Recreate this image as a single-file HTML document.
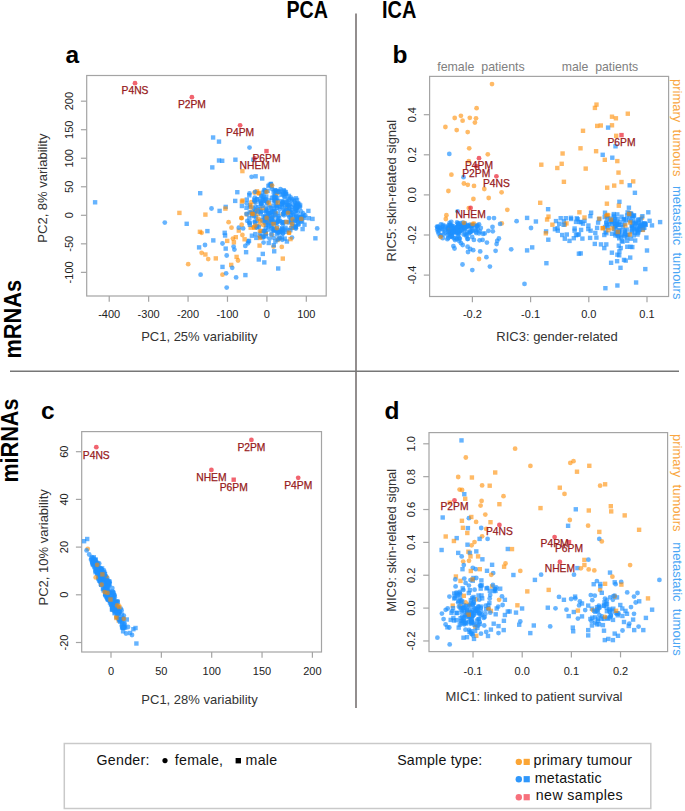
<!DOCTYPE html>
<html><head><meta charset="utf-8"><title>PCA ICA figure</title>
<style>html,body{margin:0;padding:0;background:#fff;width:685px;height:811px;overflow:hidden}text{font-family:"Liberation Sans", sans-serif}</style>
</head><body>
<svg width="685" height="811" viewBox="0 0 685 811" style="display:block;font-family:&quot;Liberation Sans&quot;, sans-serif"><text x="286.5" y="17.8" font-size="23.6" text-anchor="start" fill="#000" font-weight="bold" textLength="41.5" lengthAdjust="spacingAndGlyphs">PCA</text>
<text x="382" y="17.5" font-size="23.6" text-anchor="start" fill="#000" font-weight="bold" textLength="34.3" lengthAdjust="spacingAndGlyphs">ICA</text>
<text x="0" y="0" font-size="23.2" text-anchor="start" fill="#000" font-weight="bold" transform="translate(20.8,358.6) rotate(-90)" textLength="78.8" lengthAdjust="spacingAndGlyphs">mRNAs</text>
<text x="0" y="0" font-size="23.2" text-anchor="start" fill="#000" font-weight="bold" transform="translate(18.4,482.6) rotate(-90)" textLength="84" lengthAdjust="spacingAndGlyphs">miRNAs</text>
<line x1="356" y1="13.5" x2="356" y2="708" stroke="#878282" stroke-width="1.8"/>
<line x1="10" y1="371.2" x2="679" y2="371.2" stroke="#777" stroke-width="1.5"/>
<rect x="64.3" y="743.5" width="586.5" height="65" fill="none" stroke="#c9c9c9" stroke-width="1.5"/>
<rect x="86.7" y="75.5" width="239.5" height="220.5" fill="none" stroke="#a4a4a4" stroke-width="1.2"/>
<line x1="109.21999999999997" y1="296" x2="109.21999999999997" y2="301.8" stroke="#a4a4a4" stroke-width="1.2"/>
<text x="109.21999999999997" y="317.8" font-size="11" text-anchor="middle" fill="#222" font-weight="normal">-400</text>
<line x1="148.64" y1="296" x2="148.64" y2="301.8" stroke="#a4a4a4" stroke-width="1.2"/>
<text x="148.64" y="317.8" font-size="11" text-anchor="middle" fill="#222" font-weight="normal">-300</text>
<line x1="188.05999999999997" y1="296" x2="188.05999999999997" y2="301.8" stroke="#a4a4a4" stroke-width="1.2"/>
<text x="188.05999999999997" y="317.8" font-size="11" text-anchor="middle" fill="#222" font-weight="normal">-200</text>
<line x1="227.47999999999996" y1="296" x2="227.47999999999996" y2="301.8" stroke="#a4a4a4" stroke-width="1.2"/>
<text x="227.47999999999996" y="317.8" font-size="11" text-anchor="middle" fill="#222" font-weight="normal">-100</text>
<line x1="266.9" y1="296" x2="266.9" y2="301.8" stroke="#a4a4a4" stroke-width="1.2"/>
<text x="266.9" y="317.8" font-size="11" text-anchor="middle" fill="#222" font-weight="normal">0</text>
<line x1="306.32" y1="296" x2="306.32" y2="301.8" stroke="#a4a4a4" stroke-width="1.2"/>
<text x="306.32" y="317.8" font-size="11" text-anchor="middle" fill="#222" font-weight="normal">100</text>
<line x1="80.9" y1="101.18" x2="86.7" y2="101.18" stroke="#a4a4a4" stroke-width="1.2"/>
<text x="0" y="0" font-size="11" text-anchor="middle" fill="#222" font-weight="normal" transform="translate(72.9,101.18) rotate(-90)">200</text>
<line x1="80.9" y1="129.71" x2="86.7" y2="129.71" stroke="#a4a4a4" stroke-width="1.2"/>
<text x="0" y="0" font-size="11" text-anchor="middle" fill="#222" font-weight="normal" transform="translate(72.9,129.71) rotate(-90)">150</text>
<line x1="80.9" y1="158.24" x2="86.7" y2="158.24" stroke="#a4a4a4" stroke-width="1.2"/>
<text x="0" y="0" font-size="11" text-anchor="middle" fill="#222" font-weight="normal" transform="translate(72.9,158.24) rotate(-90)">100</text>
<line x1="80.9" y1="186.77" x2="86.7" y2="186.77" stroke="#a4a4a4" stroke-width="1.2"/>
<text x="0" y="0" font-size="11" text-anchor="middle" fill="#222" font-weight="normal" transform="translate(72.9,186.77) rotate(-90)">50</text>
<line x1="80.9" y1="215.3" x2="86.7" y2="215.3" stroke="#a4a4a4" stroke-width="1.2"/>
<text x="0" y="0" font-size="11" text-anchor="middle" fill="#222" font-weight="normal" transform="translate(72.9,215.3) rotate(-90)">0</text>
<line x1="80.9" y1="243.83" x2="86.7" y2="243.83" stroke="#a4a4a4" stroke-width="1.2"/>
<text x="0" y="0" font-size="11" text-anchor="middle" fill="#222" font-weight="normal" transform="translate(72.9,243.83) rotate(-90)">-50</text>
<line x1="80.9" y1="272.36" x2="86.7" y2="272.36" stroke="#a4a4a4" stroke-width="1.2"/>
<text x="0" y="0" font-size="11" text-anchor="middle" fill="#222" font-weight="normal" transform="translate(72.9,272.36) rotate(-90)">-100</text>
<text x="199.3" y="340.9" font-size="13" text-anchor="middle" fill="#333" font-weight="normal">PC1, 25% variability</text>
<text x="0" y="0" font-size="13" text-anchor="middle" fill="#333" font-weight="normal" transform="translate(47.2,188.1) rotate(-90)">PC2, 8% variability</text>
<text x="65.5" y="63.2" font-size="24.5" text-anchor="start" fill="#000" font-weight="bold">a</text>
<rect x="429.6" y="76.4" width="239.0" height="220.1" fill="none" stroke="#a4a4a4" stroke-width="1.2"/>
<line x1="472.4" y1="296.5" x2="472.4" y2="302.3" stroke="#a4a4a4" stroke-width="1.2"/>
<text x="472.4" y="318.4" font-size="11" text-anchor="middle" fill="#222" font-weight="normal">-0.2</text>
<line x1="530.5999999999999" y1="296.5" x2="530.5999999999999" y2="302.3" stroke="#a4a4a4" stroke-width="1.2"/>
<text x="530.5999999999999" y="318.4" font-size="11" text-anchor="middle" fill="#222" font-weight="normal">-0.1</text>
<line x1="588.8" y1="296.5" x2="588.8" y2="302.3" stroke="#a4a4a4" stroke-width="1.2"/>
<text x="588.8" y="318.4" font-size="11" text-anchor="middle" fill="#222" font-weight="normal">0.0</text>
<line x1="647.0" y1="296.5" x2="647.0" y2="302.3" stroke="#a4a4a4" stroke-width="1.2"/>
<text x="647.0" y="318.4" font-size="11" text-anchor="middle" fill="#222" font-weight="normal">0.1</text>
<line x1="423.8" y1="114.7" x2="429.6" y2="114.7" stroke="#a4a4a4" stroke-width="1.2"/>
<text x="0" y="0" font-size="11" text-anchor="middle" fill="#222" font-weight="normal" transform="translate(415.5,114.7) rotate(-90)">0.4</text>
<line x1="423.8" y1="154.8" x2="429.6" y2="154.8" stroke="#a4a4a4" stroke-width="1.2"/>
<text x="0" y="0" font-size="11" text-anchor="middle" fill="#222" font-weight="normal" transform="translate(415.5,154.8) rotate(-90)">0.2</text>
<line x1="423.8" y1="194.9" x2="429.6" y2="194.9" stroke="#a4a4a4" stroke-width="1.2"/>
<text x="0" y="0" font-size="11" text-anchor="middle" fill="#222" font-weight="normal" transform="translate(415.5,194.9) rotate(-90)">0.0</text>
<line x1="423.8" y1="235.0" x2="429.6" y2="235.0" stroke="#a4a4a4" stroke-width="1.2"/>
<text x="0" y="0" font-size="11" text-anchor="middle" fill="#222" font-weight="normal" transform="translate(415.5,235.0) rotate(-90)">-0.2</text>
<line x1="423.8" y1="275.1" x2="429.6" y2="275.1" stroke="#a4a4a4" stroke-width="1.2"/>
<text x="0" y="0" font-size="11" text-anchor="middle" fill="#222" font-weight="normal" transform="translate(415.5,275.1) rotate(-90)">-0.4</text>
<text x="557" y="340.6" font-size="13" text-anchor="middle" fill="#333" font-weight="normal">RIC3: gender-related</text>
<text x="0" y="0" font-size="13" text-anchor="middle" fill="#333" font-weight="normal" transform="translate(395.9,190.6) rotate(-90)">RIC5: skin-related signal</text>
<text x="392.5" y="63" font-size="24.5" text-anchor="start" fill="#000" font-weight="bold">b</text>
<rect x="81.7" y="431.6" width="239.8" height="220.39999999999998" fill="none" stroke="#a4a4a4" stroke-width="1.2"/>
<line x1="111.0" y1="652" x2="111.0" y2="657.8" stroke="#a4a4a4" stroke-width="1.2"/>
<text x="111.0" y="674.6" font-size="11" text-anchor="middle" fill="#222" font-weight="normal">0</text>
<line x1="161.35" y1="652" x2="161.35" y2="657.8" stroke="#a4a4a4" stroke-width="1.2"/>
<text x="161.35" y="674.6" font-size="11" text-anchor="middle" fill="#222" font-weight="normal">50</text>
<line x1="211.7" y1="652" x2="211.7" y2="657.8" stroke="#a4a4a4" stroke-width="1.2"/>
<text x="211.7" y="674.6" font-size="11" text-anchor="middle" fill="#222" font-weight="normal">100</text>
<line x1="262.04999999999995" y1="652" x2="262.04999999999995" y2="657.8" stroke="#a4a4a4" stroke-width="1.2"/>
<text x="262.04999999999995" y="674.6" font-size="11" text-anchor="middle" fill="#222" font-weight="normal">150</text>
<line x1="312.4" y1="652" x2="312.4" y2="657.8" stroke="#a4a4a4" stroke-width="1.2"/>
<text x="312.4" y="674.6" font-size="11" text-anchor="middle" fill="#222" font-weight="normal">200</text>
<line x1="75.9" y1="451.69999999999993" x2="81.7" y2="451.69999999999993" stroke="#a4a4a4" stroke-width="1.2"/>
<text x="0" y="0" font-size="11" text-anchor="middle" fill="#222" font-weight="normal" transform="translate(68.1,451.69999999999993) rotate(-90)">60</text>
<line x1="75.9" y1="499.4" x2="81.7" y2="499.4" stroke="#a4a4a4" stroke-width="1.2"/>
<text x="0" y="0" font-size="11" text-anchor="middle" fill="#222" font-weight="normal" transform="translate(68.1,499.4) rotate(-90)">40</text>
<line x1="75.9" y1="547.0999999999999" x2="81.7" y2="547.0999999999999" stroke="#a4a4a4" stroke-width="1.2"/>
<text x="0" y="0" font-size="11" text-anchor="middle" fill="#222" font-weight="normal" transform="translate(68.1,547.0999999999999) rotate(-90)">20</text>
<line x1="75.9" y1="594.8" x2="81.7" y2="594.8" stroke="#a4a4a4" stroke-width="1.2"/>
<text x="0" y="0" font-size="11" text-anchor="middle" fill="#222" font-weight="normal" transform="translate(68.1,594.8) rotate(-90)">0</text>
<line x1="75.9" y1="642.5" x2="81.7" y2="642.5" stroke="#a4a4a4" stroke-width="1.2"/>
<text x="0" y="0" font-size="11" text-anchor="middle" fill="#222" font-weight="normal" transform="translate(68.1,642.5) rotate(-90)">-20</text>
<text x="199.5" y="703.8" font-size="13" text-anchor="middle" fill="#333" font-weight="normal">PC1, 28% variability</text>
<text x="0" y="0" font-size="13" text-anchor="middle" fill="#333" font-weight="normal" transform="translate(47.9,547.3) rotate(-90)">PC2, 10% variability</text>
<text x="41" y="419" font-size="24.5" text-anchor="start" fill="#000" font-weight="bold">c</text>
<rect x="429" y="432.6" width="238.60000000000002" height="219.0" fill="none" stroke="#a4a4a4" stroke-width="1.2"/>
<line x1="473.03000000000003" y1="651.6" x2="473.03000000000003" y2="657.4" stroke="#a4a4a4" stroke-width="1.2"/>
<text x="473.03000000000003" y="674.6" font-size="11" text-anchor="middle" fill="#222" font-weight="normal">-0.1</text>
<line x1="522.2" y1="651.6" x2="522.2" y2="657.4" stroke="#a4a4a4" stroke-width="1.2"/>
<text x="522.2" y="674.6" font-size="11" text-anchor="middle" fill="#222" font-weight="normal">0.0</text>
<line x1="571.37" y1="651.6" x2="571.37" y2="657.4" stroke="#a4a4a4" stroke-width="1.2"/>
<text x="571.37" y="674.6" font-size="11" text-anchor="middle" fill="#222" font-weight="normal">0.1</text>
<line x1="620.5400000000001" y1="651.6" x2="620.5400000000001" y2="657.4" stroke="#a4a4a4" stroke-width="1.2"/>
<text x="620.5400000000001" y="674.6" font-size="11" text-anchor="middle" fill="#222" font-weight="normal">0.2</text>
<line x1="423.2" y1="443.8" x2="429" y2="443.8" stroke="#a4a4a4" stroke-width="1.2"/>
<text x="0" y="0" font-size="11" text-anchor="middle" fill="#222" font-weight="normal" transform="translate(414.5,443.8) rotate(-90)">1.0</text>
<line x1="423.2" y1="476.65999999999997" x2="429" y2="476.65999999999997" stroke="#a4a4a4" stroke-width="1.2"/>
<text x="0" y="0" font-size="11" text-anchor="middle" fill="#222" font-weight="normal" transform="translate(414.5,476.65999999999997) rotate(-90)">0.8</text>
<line x1="423.2" y1="509.52000000000004" x2="429" y2="509.52000000000004" stroke="#a4a4a4" stroke-width="1.2"/>
<text x="0" y="0" font-size="11" text-anchor="middle" fill="#222" font-weight="normal" transform="translate(414.5,509.52000000000004) rotate(-90)">0.6</text>
<line x1="423.2" y1="542.38" x2="429" y2="542.38" stroke="#a4a4a4" stroke-width="1.2"/>
<text x="0" y="0" font-size="11" text-anchor="middle" fill="#222" font-weight="normal" transform="translate(414.5,542.38) rotate(-90)">0.4</text>
<line x1="423.2" y1="575.24" x2="429" y2="575.24" stroke="#a4a4a4" stroke-width="1.2"/>
<text x="0" y="0" font-size="11" text-anchor="middle" fill="#222" font-weight="normal" transform="translate(414.5,575.24) rotate(-90)">0.2</text>
<line x1="423.2" y1="608.1" x2="429" y2="608.1" stroke="#a4a4a4" stroke-width="1.2"/>
<text x="0" y="0" font-size="11" text-anchor="middle" fill="#222" font-weight="normal" transform="translate(414.5,608.1) rotate(-90)">0.0</text>
<line x1="423.2" y1="640.96" x2="429" y2="640.96" stroke="#a4a4a4" stroke-width="1.2"/>
<text x="0" y="0" font-size="11" text-anchor="middle" fill="#222" font-weight="normal" transform="translate(414.5,640.96) rotate(-90)">-0.2</text>
<text x="534" y="700.7" font-size="13" text-anchor="middle" fill="#333" font-weight="normal">MIC1: linked to patient survival</text>
<text x="0" y="0" font-size="13" text-anchor="middle" fill="#333" font-weight="normal" transform="translate(395.9,540.3) rotate(-90)">MIC9: skin-related signal</text>
<text x="384.5" y="419" font-size="24.5" text-anchor="start" fill="#000" font-weight="bold">d</text>
<text x="437.2" y="70.7" font-size="13" text-anchor="start" fill="#808080" font-weight="normal" textLength="87.5" lengthAdjust="spacingAndGlyphs">female&#160; patients</text>
<text x="561.8" y="70.7" font-size="13" text-anchor="start" fill="#808080" font-weight="normal" textLength="76.4" lengthAdjust="spacingAndGlyphs">male&#160; patients</text>
<text x="0" y="0" font-size="13" text-anchor="start" fill="#f9a640" font-weight="normal" transform="translate(673,79) rotate(90)">primary&#160; tumours</text>
<text x="0" y="0" font-size="13" text-anchor="start" fill="#4aa6f5" font-weight="normal" transform="translate(673,186) rotate(90)">metastatic&#160; tumours</text>
<text x="0" y="0" font-size="13" text-anchor="start" fill="#f9a640" font-weight="normal" transform="translate(673,434) rotate(90)">primary&#160; tumours</text>
<text x="0" y="0" font-size="13" text-anchor="start" fill="#4aa6f5" font-weight="normal" transform="translate(673,542.3) rotate(90)">metastatic&#160; tumours</text>
<text x="96.4" y="764.9" font-size="14.2" text-anchor="start" fill="#111" font-weight="normal" textLength="53.1" lengthAdjust="spacing">Gender:</text>
<circle cx="165" cy="760.6" r="2.6" fill="#000"/>
<text x="174.8" y="764.9" font-size="14.2" text-anchor="start" fill="#111" font-weight="normal" textLength="48.2" lengthAdjust="spacing">female,</text>
<rect x="235.6" y="758" width="5.4" height="5.4" fill="#000"/>
<text x="245.6" y="764.9" font-size="14.2" text-anchor="start" fill="#111" font-weight="normal" textLength="31.5" lengthAdjust="spacing">male</text>
<text x="397.2" y="765.4" font-size="14.2" text-anchor="start" fill="#111" font-weight="normal" textLength="85" lengthAdjust="spacing">Sample type:</text>
<circle cx="518.8" cy="761.9" r="3.2" fill="#fba535"/>
<rect x="523.6" y="758.8" width="6.2" height="6.2" fill="#fba535"/>
<circle cx="518.8" cy="779.2" r="3.2" fill="#2f97fb"/>
<rect x="523.6" y="776.1" width="6.2" height="6.2" fill="#2f97fb"/>
<circle cx="518.8" cy="797.2" r="3.2" fill="#f7707c"/>
<rect x="523.6" y="794.1" width="6.2" height="6.2" fill="#f7707c"/>
<text x="533.6" y="765.4" font-size="14.2" text-anchor="start" fill="#111" font-weight="normal" textLength="98.4" lengthAdjust="spacing">primary tumour</text>
<text x="534.8" y="782.7" font-size="14.2" text-anchor="start" fill="#111" font-weight="normal" textLength="66.8" lengthAdjust="spacing">metastatic</text>
<text x="535.8" y="800.4" font-size="14.2" text-anchor="start" fill="#111" font-weight="normal" textLength="86.8" lengthAdjust="spacing">new samples</text>
<rect x="92.9" y="200.1" width="4.4" height="4.4" fill="rgba(30,144,255,0.68)"/>
<rect x="198.0" y="191.0" width="4.4" height="4.4" fill="rgba(30,144,255,0.68)"/>
<rect x="177.2" y="210.7" width="4.4" height="4.4" fill="rgba(255,140,0,0.6)"/>
<rect x="203.2" y="212.4" width="4.4" height="4.4" fill="rgba(255,140,0,0.6)"/>
<circle cx="164.8" cy="222.6" r="2.4" fill="rgba(30,144,255,0.68)"/>
<rect x="184.5" y="221.6" width="4.4" height="4.4" fill="rgba(30,144,255,0.68)"/>
<rect x="197.7" y="229.6" width="4.4" height="4.4" fill="rgba(255,140,0,0.6)"/>
<circle cx="201.6" cy="232.8" r="2.4" fill="rgba(255,140,0,0.6)"/>
<rect x="210.9" y="135.3" width="4.4" height="4.4" fill="rgba(30,144,255,0.68)"/>
<rect x="216.8" y="139.4" width="4.4" height="4.4" fill="rgba(30,144,255,0.68)"/>
<circle cx="249.5" cy="147.6" r="2.4" fill="rgba(30,144,255,0.68)"/>
<rect x="216.8" y="158.3" width="4.4" height="4.4" fill="rgba(30,144,255,0.68)"/>
<rect x="220.0" y="158.6" width="4.4" height="4.4" fill="rgba(30,144,255,0.68)"/>
<rect x="233.2" y="157.5" width="4.4" height="4.4" fill="rgba(30,144,255,0.68)"/>
<rect x="210.1" y="165.2" width="4.4" height="4.4" fill="rgba(30,144,255,0.68)"/>
<rect x="240.2" y="168.9" width="4.4" height="4.4" fill="rgba(255,140,0,0.6)"/>
<circle cx="251.6" cy="176.8" r="2.4" fill="rgba(30,144,255,0.68)"/>
<rect x="253.4" y="174.1" width="4.4" height="4.4" fill="rgba(30,144,255,0.68)"/>
<rect x="260.0" y="176.3" width="4.4" height="4.4" fill="rgba(30,144,255,0.68)"/>
<rect x="251.2" y="157.5" width="4.4" height="4.4" fill="rgba(30,144,255,0.68)"/>
<rect x="235.1" y="190.0" width="4.4" height="4.4" fill="rgba(30,144,255,0.68)"/>
<rect x="233.0" y="198.7" width="4.4" height="4.4" fill="rgba(30,144,255,0.68)"/>
<circle cx="211.5" cy="208.5" r="2.4" fill="rgba(30,144,255,0.68)"/>
<rect x="217.4" y="208.7" width="4.4" height="4.4" fill="rgba(30,144,255,0.68)"/>
<rect x="223.5" y="204.7" width="4.4" height="4.4" fill="rgba(30,144,255,0.68)"/>
<rect x="223.2" y="206.4" width="4.4" height="4.4" fill="rgba(255,140,0,0.6)"/>
<rect x="239.7" y="199.4" width="4.4" height="4.4" fill="rgba(255,140,0,0.6)"/>
<rect x="239.7" y="203.8" width="4.4" height="4.4" fill="rgba(30,144,255,0.68)"/>
<rect x="244.5" y="212.1" width="4.4" height="4.4" fill="rgba(255,140,0,0.6)"/>
<circle cx="241.5" cy="218.2" r="2.4" fill="rgba(255,140,0,0.6)"/>
<rect x="268.7" y="181.7" width="4.4" height="4.4" fill="rgba(30,144,255,0.68)"/>
<rect x="284.0" y="191.9" width="4.4" height="4.4" fill="rgba(30,144,255,0.68)"/>
<rect x="306.2" y="208.7" width="4.4" height="4.4" fill="rgba(30,144,255,0.68)"/>
<rect x="310.3" y="216.7" width="4.4" height="4.4" fill="rgba(30,144,255,0.68)"/>
<circle cx="305.2" cy="215.3" r="2.4" fill="rgba(30,144,255,0.68)"/>
<rect x="306.6" y="216.0" width="4.4" height="4.4" fill="rgba(30,144,255,0.68)"/>
<rect x="302.3" y="222.5" width="4.4" height="4.4" fill="rgba(30,144,255,0.68)"/>
<rect x="300.4" y="226.9" width="4.4" height="4.4" fill="rgba(30,144,255,0.68)"/>
<circle cx="317.2" cy="228.4" r="2.4" fill="rgba(30,144,255,0.68)"/>
<rect x="313.2" y="236.1" width="4.4" height="4.4" fill="rgba(30,144,255,0.68)"/>
<circle cx="302.0" cy="218.9" r="2.4" fill="rgba(255,140,0,0.6)"/>
<circle cx="289.1" cy="232.8" r="2.4" fill="rgba(255,140,0,0.6)"/>
<circle cx="292.0" cy="237.6" r="2.4" fill="rgba(30,144,255,0.68)"/>
<rect x="284.7" y="239.3" width="4.4" height="4.4" fill="rgba(30,144,255,0.68)"/>
<rect x="282.5" y="236.4" width="4.4" height="4.4" fill="rgba(30,144,255,0.68)"/>
<rect x="277.4" y="236.4" width="4.4" height="4.4" fill="rgba(255,140,0,0.6)"/>
<circle cx="281.8" cy="246.9" r="2.4" fill="rgba(255,140,0,0.6)"/>
<rect x="272.0" y="249.1" width="4.4" height="4.4" fill="rgba(30,144,255,0.68)"/>
<circle cx="273.5" cy="246.6" r="2.4" fill="rgba(255,140,0,0.6)"/>
<rect x="271.6" y="243.0" width="4.4" height="4.4" fill="rgba(30,144,255,0.68)"/>
<rect x="266.5" y="240.8" width="4.4" height="4.4" fill="rgba(30,144,255,0.68)"/>
<circle cx="263.6" cy="242.6" r="2.4" fill="rgba(30,144,255,0.68)"/>
<rect x="260.6" y="251.7" width="4.4" height="4.4" fill="rgba(30,144,255,0.68)"/>
<rect x="256.6" y="257.3" width="4.4" height="4.4" fill="rgba(30,144,255,0.68)"/>
<rect x="262.1" y="260.2" width="4.4" height="4.4" fill="rgba(30,144,255,0.68)"/>
<rect x="280.6" y="256.4" width="4.4" height="4.4" fill="rgba(255,140,0,0.6)"/>
<rect x="257.4" y="243.4" width="4.4" height="4.4" fill="rgba(255,140,0,0.6)"/>
<rect x="243.9" y="250.0" width="4.4" height="4.4" fill="rgba(30,144,255,0.68)"/>
<circle cx="245.3" cy="245.9" r="2.4" fill="rgba(30,144,255,0.68)"/>
<circle cx="248.2" cy="241.5" r="2.4" fill="rgba(30,144,255,0.68)"/>
<rect x="246.8" y="238.6" width="4.4" height="4.4" fill="rgba(30,144,255,0.68)"/>
<circle cx="233.6" cy="246.6" r="2.4" fill="rgba(30,144,255,0.68)"/>
<circle cx="234.4" cy="249.6" r="2.4" fill="rgba(30,144,255,0.68)"/>
<circle cx="232.9" cy="238.6" r="2.4" fill="rgba(255,140,0,0.6)"/>
<rect x="233.6" y="235.0" width="4.4" height="4.4" fill="rgba(255,140,0,0.6)"/>
<circle cx="242.4" cy="235.0" r="2.4" fill="rgba(255,140,0,0.6)"/>
<rect x="242.4" y="237.1" width="4.4" height="4.4" fill="rgba(255,140,0,0.6)"/>
<rect x="249.7" y="233.5" width="4.4" height="4.4" fill="rgba(30,144,255,0.68)"/>
<rect x="254.1" y="235.7" width="4.4" height="4.4" fill="rgba(30,144,255,0.68)"/>
<circle cx="238.0" cy="260.5" r="2.4" fill="rgba(255,140,0,0.6)"/>
<rect x="234.4" y="254.7" width="4.4" height="4.4" fill="rgba(255,140,0,0.6)"/>
<circle cx="231.5" cy="227.7" r="2.4" fill="rgba(255,140,0,0.6)"/>
<rect x="236.6" y="228.4" width="4.4" height="4.4" fill="rgba(255,140,0,0.6)"/>
<circle cx="238.8" cy="227.7" r="2.4" fill="rgba(30,144,255,0.68)"/>
<circle cx="243.1" cy="228.4" r="2.4" fill="rgba(30,144,255,0.68)"/>
<circle cx="241.7" cy="224.7" r="2.4" fill="rgba(255,140,0,0.6)"/>
<rect x="229.0" y="262.7" width="4.4" height="4.4" fill="rgba(255,140,0,0.6)"/>
<circle cx="232.2" cy="267.8" r="2.4" fill="rgba(30,144,255,0.68)"/>
<rect x="276.0" y="266.3" width="4.4" height="4.4" fill="rgba(30,144,255,0.68)"/>
<rect x="205.2" y="228.9" width="4.4" height="4.4" fill="rgba(30,144,255,0.68)"/>
<rect x="222.5" y="230.6" width="4.4" height="4.4" fill="rgba(30,144,255,0.68)"/>
<rect x="222.9" y="233.3" width="4.4" height="4.4" fill="rgba(30,144,255,0.68)"/>
<circle cx="228.6" cy="222.2" r="2.4" fill="rgba(255,140,0,0.6)"/>
<rect x="211.1" y="238.2" width="4.4" height="4.4" fill="rgba(30,144,255,0.68)"/>
<circle cx="205.0" cy="245.0" r="2.4" fill="rgba(30,144,255,0.68)"/>
<rect x="196.9" y="245.2" width="4.4" height="4.4" fill="rgba(30,144,255,0.68)"/>
<circle cx="222.5" cy="243.5" r="2.4" fill="rgba(30,144,255,0.68)"/>
<rect x="225.0" y="238.7" width="4.4" height="4.4" fill="rgba(255,140,0,0.6)"/>
<rect x="231.7" y="240.1" width="4.4" height="4.4" fill="rgba(255,140,0,0.6)"/>
<rect x="223.5" y="246.4" width="4.4" height="4.4" fill="rgba(30,144,255,0.68)"/>
<circle cx="201.6" cy="252.8" r="2.4" fill="rgba(255,140,0,0.6)"/>
<rect x="203.2" y="252.3" width="4.4" height="4.4" fill="rgba(255,140,0,0.6)"/>
<circle cx="208.2" cy="259.1" r="2.4" fill="rgba(255,140,0,0.6)"/>
<rect x="213.6" y="256.2" width="4.4" height="4.4" fill="rgba(255,140,0,0.6)"/>
<circle cx="226.7" cy="255.5" r="2.4" fill="rgba(30,144,255,0.68)"/>
<circle cx="188.2" cy="264.2" r="2.4" fill="rgba(255,140,0,0.6)"/>
<rect x="220.3" y="264.7" width="4.4" height="4.4" fill="rgba(30,144,255,0.68)"/>
<circle cx="200.6" cy="274.7" r="2.4" fill="rgba(30,144,255,0.68)"/>
<circle cx="222.5" cy="274.7" r="2.4" fill="rgba(255,140,0,0.6)"/>
<circle cx="226.1" cy="273.3" r="2.4" fill="rgba(30,144,255,0.68)"/>
<circle cx="236.1" cy="277.4" r="2.4" fill="rgba(30,144,255,0.68)"/>
<circle cx="226.7" cy="287.6" r="2.4" fill="rgba(30,144,255,0.68)"/>
<circle cx="247.9" cy="243.3" r="2.4" fill="rgba(30,144,255,0.68)"/>
<circle cx="263.2" cy="237.5" r="2.4" fill="rgba(30,144,255,0.68)"/>
<rect x="243.2" y="272.9" width="4.4" height="4.4" fill="rgba(30,144,255,0.68)"/>
<rect x="252.1" y="213.9" width="4.4" height="4.4" fill="rgba(30,144,255,0.68)"/>
<rect x="248.0" y="202.9" width="4.4" height="4.4" fill="rgba(255,140,0,0.6)"/>
<circle cx="254.6" cy="201.8" r="2.4" fill="rgba(255,140,0,0.6)"/>
<rect x="263.6" y="231.4" width="4.4" height="4.4" fill="rgba(30,144,255,0.68)"/>
<circle cx="260.2" cy="201.2" r="2.4" fill="rgba(30,144,255,0.68)"/>
<circle cx="249.3" cy="222.4" r="2.4" fill="rgba(30,144,255,0.68)"/>
<rect x="247.7" y="204.4" width="4.4" height="4.4" fill="rgba(30,144,255,0.68)"/>
<circle cx="251.3" cy="202.1" r="2.4" fill="rgba(255,140,0,0.6)"/>
<rect x="252.4" y="225.6" width="4.4" height="4.4" fill="rgba(255,140,0,0.6)"/>
<circle cx="251.2" cy="211.3" r="2.4" fill="rgba(255,140,0,0.6)"/>
<circle cx="259.7" cy="235.9" r="2.4" fill="rgba(255,140,0,0.6)"/>
<circle cx="255.6" cy="202.7" r="2.4" fill="rgba(30,144,255,0.68)"/>
<rect x="257.1" y="190.7" width="4.4" height="4.4" fill="rgba(255,140,0,0.6)"/>
<circle cx="256.9" cy="220.9" r="2.4" fill="rgba(30,144,255,0.68)"/>
<circle cx="271.9" cy="234.9" r="2.4" fill="rgba(255,140,0,0.6)"/>
<rect x="255.0" y="196.9" width="4.4" height="4.4" fill="rgba(30,144,255,0.68)"/>
<rect x="254.5" y="224.1" width="4.4" height="4.4" fill="rgba(30,144,255,0.68)"/>
<circle cx="253.9" cy="227.2" r="2.4" fill="rgba(255,140,0,0.6)"/>
<circle cx="271.2" cy="234.2" r="2.4" fill="rgba(30,144,255,0.68)"/>
<circle cx="246.7" cy="203.3" r="2.4" fill="rgba(30,144,255,0.68)"/>
<circle cx="253.9" cy="208.5" r="2.4" fill="rgba(30,144,255,0.68)"/>
<rect x="260.1" y="234.0" width="4.4" height="4.4" fill="rgba(30,144,255,0.68)"/>
<rect x="275.3" y="237.8" width="4.4" height="4.4" fill="rgba(255,140,0,0.6)"/>
<rect x="247.2" y="215.7" width="4.4" height="4.4" fill="rgba(30,144,255,0.68)"/>
<rect x="279.5" y="235.3" width="4.4" height="4.4" fill="rgba(30,144,255,0.68)"/>
<rect x="262.6" y="228.7" width="4.4" height="4.4" fill="rgba(30,144,255,0.68)"/>
<rect x="247.4" y="220.7" width="4.4" height="4.4" fill="rgba(30,144,255,0.68)"/>
<rect x="263.6" y="231.2" width="4.4" height="4.4" fill="rgba(255,140,0,0.6)"/>
<circle cx="247.3" cy="220.9" r="2.4" fill="rgba(30,144,255,0.68)"/>
<circle cx="273.7" cy="237.8" r="2.4" fill="rgba(30,144,255,0.68)"/>
<circle cx="259.5" cy="224.9" r="2.4" fill="rgba(255,140,0,0.6)"/>
<rect x="263.7" y="234.1" width="4.4" height="4.4" fill="rgba(30,144,255,0.68)"/>
<rect x="252.7" y="209.6" width="4.4" height="4.4" fill="rgba(30,144,255,0.68)"/>
<rect x="249.9" y="213.1" width="4.4" height="4.4" fill="rgba(30,144,255,0.68)"/>
<circle cx="278.0" cy="239.4" r="2.4" fill="rgba(30,144,255,0.68)"/>
<circle cx="255.6" cy="210.9" r="2.4" fill="rgba(30,144,255,0.68)"/>
<circle cx="260.2" cy="233.5" r="2.4" fill="rgba(30,144,255,0.68)"/>
<circle cx="259.9" cy="231.0" r="2.4" fill="rgba(255,140,0,0.6)"/>
<circle cx="282.3" cy="239.8" r="2.4" fill="rgba(30,144,255,0.68)"/>
<circle cx="246.5" cy="214.0" r="2.4" fill="rgba(30,144,255,0.68)"/>
<rect x="256.1" y="205.1" width="4.4" height="4.4" fill="rgba(30,144,255,0.68)"/>
<circle cx="263.7" cy="231.0" r="2.4" fill="rgba(30,144,255,0.68)"/>
<rect x="249.6" y="210.8" width="4.4" height="4.4" fill="rgba(30,144,255,0.68)"/>
<circle cx="260.4" cy="237.2" r="2.4" fill="rgba(30,144,255,0.68)"/>
<rect x="247.5" y="210.2" width="4.4" height="4.4" fill="rgba(30,144,255,0.68)"/>
<circle cx="261.1" cy="230.8" r="2.4" fill="rgba(255,140,0,0.6)"/>
<rect x="253.8" y="214.7" width="4.4" height="4.4" fill="rgba(30,144,255,0.68)"/>
<rect x="257.8" y="207.0" width="4.4" height="4.4" fill="rgba(30,144,255,0.68)"/>
<rect x="253.2" y="231.9" width="4.4" height="4.4" fill="rgba(30,144,255,0.68)"/>
<circle cx="264.0" cy="231.5" r="2.4" fill="rgba(30,144,255,0.68)"/>
<circle cx="258.1" cy="214.1" r="2.4" fill="rgba(255,140,0,0.6)"/>
<circle cx="254.6" cy="221.7" r="2.4" fill="rgba(30,144,255,0.68)"/>
<circle cx="254.7" cy="201.0" r="2.4" fill="rgba(30,144,255,0.68)"/>
<rect x="248.5" y="225.5" width="4.4" height="4.4" fill="rgba(255,140,0,0.6)"/>
<circle cx="257.3" cy="199.5" r="2.4" fill="rgba(30,144,255,0.68)"/>
<rect x="253.0" y="220.3" width="4.4" height="4.4" fill="rgba(30,144,255,0.68)"/>
<rect x="258.0" y="235.7" width="4.4" height="4.4" fill="rgba(255,140,0,0.6)"/>
<circle cx="256.8" cy="227.5" r="2.4" fill="rgba(30,144,255,0.68)"/>
<rect x="244.6" y="197.4" width="4.4" height="4.4" fill="rgba(30,144,255,0.68)"/>
<circle cx="254.5" cy="192.7" r="2.4" fill="rgba(255,140,0,0.6)"/>
<rect x="252.1" y="197.6" width="4.4" height="4.4" fill="rgba(30,144,255,0.68)"/>
<circle cx="260.7" cy="213.7" r="2.4" fill="rgba(30,144,255,0.68)"/>
<circle cx="254.2" cy="213.1" r="2.4" fill="rgba(30,144,255,0.68)"/>
<circle cx="254.8" cy="197.7" r="2.4" fill="rgba(30,144,255,0.68)"/>
<rect x="244.3" y="205.6" width="4.4" height="4.4" fill="rgba(30,144,255,0.68)"/>
<circle cx="257.5" cy="210.3" r="2.4" fill="rgba(255,140,0,0.6)"/>
<circle cx="253.2" cy="214.0" r="2.4" fill="rgba(255,140,0,0.6)"/>
<circle cx="258.8" cy="227.0" r="2.4" fill="rgba(30,144,255,0.68)"/>
<rect x="254.8" y="189.1" width="4.4" height="4.4" fill="rgba(255,140,0,0.6)"/>
<circle cx="263.5" cy="236.6" r="2.4" fill="rgba(30,144,255,0.68)"/>
<rect x="288.3" y="236.9" width="4.4" height="4.4" fill="rgba(255,140,0,0.6)"/>
<circle cx="269.6" cy="238.7" r="2.4" fill="rgba(30,144,255,0.68)"/>
<circle cx="255.2" cy="191.8" r="2.4" fill="rgba(30,144,255,0.68)"/>
<circle cx="258.2" cy="211.5" r="2.4" fill="rgba(30,144,255,0.68)"/>
<rect x="247.7" y="222.6" width="4.4" height="4.4" fill="rgba(30,144,255,0.68)"/>
<rect x="253.3" y="205.0" width="4.4" height="4.4" fill="rgba(30,144,255,0.68)"/>
<rect x="247.1" y="193.1" width="4.4" height="4.4" fill="rgba(30,144,255,0.68)"/>
<rect x="273.2" y="239.2" width="4.4" height="4.4" fill="rgba(30,144,255,0.68)"/>
<circle cx="279.6" cy="237.8" r="2.4" fill="rgba(30,144,255,0.68)"/>
<circle cx="249.5" cy="193.4" r="2.4" fill="rgba(30,144,255,0.68)"/>
<circle cx="266.0" cy="227.9" r="2.4" fill="rgba(30,144,255,0.68)"/>
<rect x="280.1" y="204.6" width="4.4" height="4.4" fill="rgba(30,144,255,0.68)"/>
<circle cx="297.6" cy="205.9" r="2.4" fill="rgba(30,144,255,0.68)"/>
<rect x="277.8" y="219.0" width="4.4" height="4.4" fill="rgba(30,144,255,0.68)"/>
<circle cx="261.1" cy="211.7" r="2.4" fill="rgba(30,144,255,0.68)"/>
<circle cx="269.7" cy="205.4" r="2.4" fill="rgba(255,140,0,0.6)"/>
<circle cx="279.7" cy="209.3" r="2.4" fill="rgba(30,144,255,0.68)"/>
<circle cx="269.8" cy="207.4" r="2.4" fill="rgba(30,144,255,0.68)"/>
<circle cx="297.7" cy="212.5" r="2.4" fill="rgba(30,144,255,0.68)"/>
<rect x="263.2" y="198.4" width="4.4" height="4.4" fill="rgba(30,144,255,0.68)"/>
<rect x="295.2" y="216.3" width="4.4" height="4.4" fill="rgba(30,144,255,0.68)"/>
<circle cx="282.7" cy="214.2" r="2.4" fill="rgba(255,140,0,0.6)"/>
<rect x="293.7" y="202.8" width="4.4" height="4.4" fill="rgba(30,144,255,0.68)"/>
<circle cx="291.6" cy="218.7" r="2.4" fill="rgba(30,144,255,0.68)"/>
<circle cx="282.9" cy="224.3" r="2.4" fill="rgba(30,144,255,0.68)"/>
<rect x="259.8" y="218.1" width="4.4" height="4.4" fill="rgba(30,144,255,0.68)"/>
<rect x="275.5" y="189.8" width="4.4" height="4.4" fill="rgba(30,144,255,0.68)"/>
<circle cx="294.7" cy="211.6" r="2.4" fill="rgba(30,144,255,0.68)"/>
<circle cx="283.1" cy="233.5" r="2.4" fill="rgba(30,144,255,0.68)"/>
<circle cx="272.1" cy="212.0" r="2.4" fill="rgba(30,144,255,0.68)"/>
<rect x="293.1" y="224.3" width="4.4" height="4.4" fill="rgba(30,144,255,0.68)"/>
<circle cx="296.4" cy="210.5" r="2.4" fill="rgba(30,144,255,0.68)"/>
<circle cx="285.6" cy="193.6" r="2.4" fill="rgba(30,144,255,0.68)"/>
<rect x="273.9" y="199.1" width="4.4" height="4.4" fill="rgba(30,144,255,0.68)"/>
<circle cx="287.6" cy="207.3" r="2.4" fill="rgba(255,140,0,0.6)"/>
<rect x="265.8" y="211.8" width="4.4" height="4.4" fill="rgba(30,144,255,0.68)"/>
<rect x="293.7" y="224.1" width="4.4" height="4.4" fill="rgba(30,144,255,0.68)"/>
<circle cx="264.9" cy="216.1" r="2.4" fill="rgba(30,144,255,0.68)"/>
<circle cx="267.2" cy="211.0" r="2.4" fill="rgba(30,144,255,0.68)"/>
<circle cx="292.0" cy="207.1" r="2.4" fill="rgba(30,144,255,0.68)"/>
<circle cx="261.1" cy="203.5" r="2.4" fill="rgba(30,144,255,0.68)"/>
<rect x="280.8" y="191.9" width="4.4" height="4.4" fill="rgba(30,144,255,0.68)"/>
<rect x="264.4" y="218.9" width="4.4" height="4.4" fill="rgba(30,144,255,0.68)"/>
<rect x="288.3" y="209.7" width="4.4" height="4.4" fill="rgba(30,144,255,0.68)"/>
<rect x="293.7" y="208.2" width="4.4" height="4.4" fill="rgba(30,144,255,0.68)"/>
<rect x="275.6" y="211.3" width="4.4" height="4.4" fill="rgba(30,144,255,0.68)"/>
<rect x="260.4" y="196.6" width="4.4" height="4.4" fill="rgba(30,144,255,0.68)"/>
<rect x="271.6" y="226.3" width="4.4" height="4.4" fill="rgba(30,144,255,0.68)"/>
<circle cx="293.5" cy="205.1" r="2.4" fill="rgba(30,144,255,0.68)"/>
<rect x="283.5" y="189.9" width="4.4" height="4.4" fill="rgba(30,144,255,0.68)"/>
<circle cx="291.7" cy="210.0" r="2.4" fill="rgba(30,144,255,0.68)"/>
<circle cx="269.3" cy="218.7" r="2.4" fill="rgba(30,144,255,0.68)"/>
<circle cx="264.7" cy="218.3" r="2.4" fill="rgba(30,144,255,0.68)"/>
<circle cx="274.6" cy="229.2" r="2.4" fill="rgba(30,144,255,0.68)"/>
<rect x="266.8" y="198.2" width="4.4" height="4.4" fill="rgba(30,144,255,0.68)"/>
<rect x="273.1" y="192.1" width="4.4" height="4.4" fill="rgba(30,144,255,0.68)"/>
<rect x="297.5" y="217.2" width="4.4" height="4.4" fill="rgba(30,144,255,0.68)"/>
<circle cx="270.6" cy="221.4" r="2.4" fill="rgba(30,144,255,0.68)"/>
<circle cx="294.2" cy="214.8" r="2.4" fill="rgba(30,144,255,0.68)"/>
<rect x="273.1" y="196.2" width="4.4" height="4.4" fill="rgba(30,144,255,0.68)"/>
<circle cx="266.1" cy="212.2" r="2.4" fill="rgba(30,144,255,0.68)"/>
<rect x="293.3" y="224.7" width="4.4" height="4.4" fill="rgba(30,144,255,0.68)"/>
<circle cx="295.2" cy="203.0" r="2.4" fill="rgba(30,144,255,0.68)"/>
<rect x="261.5" y="194.9" width="4.4" height="4.4" fill="rgba(30,144,255,0.68)"/>
<circle cx="272.5" cy="224.7" r="2.4" fill="rgba(30,144,255,0.68)"/>
<circle cx="261.8" cy="195.7" r="2.4" fill="rgba(30,144,255,0.68)"/>
<rect x="263.0" y="189.7" width="4.4" height="4.4" fill="rgba(30,144,255,0.68)"/>
<circle cx="277.0" cy="234.4" r="2.4" fill="rgba(30,144,255,0.68)"/>
<rect x="269.2" y="206.1" width="4.4" height="4.4" fill="rgba(30,144,255,0.68)"/>
<circle cx="286.8" cy="206.8" r="2.4" fill="rgba(30,144,255,0.68)"/>
<rect x="267.5" y="213.5" width="4.4" height="4.4" fill="rgba(30,144,255,0.68)"/>
<rect x="288.8" y="215.9" width="4.4" height="4.4" fill="rgba(30,144,255,0.68)"/>
<circle cx="273.8" cy="196.1" r="2.4" fill="rgba(30,144,255,0.68)"/>
<circle cx="289.3" cy="217.1" r="2.4" fill="rgba(30,144,255,0.68)"/>
<rect x="271.6" y="198.1" width="4.4" height="4.4" fill="rgba(30,144,255,0.68)"/>
<rect x="272.8" y="209.6" width="4.4" height="4.4" fill="rgba(30,144,255,0.68)"/>
<circle cx="271.0" cy="184.1" r="2.4" fill="rgba(30,144,255,0.68)"/>
<rect x="261.2" y="214.5" width="4.4" height="4.4" fill="rgba(30,144,255,0.68)"/>
<rect x="280.0" y="226.5" width="4.4" height="4.4" fill="rgba(30,144,255,0.68)"/>
<rect x="294.8" y="197.7" width="4.4" height="4.4" fill="rgba(30,144,255,0.68)"/>
<rect x="272.0" y="228.7" width="4.4" height="4.4" fill="rgba(30,144,255,0.68)"/>
<circle cx="297.8" cy="222.5" r="2.4" fill="rgba(30,144,255,0.68)"/>
<rect x="277.3" y="189.2" width="4.4" height="4.4" fill="rgba(30,144,255,0.68)"/>
<rect x="269.2" y="184.2" width="4.4" height="4.4" fill="rgba(30,144,255,0.68)"/>
<circle cx="284.7" cy="211.7" r="2.4" fill="rgba(30,144,255,0.68)"/>
<circle cx="277.8" cy="200.9" r="2.4" fill="rgba(30,144,255,0.68)"/>
<circle cx="289.1" cy="205.1" r="2.4" fill="rgba(30,144,255,0.68)"/>
<circle cx="276.0" cy="190.3" r="2.4" fill="rgba(30,144,255,0.68)"/>
<rect x="295.1" y="201.9" width="4.4" height="4.4" fill="rgba(30,144,255,0.68)"/>
<circle cx="283.8" cy="209.5" r="2.4" fill="rgba(30,144,255,0.68)"/>
<circle cx="290.9" cy="221.8" r="2.4" fill="rgba(30,144,255,0.68)"/>
<rect x="279.3" y="192.7" width="4.4" height="4.4" fill="rgba(30,144,255,0.68)"/>
<circle cx="272.4" cy="217.3" r="2.4" fill="rgba(255,140,0,0.6)"/>
<rect x="280.8" y="227.3" width="4.4" height="4.4" fill="rgba(30,144,255,0.68)"/>
<rect x="289.0" y="225.8" width="4.4" height="4.4" fill="rgba(30,144,255,0.68)"/>
<rect x="290.9" y="212.3" width="4.4" height="4.4" fill="rgba(30,144,255,0.68)"/>
<circle cx="303.2" cy="213.3" r="2.4" fill="rgba(30,144,255,0.68)"/>
<circle cx="269.8" cy="213.2" r="2.4" fill="rgba(30,144,255,0.68)"/>
<rect x="288.5" y="218.8" width="4.4" height="4.4" fill="rgba(30,144,255,0.68)"/>
<rect x="265.2" y="219.5" width="4.4" height="4.4" fill="rgba(255,140,0,0.6)"/>
<rect x="294.2" y="214.1" width="4.4" height="4.4" fill="rgba(30,144,255,0.68)"/>
<rect x="292.7" y="225.4" width="4.4" height="4.4" fill="rgba(30,144,255,0.68)"/>
<circle cx="280.0" cy="232.0" r="2.4" fill="rgba(30,144,255,0.68)"/>
<circle cx="296.1" cy="205.9" r="2.4" fill="rgba(30,144,255,0.68)"/>
<circle cx="287.0" cy="204.6" r="2.4" fill="rgba(30,144,255,0.68)"/>
<circle cx="271.2" cy="222.7" r="2.4" fill="rgba(255,140,0,0.6)"/>
<circle cx="288.2" cy="215.1" r="2.4" fill="rgba(30,144,255,0.68)"/>
<rect x="270.6" y="209.5" width="4.4" height="4.4" fill="rgba(30,144,255,0.68)"/>
<rect x="269.1" y="217.0" width="4.4" height="4.4" fill="rgba(30,144,255,0.68)"/>
<rect x="279.9" y="226.2" width="4.4" height="4.4" fill="rgba(30,144,255,0.68)"/>
<rect x="275.0" y="195.9" width="4.4" height="4.4" fill="rgba(30,144,255,0.68)"/>
<rect x="263.1" y="220.4" width="4.4" height="4.4" fill="rgba(30,144,255,0.68)"/>
<circle cx="266.1" cy="209.5" r="2.4" fill="rgba(30,144,255,0.68)"/>
<circle cx="282.6" cy="201.9" r="2.4" fill="rgba(30,144,255,0.68)"/>
<circle cx="279.9" cy="206.8" r="2.4" fill="rgba(30,144,255,0.68)"/>
<rect x="293.0" y="217.0" width="4.4" height="4.4" fill="rgba(30,144,255,0.68)"/>
<circle cx="277.0" cy="193.8" r="2.4" fill="rgba(255,140,0,0.6)"/>
<rect x="284.7" y="227.5" width="4.4" height="4.4" fill="rgba(30,144,255,0.68)"/>
<rect x="295.4" y="202.5" width="4.4" height="4.4" fill="rgba(30,144,255,0.68)"/>
<rect x="271.5" y="189.8" width="4.4" height="4.4" fill="rgba(30,144,255,0.68)"/>
<rect x="275.3" y="203.4" width="4.4" height="4.4" fill="rgba(30,144,255,0.68)"/>
<rect x="284.1" y="219.7" width="4.4" height="4.4" fill="rgba(30,144,255,0.68)"/>
<rect x="280.0" y="220.3" width="4.4" height="4.4" fill="rgba(30,144,255,0.68)"/>
<rect x="286.1" y="202.4" width="4.4" height="4.4" fill="rgba(30,144,255,0.68)"/>
<rect x="295.9" y="221.5" width="4.4" height="4.4" fill="rgba(30,144,255,0.68)"/>
<rect x="273.5" y="194.8" width="4.4" height="4.4" fill="rgba(30,144,255,0.68)"/>
<circle cx="284.5" cy="191.1" r="2.4" fill="rgba(30,144,255,0.68)"/>
<circle cx="283.0" cy="222.5" r="2.4" fill="rgba(30,144,255,0.68)"/>
<circle cx="282.8" cy="233.1" r="2.4" fill="rgba(30,144,255,0.68)"/>
<circle cx="291.0" cy="215.1" r="2.4" fill="rgba(30,144,255,0.68)"/>
<rect x="281.3" y="200.3" width="4.4" height="4.4" fill="rgba(30,144,255,0.68)"/>
<rect x="265.4" y="215.4" width="4.4" height="4.4" fill="rgba(30,144,255,0.68)"/>
<rect x="269.9" y="213.1" width="4.4" height="4.4" fill="rgba(30,144,255,0.68)"/>
<circle cx="267.8" cy="224.9" r="2.4" fill="rgba(30,144,255,0.68)"/>
<rect x="289.6" y="225.5" width="4.4" height="4.4" fill="rgba(255,140,0,0.6)"/>
<rect x="285.8" y="197.6" width="4.4" height="4.4" fill="rgba(30,144,255,0.68)"/>
<circle cx="301.1" cy="221.6" r="2.4" fill="rgba(30,144,255,0.68)"/>
<rect x="281.5" y="188.1" width="4.4" height="4.4" fill="rgba(30,144,255,0.68)"/>
<rect x="274.0" y="220.6" width="4.4" height="4.4" fill="rgba(30,144,255,0.68)"/>
<circle cx="292.3" cy="199.2" r="2.4" fill="rgba(30,144,255,0.68)"/>
<rect x="266.2" y="183.7" width="4.4" height="4.4" fill="rgba(30,144,255,0.68)"/>
<rect x="267.5" y="182.6" width="4.4" height="4.4" fill="rgba(30,144,255,0.68)"/>
<rect x="301.2" y="213.3" width="4.4" height="4.4" fill="rgba(30,144,255,0.68)"/>
<circle cx="265.3" cy="219.7" r="2.4" fill="rgba(30,144,255,0.68)"/>
<circle cx="282.3" cy="203.0" r="2.4" fill="rgba(30,144,255,0.68)"/>
<circle cx="296.9" cy="207.5" r="2.4" fill="rgba(30,144,255,0.68)"/>
<rect x="290.0" y="198.3" width="4.4" height="4.4" fill="rgba(30,144,255,0.68)"/>
<circle cx="295.9" cy="228.5" r="2.4" fill="rgba(30,144,255,0.68)"/>
<rect x="283.9" y="229.5" width="4.4" height="4.4" fill="rgba(30,144,255,0.68)"/>
<circle cx="266.5" cy="218.2" r="2.4" fill="rgba(30,144,255,0.68)"/>
<rect x="263.6" y="205.3" width="4.4" height="4.4" fill="rgba(30,144,255,0.68)"/>
<circle cx="272.3" cy="189.2" r="2.4" fill="rgba(30,144,255,0.68)"/>
<rect x="286.5" y="220.3" width="4.4" height="4.4" fill="rgba(30,144,255,0.68)"/>
<rect x="287.6" y="201.5" width="4.4" height="4.4" fill="rgba(30,144,255,0.68)"/>
<rect x="286.7" y="193.7" width="4.4" height="4.4" fill="rgba(30,144,255,0.68)"/>
<rect x="284.4" y="199.3" width="4.4" height="4.4" fill="rgba(30,144,255,0.68)"/>
<rect x="273.7" y="202.7" width="4.4" height="4.4" fill="rgba(30,144,255,0.68)"/>
<rect x="276.9" y="215.9" width="4.4" height="4.4" fill="rgba(30,144,255,0.68)"/>
<rect x="290.3" y="220.7" width="4.4" height="4.4" fill="rgba(30,144,255,0.68)"/>
<rect x="294.4" y="205.7" width="4.4" height="4.4" fill="rgba(30,144,255,0.68)"/>
<circle cx="261.8" cy="211.2" r="2.4" fill="rgba(30,144,255,0.68)"/>
<circle cx="277.8" cy="220.5" r="2.4" fill="rgba(30,144,255,0.68)"/>
<circle cx="261.5" cy="203.4" r="2.4" fill="rgba(30,144,255,0.68)"/>
<rect x="263.7" y="222.9" width="4.4" height="4.4" fill="rgba(30,144,255,0.68)"/>
<rect x="271.5" y="203.3" width="4.4" height="4.4" fill="rgba(30,144,255,0.68)"/>
<rect x="272.7" y="198.7" width="4.4" height="4.4" fill="rgba(30,144,255,0.68)"/>
<rect x="287.2" y="204.6" width="4.4" height="4.4" fill="rgba(30,144,255,0.68)"/>
<rect x="295.4" y="218.0" width="4.4" height="4.4" fill="rgba(30,144,255,0.68)"/>
<circle cx="267.1" cy="202.6" r="2.4" fill="rgba(30,144,255,0.68)"/>
<rect x="273.3" y="211.3" width="4.4" height="4.4" fill="rgba(255,140,0,0.6)"/>
<circle cx="289.3" cy="199.6" r="2.4" fill="rgba(30,144,255,0.68)"/>
<rect x="272.4" y="220.5" width="4.4" height="4.4" fill="rgba(30,144,255,0.68)"/>
<rect x="272.5" y="198.2" width="4.4" height="4.4" fill="rgba(30,144,255,0.68)"/>
<rect x="279.4" y="229.2" width="4.4" height="4.4" fill="rgba(30,144,255,0.68)"/>
<rect x="263.9" y="208.6" width="4.4" height="4.4" fill="rgba(30,144,255,0.68)"/>
<circle cx="295.3" cy="220.3" r="2.4" fill="rgba(30,144,255,0.68)"/>
<circle cx="302.4" cy="217.1" r="2.4" fill="rgba(30,144,255,0.68)"/>
<rect x="265.4" y="188.7" width="4.4" height="4.4" fill="rgba(30,144,255,0.68)"/>
<circle cx="278.5" cy="221.6" r="2.4" fill="rgba(30,144,255,0.68)"/>
<circle cx="284.6" cy="197.1" r="2.4" fill="rgba(30,144,255,0.68)"/>
<circle cx="288.4" cy="210.9" r="2.4" fill="rgba(30,144,255,0.68)"/>
<rect x="296.1" y="214.9" width="4.4" height="4.4" fill="rgba(30,144,255,0.68)"/>
<rect x="258.8" y="200.3" width="4.4" height="4.4" fill="rgba(30,144,255,0.68)"/>
<rect x="270.6" y="228.0" width="4.4" height="4.4" fill="rgba(30,144,255,0.68)"/>
<rect x="298.0" y="203.3" width="4.4" height="4.4" fill="rgba(30,144,255,0.68)"/>
<circle cx="292.7" cy="226.1" r="2.4" fill="rgba(30,144,255,0.68)"/>
<rect x="266.9" y="220.4" width="4.4" height="4.4" fill="rgba(30,144,255,0.68)"/>
<rect x="279.7" y="202.2" width="4.4" height="4.4" fill="rgba(30,144,255,0.68)"/>
<circle cx="298.3" cy="207.3" r="2.4" fill="rgba(30,144,255,0.68)"/>
<rect x="263.2" y="196.8" width="4.4" height="4.4" fill="rgba(30,144,255,0.68)"/>
<rect x="283.5" y="210.0" width="4.4" height="4.4" fill="rgba(30,144,255,0.68)"/>
<circle cx="278.4" cy="216.4" r="2.4" fill="rgba(30,144,255,0.68)"/>
<rect x="280.6" y="211.9" width="4.4" height="4.4" fill="rgba(30,144,255,0.68)"/>
<rect x="265.1" y="214.5" width="4.4" height="4.4" fill="rgba(30,144,255,0.68)"/>
<rect x="283.3" y="200.3" width="4.4" height="4.4" fill="rgba(30,144,255,0.68)"/>
<rect x="298.1" y="216.3" width="4.4" height="4.4" fill="rgba(30,144,255,0.68)"/>
<rect x="295.9" y="201.1" width="4.4" height="4.4" fill="rgba(30,144,255,0.68)"/>
<circle cx="276.8" cy="222.7" r="2.4" fill="rgba(30,144,255,0.68)"/>
<circle cx="280.5" cy="189.2" r="2.4" fill="rgba(30,144,255,0.68)"/>
<circle cx="271.7" cy="228.5" r="2.4" fill="rgba(30,144,255,0.68)"/>
<circle cx="283.1" cy="222.2" r="2.4" fill="rgba(30,144,255,0.68)"/>
<circle cx="295.0" cy="208.7" r="2.4" fill="rgba(30,144,255,0.68)"/>
<circle cx="264.1" cy="189.9" r="2.4" fill="rgba(30,144,255,0.68)"/>
<rect x="259.0" y="194.2" width="4.4" height="4.4" fill="rgba(30,144,255,0.68)"/>
<circle cx="278.0" cy="221.3" r="2.4" fill="rgba(30,144,255,0.68)"/>
<rect x="282.5" y="209.1" width="4.4" height="4.4" fill="rgba(30,144,255,0.68)"/>
<circle cx="284.9" cy="205.2" r="2.4" fill="rgba(30,144,255,0.68)"/>
<rect x="269.7" y="195.6" width="4.4" height="4.4" fill="rgba(30,144,255,0.68)"/>
<circle cx="298.6" cy="224.7" r="2.4" fill="rgba(30,144,255,0.68)"/>
<rect x="275.3" y="216.2" width="4.4" height="4.4" fill="rgba(30,144,255,0.68)"/>
<rect x="275.2" y="228.8" width="4.4" height="4.4" fill="rgba(30,144,255,0.68)"/>
<circle cx="278.7" cy="230.1" r="2.4" fill="rgba(30,144,255,0.68)"/>
<circle cx="282.2" cy="230.4" r="2.4" fill="rgba(30,144,255,0.68)"/>
<circle cx="294.2" cy="200.9" r="2.4" fill="rgba(30,144,255,0.68)"/>
<rect x="302.3" y="215.6" width="4.4" height="4.4" fill="rgba(30,144,255,0.68)"/>
<rect x="269.8" y="209.4" width="4.4" height="4.4" fill="rgba(30,144,255,0.68)"/>
<circle cx="272.4" cy="220.4" r="2.4" fill="rgba(30,144,255,0.68)"/>
<rect x="266.6" y="210.5" width="4.4" height="4.4" fill="rgba(30,144,255,0.68)"/>
<circle cx="284.0" cy="215.3" r="2.4" fill="rgba(30,144,255,0.68)"/>
<circle cx="272.6" cy="219.9" r="2.4" fill="rgba(30,144,255,0.68)"/>
<rect x="274.3" y="205.7" width="4.4" height="4.4" fill="rgba(30,144,255,0.68)"/>
<rect x="266.0" y="227.4" width="4.4" height="4.4" fill="rgba(30,144,255,0.68)"/>
<rect x="260.4" y="198.1" width="4.4" height="4.4" fill="rgba(30,144,255,0.68)"/>
<circle cx="274.2" cy="209.2" r="2.4" fill="rgba(30,144,255,0.68)"/>
<rect x="264.1" y="194.4" width="4.4" height="4.4" fill="rgba(30,144,255,0.68)"/>
<circle cx="291.6" cy="212.8" r="2.4" fill="rgba(30,144,255,0.68)"/>
<circle cx="269.0" cy="213.1" r="2.4" fill="rgba(30,144,255,0.68)"/>
<circle cx="273.7" cy="215.6" r="2.4" fill="rgba(30,144,255,0.68)"/>
<circle cx="275.3" cy="214.9" r="2.4" fill="rgba(30,144,255,0.68)"/>
<rect x="272.6" y="188.2" width="4.4" height="4.4" fill="rgba(30,144,255,0.68)"/>
<circle cx="263.5" cy="221.4" r="2.4" fill="rgba(30,144,255,0.68)"/>
<circle cx="272.1" cy="185.6" r="2.4" fill="rgba(255,140,0,0.6)"/>
<circle cx="278.0" cy="232.5" r="2.4" fill="rgba(30,144,255,0.68)"/>
<circle cx="290.6" cy="197.5" r="2.4" fill="rgba(30,144,255,0.68)"/>
<rect x="294.0" y="214.8" width="4.4" height="4.4" fill="rgba(30,144,255,0.68)"/>
<rect x="297.0" y="202.3" width="4.4" height="4.4" fill="rgba(30,144,255,0.68)"/>
<circle cx="283.7" cy="212.9" r="2.4" fill="rgba(30,144,255,0.68)"/>
<circle cx="300.4" cy="216.5" r="2.4" fill="rgba(30,144,255,0.68)"/>
<circle cx="282.9" cy="192.3" r="2.4" fill="rgba(30,144,255,0.68)"/>
<rect x="282.4" y="194.1" width="4.4" height="4.4" fill="rgba(30,144,255,0.68)"/>
<circle cx="281.3" cy="204.4" r="2.4" fill="rgba(30,144,255,0.68)"/>
<rect x="287.2" y="209.6" width="4.4" height="4.4" fill="rgba(30,144,255,0.68)"/>
<circle cx="292.5" cy="219.3" r="2.4" fill="rgba(255,140,0,0.6)"/>
<rect x="272.9" y="227.9" width="4.4" height="4.4" fill="rgba(30,144,255,0.68)"/>
<rect x="275.0" y="204.1" width="4.4" height="4.4" fill="rgba(30,144,255,0.68)"/>
<rect x="269.9" y="216.1" width="4.4" height="4.4" fill="rgba(30,144,255,0.68)"/>
<rect x="299.2" y="214.9" width="4.4" height="4.4" fill="rgba(30,144,255,0.68)"/>
<rect x="297.5" y="205.2" width="4.4" height="4.4" fill="rgba(30,144,255,0.68)"/>
<rect x="276.8" y="230.3" width="4.4" height="4.4" fill="rgba(30,144,255,0.68)"/>
<rect x="260.2" y="205.8" width="4.4" height="4.4" fill="rgba(255,140,0,0.6)"/>
<circle cx="265.0" cy="190.4" r="2.4" fill="rgba(30,144,255,0.68)"/>
<rect x="298.7" y="215.5" width="4.4" height="4.4" fill="rgba(30,144,255,0.68)"/>
<rect x="268.8" y="223.6" width="4.4" height="4.4" fill="rgba(30,144,255,0.68)"/>
<rect x="273.9" y="189.2" width="4.4" height="4.4" fill="rgba(30,144,255,0.68)"/>
<rect x="271.9" y="227.4" width="4.4" height="4.4" fill="rgba(30,144,255,0.68)"/>
<circle cx="262.5" cy="206.0" r="2.4" fill="rgba(30,144,255,0.68)"/>
<rect x="294.5" y="204.2" width="4.4" height="4.4" fill="rgba(30,144,255,0.68)"/>
<rect x="288.1" y="228.0" width="4.4" height="4.4" fill="rgba(30,144,255,0.68)"/>
<rect x="279.7" y="198.9" width="4.4" height="4.4" fill="rgba(30,144,255,0.68)"/>
<rect x="275.0" y="225.0" width="4.4" height="4.4" fill="rgba(30,144,255,0.68)"/>
<rect x="262.3" y="198.6" width="4.4" height="4.4" fill="rgba(30,144,255,0.68)"/>
<circle cx="295.3" cy="207.4" r="2.4" fill="rgba(30,144,255,0.68)"/>
<circle cx="294.8" cy="221.3" r="2.4" fill="rgba(30,144,255,0.68)"/>
<rect x="282.2" y="211.1" width="4.4" height="4.4" fill="rgba(30,144,255,0.68)"/>
<circle cx="266.7" cy="202.9" r="2.4" fill="rgba(30,144,255,0.68)"/>
<rect x="261.2" y="190.5" width="4.4" height="4.4" fill="rgba(30,144,255,0.68)"/>
<rect x="293.7" y="196.1" width="4.4" height="4.4" fill="rgba(30,144,255,0.68)"/>
<rect x="258.6" y="201.8" width="4.4" height="4.4" fill="rgba(30,144,255,0.68)"/>
<circle cx="301.1" cy="211.5" r="2.4" fill="rgba(30,144,255,0.68)"/>
<circle cx="300.8" cy="218.1" r="2.4" fill="rgba(30,144,255,0.68)"/>
<rect x="284.1" y="208.0" width="4.4" height="4.4" fill="rgba(30,144,255,0.68)"/>
<rect x="299.9" y="219.2" width="4.4" height="4.4" fill="rgba(30,144,255,0.68)"/>
<rect x="287.2" y="209.2" width="4.4" height="4.4" fill="rgba(30,144,255,0.68)"/>
<rect x="263.2" y="214.9" width="4.4" height="4.4" fill="rgba(30,144,255,0.68)"/>
<circle cx="288.9" cy="208.4" r="2.4" fill="rgba(30,144,255,0.68)"/>
<rect x="271.8" y="195.5" width="4.4" height="4.4" fill="rgba(30,144,255,0.68)"/>
<rect x="272.1" y="209.1" width="4.4" height="4.4" fill="rgba(30,144,255,0.68)"/>
<circle cx="278.8" cy="191.9" r="2.4" fill="rgba(30,144,255,0.68)"/>
<circle cx="269.0" cy="226.3" r="2.4" fill="rgba(30,144,255,0.68)"/>
<rect x="283.3" y="225.6" width="4.4" height="4.4" fill="rgba(30,144,255,0.68)"/>
<circle cx="255.3" cy="225.6" r="2.4" fill="rgba(255,140,0,0.6)"/>
<rect x="258.2" y="218.8" width="4.4" height="4.4" fill="rgba(255,140,0,0.6)"/>
<circle cx="266.6" cy="217.9" r="2.4" fill="rgba(255,140,0,0.6)"/>
<rect x="256.2" y="216.7" width="4.4" height="4.4" fill="rgba(255,140,0,0.6)"/>
<circle cx="263.5" cy="225.1" r="2.4" fill="rgba(255,140,0,0.6)"/>
<rect x="249.0" y="204.5" width="4.4" height="4.4" fill="rgba(255,140,0,0.6)"/>
<circle cx="251.8" cy="213.8" r="2.4" fill="rgba(255,140,0,0.6)"/>
<circle cx="268.6" cy="202.6" r="2.4" fill="rgba(255,140,0,0.6)"/>
<rect x="275.6" y="200.4" width="4.4" height="4.4" fill="rgba(255,140,0,0.6)"/>
<circle cx="288.0" cy="212.8" r="2.4" fill="rgba(255,140,0,0.6)"/>
<circle cx="301.3" cy="218.9" r="2.4" fill="rgba(255,140,0,0.6)"/>
<rect x="286.8" y="230.5" width="4.4" height="4.4" fill="rgba(255,140,0,0.6)"/>
<circle cx="258.4" cy="193.4" r="2.4" fill="rgba(255,140,0,0.6)"/>
<circle cx="266.6" cy="191.9" r="2.4" fill="rgba(255,140,0,0.6)"/>
<rect x="240.4" y="198.3" width="4.4" height="4.4" fill="rgba(255,140,0,0.6)"/>
<circle cx="241.5" cy="217.9" r="2.4" fill="rgba(255,140,0,0.6)"/>
<rect x="271.5" y="221.8" width="4.4" height="4.4" fill="rgba(255,140,0,0.6)"/>
<circle cx="276.8" cy="228.1" r="2.4" fill="rgba(255,140,0,0.6)"/>
<rect x="284.3" y="219.8" width="4.4" height="4.4" fill="rgba(255,140,0,0.6)"/>
<circle cx="292.1" cy="224.0" r="2.4" fill="rgba(255,140,0,0.6)"/>
<circle cx="135.0" cy="83.2" r="2.4" fill="rgba(236,40,55,0.72)"/>
<circle cx="191.9" cy="97.2" r="2.4" fill="rgba(236,40,55,0.72)"/>
<circle cx="240.1" cy="125.3" r="2.4" fill="rgba(236,40,55,0.72)"/>
<rect x="264.3" y="148.9" width="4.4" height="4.4" fill="rgba(236,40,55,0.72)"/>
<circle cx="254.7" cy="158.4" r="2.4" fill="rgba(236,40,55,0.72)"/>
<text x="135.0" y="94.0" font-size="10.3" text-anchor="middle" fill="#971a20" stroke="#971a20" stroke-width="0.25">P4NS</text>
<text x="191.9" y="108.0" font-size="10.3" text-anchor="middle" fill="#971a20" stroke="#971a20" stroke-width="0.25">P2PM</text>
<text x="240.1" y="136.1" font-size="10.3" text-anchor="middle" fill="#971a20" stroke="#971a20" stroke-width="0.25">P4PM</text>
<text x="266.5" y="161.9" font-size="10.3" text-anchor="middle" fill="#971a20" stroke="#971a20" stroke-width="0.25">P6PM</text>
<text x="254.7" y="169.2" font-size="10.3" text-anchor="middle" fill="#971a20" stroke="#971a20" stroke-width="0.25">NHEM</text>
<circle cx="463.9" cy="228.2" r="2.4" fill="rgba(30,144,255,0.68)"/>
<circle cx="459.6" cy="231.6" r="2.4" fill="rgba(30,144,255,0.68)"/>
<circle cx="464.3" cy="226.4" r="2.4" fill="rgba(30,144,255,0.68)"/>
<circle cx="455.9" cy="227.3" r="2.4" fill="rgba(30,144,255,0.68)"/>
<circle cx="453.9" cy="232.3" r="2.4" fill="rgba(30,144,255,0.68)"/>
<circle cx="477.7" cy="225.4" r="2.4" fill="rgba(30,144,255,0.68)"/>
<circle cx="451.3" cy="221.8" r="2.4" fill="rgba(30,144,255,0.68)"/>
<circle cx="448.3" cy="237.9" r="2.4" fill="rgba(30,144,255,0.68)"/>
<circle cx="472.2" cy="237.0" r="2.4" fill="rgba(30,144,255,0.68)"/>
<circle cx="472.3" cy="231.1" r="2.4" fill="rgba(30,144,255,0.68)"/>
<circle cx="441.3" cy="228.7" r="2.4" fill="rgba(30,144,255,0.68)"/>
<circle cx="466.6" cy="226.6" r="2.4" fill="rgba(30,144,255,0.68)"/>
<circle cx="451.9" cy="236.1" r="2.4" fill="rgba(30,144,255,0.68)"/>
<circle cx="449.6" cy="223.0" r="2.4" fill="rgba(30,144,255,0.68)"/>
<circle cx="448.5" cy="233.6" r="2.4" fill="rgba(30,144,255,0.68)"/>
<circle cx="471.9" cy="227.0" r="2.4" fill="rgba(30,144,255,0.68)"/>
<circle cx="463.3" cy="226.9" r="2.4" fill="rgba(30,144,255,0.68)"/>
<circle cx="451.2" cy="233.6" r="2.4" fill="rgba(30,144,255,0.68)"/>
<circle cx="451.7" cy="226.1" r="2.4" fill="rgba(30,144,255,0.68)"/>
<circle cx="469.7" cy="226.1" r="2.4" fill="rgba(30,144,255,0.68)"/>
<circle cx="440.0" cy="227.9" r="2.4" fill="rgba(30,144,255,0.68)"/>
<circle cx="449.5" cy="225.0" r="2.4" fill="rgba(30,144,255,0.68)"/>
<circle cx="472.2" cy="229.7" r="2.4" fill="rgba(30,144,255,0.68)"/>
<circle cx="466.5" cy="236.4" r="2.4" fill="rgba(30,144,255,0.68)"/>
<circle cx="453.1" cy="231.2" r="2.4" fill="rgba(30,144,255,0.68)"/>
<circle cx="462.5" cy="226.4" r="2.4" fill="rgba(30,144,255,0.68)"/>
<circle cx="448.3" cy="229.7" r="2.4" fill="rgba(30,144,255,0.68)"/>
<circle cx="479.0" cy="224.3" r="2.4" fill="rgba(30,144,255,0.68)"/>
<circle cx="459.0" cy="227.8" r="2.4" fill="rgba(30,144,255,0.68)"/>
<circle cx="441.0" cy="235.2" r="2.4" fill="rgba(30,144,255,0.68)"/>
<circle cx="457.1" cy="233.0" r="2.4" fill="rgba(30,144,255,0.68)"/>
<circle cx="453.2" cy="226.2" r="2.4" fill="rgba(30,144,255,0.68)"/>
<circle cx="471.3" cy="231.3" r="2.4" fill="rgba(30,144,255,0.68)"/>
<circle cx="453.8" cy="229.1" r="2.4" fill="rgba(30,144,255,0.68)"/>
<circle cx="462.4" cy="225.7" r="2.4" fill="rgba(30,144,255,0.68)"/>
<circle cx="442.8" cy="238.2" r="2.4" fill="rgba(30,144,255,0.68)"/>
<circle cx="443.5" cy="234.4" r="2.4" fill="rgba(30,144,255,0.68)"/>
<circle cx="469.9" cy="224.7" r="2.4" fill="rgba(30,144,255,0.68)"/>
<circle cx="448.6" cy="228.7" r="2.4" fill="rgba(30,144,255,0.68)"/>
<circle cx="465.2" cy="223.4" r="2.4" fill="rgba(30,144,255,0.68)"/>
<circle cx="465.3" cy="228.4" r="2.4" fill="rgba(30,144,255,0.68)"/>
<circle cx="457.9" cy="223.6" r="2.4" fill="rgba(30,144,255,0.68)"/>
<circle cx="459.2" cy="230.5" r="2.4" fill="rgba(30,144,255,0.68)"/>
<circle cx="466.5" cy="234.8" r="2.4" fill="rgba(30,144,255,0.68)"/>
<circle cx="488.4" cy="230.8" r="2.4" fill="rgba(30,144,255,0.68)"/>
<circle cx="459.7" cy="226.8" r="2.4" fill="rgba(30,144,255,0.68)"/>
<circle cx="468.3" cy="225.9" r="2.4" fill="rgba(30,144,255,0.68)"/>
<circle cx="476.6" cy="225.8" r="2.4" fill="rgba(30,144,255,0.68)"/>
<circle cx="450.4" cy="225.0" r="2.4" fill="rgba(30,144,255,0.68)"/>
<circle cx="484.7" cy="233.4" r="2.4" fill="rgba(30,144,255,0.68)"/>
<circle cx="454.6" cy="231.3" r="2.4" fill="rgba(30,144,255,0.68)"/>
<circle cx="463.7" cy="234.6" r="2.4" fill="rgba(30,144,255,0.68)"/>
<circle cx="461.3" cy="224.7" r="2.4" fill="rgba(30,144,255,0.68)"/>
<circle cx="469.2" cy="227.6" r="2.4" fill="rgba(30,144,255,0.68)"/>
<circle cx="447.9" cy="228.7" r="2.4" fill="rgba(30,144,255,0.68)"/>
<circle cx="454.4" cy="231.8" r="2.4" fill="rgba(30,144,255,0.68)"/>
<circle cx="459.7" cy="226.6" r="2.4" fill="rgba(30,144,255,0.68)"/>
<circle cx="452.1" cy="228.9" r="2.4" fill="rgba(30,144,255,0.68)"/>
<circle cx="471.8" cy="225.3" r="2.4" fill="rgba(30,144,255,0.68)"/>
<circle cx="475.9" cy="231.5" r="2.4" fill="rgba(30,144,255,0.68)"/>
<circle cx="450.2" cy="232.5" r="2.4" fill="rgba(255,140,0,0.6)"/>
<circle cx="465.1" cy="234.0" r="2.4" fill="rgba(30,144,255,0.68)"/>
<circle cx="438.8" cy="230.4" r="2.4" fill="rgba(30,144,255,0.68)"/>
<circle cx="472.1" cy="225.5" r="2.4" fill="rgba(30,144,255,0.68)"/>
<circle cx="450.2" cy="233.7" r="2.4" fill="rgba(30,144,255,0.68)"/>
<circle cx="455.0" cy="240.1" r="2.4" fill="rgba(30,144,255,0.68)"/>
<circle cx="437.7" cy="227.4" r="2.4" fill="rgba(30,144,255,0.68)"/>
<circle cx="458.0" cy="236.0" r="2.4" fill="rgba(30,144,255,0.68)"/>
<circle cx="448.8" cy="227.1" r="2.4" fill="rgba(30,144,255,0.68)"/>
<circle cx="456.7" cy="227.3" r="2.4" fill="rgba(30,144,255,0.68)"/>
<circle cx="458.1" cy="226.2" r="2.4" fill="rgba(30,144,255,0.68)"/>
<circle cx="457.7" cy="231.9" r="2.4" fill="rgba(30,144,255,0.68)"/>
<circle cx="456.9" cy="229.7" r="2.4" fill="rgba(30,144,255,0.68)"/>
<circle cx="473.9" cy="239.9" r="2.4" fill="rgba(30,144,255,0.68)"/>
<circle cx="467.1" cy="232.1" r="2.4" fill="rgba(30,144,255,0.68)"/>
<circle cx="470.2" cy="232.3" r="2.4" fill="rgba(30,144,255,0.68)"/>
<circle cx="437.9" cy="231.6" r="2.4" fill="rgba(30,144,255,0.68)"/>
<circle cx="468.0" cy="238.8" r="2.4" fill="rgba(30,144,255,0.68)"/>
<circle cx="479.0" cy="233.4" r="2.4" fill="rgba(30,144,255,0.68)"/>
<circle cx="448.8" cy="225.5" r="2.4" fill="rgba(30,144,255,0.68)"/>
<circle cx="459.8" cy="238.8" r="2.4" fill="rgba(30,144,255,0.68)"/>
<circle cx="447.7" cy="234.9" r="2.4" fill="rgba(30,144,255,0.68)"/>
<circle cx="470.9" cy="226.1" r="2.4" fill="rgba(30,144,255,0.68)"/>
<circle cx="449.6" cy="228.2" r="2.4" fill="rgba(30,144,255,0.68)"/>
<circle cx="444.8" cy="230.6" r="2.4" fill="rgba(30,144,255,0.68)"/>
<circle cx="464.9" cy="224.7" r="2.4" fill="rgba(30,144,255,0.68)"/>
<circle cx="459.1" cy="225.8" r="2.4" fill="rgba(30,144,255,0.68)"/>
<circle cx="480.1" cy="231.6" r="2.4" fill="rgba(30,144,255,0.68)"/>
<circle cx="449.5" cy="229.9" r="2.4" fill="rgba(255,140,0,0.6)"/>
<circle cx="455.6" cy="238.2" r="2.4" fill="rgba(30,144,255,0.68)"/>
<circle cx="450.3" cy="236.6" r="2.4" fill="rgba(30,144,255,0.68)"/>
<circle cx="469.7" cy="232.0" r="2.4" fill="rgba(30,144,255,0.68)"/>
<circle cx="453.0" cy="230.4" r="2.4" fill="rgba(30,144,255,0.68)"/>
<circle cx="474.1" cy="223.6" r="2.4" fill="rgba(255,140,0,0.6)"/>
<circle cx="462.8" cy="222.7" r="2.4" fill="rgba(30,144,255,0.68)"/>
<circle cx="464.3" cy="229.5" r="2.4" fill="rgba(30,144,255,0.68)"/>
<circle cx="460.1" cy="226.6" r="2.4" fill="rgba(30,144,255,0.68)"/>
<circle cx="458.6" cy="234.1" r="2.4" fill="rgba(30,144,255,0.68)"/>
<circle cx="451.7" cy="225.6" r="2.4" fill="rgba(30,144,255,0.68)"/>
<circle cx="451.4" cy="232.5" r="2.4" fill="rgba(30,144,255,0.68)"/>
<circle cx="459.1" cy="237.9" r="2.4" fill="rgba(30,144,255,0.68)"/>
<circle cx="456.2" cy="231.1" r="2.4" fill="rgba(30,144,255,0.68)"/>
<circle cx="464.3" cy="227.0" r="2.4" fill="rgba(30,144,255,0.68)"/>
<circle cx="465.5" cy="227.4" r="2.4" fill="rgba(30,144,255,0.68)"/>
<circle cx="451.5" cy="227.6" r="2.4" fill="rgba(30,144,255,0.68)"/>
<circle cx="477.7" cy="229.1" r="2.4" fill="rgba(30,144,255,0.68)"/>
<circle cx="442.5" cy="229.5" r="2.4" fill="rgba(30,144,255,0.68)"/>
<circle cx="447.4" cy="228.6" r="2.4" fill="rgba(30,144,255,0.68)"/>
<circle cx="459.4" cy="230.6" r="2.4" fill="rgba(30,144,255,0.68)"/>
<circle cx="442.5" cy="226.8" r="2.4" fill="rgba(30,144,255,0.68)"/>
<circle cx="440.9" cy="224.3" r="2.4" fill="rgba(30,144,255,0.68)"/>
<circle cx="454.5" cy="228.4" r="2.4" fill="rgba(30,144,255,0.68)"/>
<circle cx="452.6" cy="230.8" r="2.4" fill="rgba(30,144,255,0.68)"/>
<circle cx="462.2" cy="230.5" r="2.4" fill="rgba(30,144,255,0.68)"/>
<circle cx="449.4" cy="231.6" r="2.4" fill="rgba(30,144,255,0.68)"/>
<circle cx="452.1" cy="236.1" r="2.4" fill="rgba(30,144,255,0.68)"/>
<circle cx="452.3" cy="232.8" r="2.4" fill="rgba(30,144,255,0.68)"/>
<circle cx="453.9" cy="238.3" r="2.4" fill="rgba(30,144,255,0.68)"/>
<circle cx="476.2" cy="233.0" r="2.4" fill="rgba(30,144,255,0.68)"/>
<circle cx="438.7" cy="233.7" r="2.4" fill="rgba(30,144,255,0.68)"/>
<circle cx="458.8" cy="225.0" r="2.4" fill="rgba(30,144,255,0.68)"/>
<circle cx="440.1" cy="236.2" r="2.4" fill="rgba(30,144,255,0.68)"/>
<circle cx="458.0" cy="226.7" r="2.4" fill="rgba(30,144,255,0.68)"/>
<circle cx="437.3" cy="229.3" r="2.4" fill="rgba(30,144,255,0.68)"/>
<circle cx="438.1" cy="226.6" r="2.4" fill="rgba(30,144,255,0.68)"/>
<circle cx="442.7" cy="224.8" r="2.4" fill="rgba(30,144,255,0.68)"/>
<circle cx="458.1" cy="223.7" r="2.4" fill="rgba(30,144,255,0.68)"/>
<circle cx="476.6" cy="226.6" r="2.4" fill="rgba(30,144,255,0.68)"/>
<circle cx="476.0" cy="229.9" r="2.4" fill="rgba(30,144,255,0.68)"/>
<circle cx="457.2" cy="227.5" r="2.4" fill="rgba(30,144,255,0.68)"/>
<circle cx="444.9" cy="232.5" r="2.4" fill="rgba(30,144,255,0.68)"/>
<circle cx="459.2" cy="232.7" r="2.4" fill="rgba(30,144,255,0.68)"/>
<circle cx="461.7" cy="230.2" r="2.4" fill="rgba(30,144,255,0.68)"/>
<circle cx="457.0" cy="222.4" r="2.4" fill="rgba(30,144,255,0.68)"/>
<circle cx="460.6" cy="230.6" r="2.4" fill="rgba(30,144,255,0.68)"/>
<circle cx="447.4" cy="239.2" r="2.4" fill="rgba(30,144,255,0.68)"/>
<circle cx="480.8" cy="228.0" r="2.4" fill="rgba(30,144,255,0.68)"/>
<circle cx="437.0" cy="226.6" r="2.4" fill="rgba(30,144,255,0.68)"/>
<circle cx="455.2" cy="232.4" r="2.4" fill="rgba(30,144,255,0.68)"/>
<circle cx="445.5" cy="227.3" r="2.4" fill="rgba(30,144,255,0.68)"/>
<circle cx="448.7" cy="231.6" r="2.4" fill="rgba(30,144,255,0.68)"/>
<circle cx="451.7" cy="236.9" r="2.4" fill="rgba(30,144,255,0.68)"/>
<circle cx="474.1" cy="225.3" r="2.4" fill="rgba(30,144,255,0.68)"/>
<circle cx="451.4" cy="228.5" r="2.4" fill="rgba(30,144,255,0.68)"/>
<circle cx="460.1" cy="223.2" r="2.4" fill="rgba(30,144,255,0.68)"/>
<circle cx="469.2" cy="233.3" r="2.4" fill="rgba(30,144,255,0.68)"/>
<circle cx="457.7" cy="231.4" r="2.4" fill="rgba(30,144,255,0.68)"/>
<circle cx="467.8" cy="225.5" r="2.4" fill="rgba(30,144,255,0.68)"/>
<circle cx="444.9" cy="226.0" r="2.4" fill="rgba(30,144,255,0.68)"/>
<circle cx="453.2" cy="231.8" r="2.4" fill="rgba(30,144,255,0.68)"/>
<rect x="574.6" y="216.1" width="4.4" height="4.4" fill="rgba(30,144,255,0.68)"/>
<rect x="603.3" y="229.6" width="4.4" height="4.4" fill="rgba(30,144,255,0.68)"/>
<rect x="582.3" y="218.6" width="4.4" height="4.4" fill="rgba(30,144,255,0.68)"/>
<rect x="564.6" y="232.3" width="4.4" height="4.4" fill="rgba(30,144,255,0.68)"/>
<rect x="596.8" y="216.9" width="4.4" height="4.4" fill="rgba(30,144,255,0.68)"/>
<rect x="593.1" y="230.7" width="4.4" height="4.4" fill="rgba(30,144,255,0.68)"/>
<rect x="586.1" y="226.9" width="4.4" height="4.4" fill="rgba(30,144,255,0.68)"/>
<rect x="604.2" y="231.0" width="4.4" height="4.4" fill="rgba(30,144,255,0.68)"/>
<rect x="602.8" y="224.8" width="4.4" height="4.4" fill="rgba(30,144,255,0.68)"/>
<rect x="580.8" y="221.5" width="4.4" height="4.4" fill="rgba(30,144,255,0.68)"/>
<rect x="561.7" y="219.2" width="4.4" height="4.4" fill="rgba(30,144,255,0.68)"/>
<rect x="555.3" y="226.0" width="4.4" height="4.4" fill="rgba(30,144,255,0.68)"/>
<rect x="578.7" y="220.0" width="4.4" height="4.4" fill="rgba(30,144,255,0.68)"/>
<rect x="575.5" y="217.1" width="4.4" height="4.4" fill="rgba(30,144,255,0.68)"/>
<rect x="572.4" y="228.5" width="4.4" height="4.4" fill="rgba(30,144,255,0.68)"/>
<rect x="602.5" y="214.9" width="4.4" height="4.4" fill="rgba(30,144,255,0.68)"/>
<rect x="594.9" y="225.7" width="4.4" height="4.4" fill="rgba(30,144,255,0.68)"/>
<rect x="562.6" y="222.4" width="4.4" height="4.4" fill="rgba(255,140,0,0.6)"/>
<rect x="602.1" y="232.8" width="4.4" height="4.4" fill="rgba(30,144,255,0.68)"/>
<rect x="553.8" y="218.9" width="4.4" height="4.4" fill="rgba(30,144,255,0.68)"/>
<rect x="575.4" y="232.6" width="4.4" height="4.4" fill="rgba(30,144,255,0.68)"/>
<rect x="568.9" y="216.8" width="4.4" height="4.4" fill="rgba(30,144,255,0.68)"/>
<rect x="573.8" y="233.0" width="4.4" height="4.4" fill="rgba(30,144,255,0.68)"/>
<rect x="595.9" y="220.4" width="4.4" height="4.4" fill="rgba(30,144,255,0.68)"/>
<rect x="606.8" y="221.7" width="4.4" height="4.4" fill="rgba(30,144,255,0.68)"/>
<circle cx="492.0" cy="84.1" r="2.4" fill="rgba(255,140,0,0.6)"/>
<circle cx="476.6" cy="108.2" r="2.4" fill="rgba(255,140,0,0.6)"/>
<circle cx="454.7" cy="118.0" r="2.4" fill="rgba(255,140,0,0.6)"/>
<circle cx="460.9" cy="115.8" r="2.4" fill="rgba(255,140,0,0.6)"/>
<circle cx="462.6" cy="120.7" r="2.4" fill="rgba(255,140,0,0.6)"/>
<circle cx="469.8" cy="117.8" r="2.4" fill="rgba(255,140,0,0.6)"/>
<circle cx="476.0" cy="118.3" r="2.4" fill="rgba(255,140,0,0.6)"/>
<circle cx="474.9" cy="122.6" r="2.4" fill="rgba(255,140,0,0.6)"/>
<circle cx="445.4" cy="127.0" r="2.4" fill="rgba(255,140,0,0.6)"/>
<circle cx="456.7" cy="130.1" r="2.4" fill="rgba(255,140,0,0.6)"/>
<circle cx="467.7" cy="132.1" r="2.4" fill="rgba(255,140,0,0.6)"/>
<circle cx="469.2" cy="148.3" r="2.4" fill="rgba(255,140,0,0.6)"/>
<circle cx="449.3" cy="153.9" r="2.4" fill="rgba(30,144,255,0.68)"/>
<circle cx="487.8" cy="154.3" r="2.4" fill="rgba(255,140,0,0.6)"/>
<circle cx="468.8" cy="161.2" r="2.4" fill="rgba(255,140,0,0.6)"/>
<circle cx="451.4" cy="174.7" r="2.4" fill="rgba(255,140,0,0.6)"/>
<circle cx="463.5" cy="177.2" r="2.4" fill="rgba(30,144,255,0.68)"/>
<circle cx="463.9" cy="183.5" r="2.4" fill="rgba(255,140,0,0.6)"/>
<circle cx="467.8" cy="184.8" r="2.4" fill="rgba(255,140,0,0.6)"/>
<circle cx="474.0" cy="185.9" r="2.4" fill="rgba(255,140,0,0.6)"/>
<circle cx="484.3" cy="189.0" r="2.4" fill="rgba(255,140,0,0.6)"/>
<circle cx="501.6" cy="192.3" r="2.4" fill="rgba(255,140,0,0.6)"/>
<circle cx="448.4" cy="191.0" r="2.4" fill="rgba(255,140,0,0.6)"/>
<circle cx="473.4" cy="199.0" r="2.4" fill="rgba(255,140,0,0.6)"/>
<circle cx="488.7" cy="198.0" r="2.4" fill="rgba(255,140,0,0.6)"/>
<circle cx="468.8" cy="208.1" r="2.4" fill="rgba(255,140,0,0.6)"/>
<circle cx="507.3" cy="209.8" r="2.4" fill="rgba(255,140,0,0.6)"/>
<circle cx="446.4" cy="215.2" r="2.4" fill="rgba(255,140,0,0.6)"/>
<circle cx="445.8" cy="219.0" r="2.4" fill="rgba(255,140,0,0.6)"/>
<circle cx="501.8" cy="223.4" r="2.4" fill="rgba(255,140,0,0.6)"/>
<circle cx="500.1" cy="223.9" r="2.4" fill="rgba(30,144,255,0.68)"/>
<circle cx="440.7" cy="237.1" r="2.4" fill="rgba(255,140,0,0.6)"/>
<circle cx="479.0" cy="259.0" r="2.4" fill="rgba(255,140,0,0.6)"/>
<circle cx="463.9" cy="222.8" r="2.4" fill="rgba(255,140,0,0.6)"/>
<circle cx="472.6" cy="223.9" r="2.4" fill="rgba(255,140,0,0.6)"/>
<circle cx="494.0" cy="218.1" r="2.4" fill="rgba(30,144,255,0.68)"/>
<circle cx="489.0" cy="218.1" r="2.4" fill="rgba(30,144,255,0.68)"/>
<circle cx="457.6" cy="211.3" r="2.4" fill="rgba(30,144,255,0.68)"/>
<circle cx="456.9" cy="239.1" r="2.4" fill="rgba(30,144,255,0.68)"/>
<circle cx="459.2" cy="240.9" r="2.4" fill="rgba(30,144,255,0.68)"/>
<circle cx="461.0" cy="243.2" r="2.4" fill="rgba(30,144,255,0.68)"/>
<circle cx="462.7" cy="245.0" r="2.4" fill="rgba(30,144,255,0.68)"/>
<circle cx="467.4" cy="239.1" r="2.4" fill="rgba(30,144,255,0.68)"/>
<circle cx="453.4" cy="246.1" r="2.4" fill="rgba(30,144,255,0.68)"/>
<circle cx="454.5" cy="248.5" r="2.4" fill="rgba(30,144,255,0.68)"/>
<circle cx="467.6" cy="246.7" r="2.4" fill="rgba(30,144,255,0.68)"/>
<circle cx="470.3" cy="249.0" r="2.4" fill="rgba(30,144,255,0.68)"/>
<circle cx="473.2" cy="250.2" r="2.4" fill="rgba(30,144,255,0.68)"/>
<circle cx="468.0" cy="252.0" r="2.4" fill="rgba(30,144,255,0.68)"/>
<circle cx="480.2" cy="251.4" r="2.4" fill="rgba(30,144,255,0.68)"/>
<circle cx="479.6" cy="240.3" r="2.4" fill="rgba(30,144,255,0.68)"/>
<circle cx="482.6" cy="239.9" r="2.4" fill="rgba(30,144,255,0.68)"/>
<circle cx="486.9" cy="242.6" r="2.4" fill="rgba(30,144,255,0.68)"/>
<circle cx="483.1" cy="233.9" r="2.4" fill="rgba(30,144,255,0.68)"/>
<circle cx="492.5" cy="226.9" r="2.4" fill="rgba(30,144,255,0.68)"/>
<circle cx="492.8" cy="231.3" r="2.4" fill="rgba(30,144,255,0.68)"/>
<circle cx="498.9" cy="238.5" r="2.4" fill="rgba(30,144,255,0.68)"/>
<circle cx="497.2" cy="240.9" r="2.4" fill="rgba(30,144,255,0.68)"/>
<circle cx="496.6" cy="244.1" r="2.4" fill="rgba(30,144,255,0.68)"/>
<circle cx="495.6" cy="250.8" r="2.4" fill="rgba(30,144,255,0.68)"/>
<circle cx="486.4" cy="257.2" r="2.4" fill="rgba(30,144,255,0.68)"/>
<circle cx="489.9" cy="266.6" r="2.4" fill="rgba(30,144,255,0.68)"/>
<circle cx="462.5" cy="264.5" r="2.4" fill="rgba(30,144,255,0.68)"/>
<circle cx="472.3" cy="270.1" r="2.4" fill="rgba(30,144,255,0.68)"/>
<circle cx="511.2" cy="249.3" r="2.4" fill="rgba(30,144,255,0.68)"/>
<rect x="594.3" y="102.4" width="4.4" height="4.4" fill="rgba(255,140,0,0.6)"/>
<rect x="592.7" y="105.7" width="4.4" height="4.4" fill="rgba(255,140,0,0.6)"/>
<rect x="625.6" y="111.5" width="4.4" height="4.4" fill="rgba(255,140,0,0.6)"/>
<rect x="609.8" y="114.5" width="4.4" height="4.4" fill="rgba(255,140,0,0.6)"/>
<rect x="613.7" y="116.1" width="4.4" height="4.4" fill="rgba(255,140,0,0.6)"/>
<rect x="595.0" y="123.7" width="4.4" height="4.4" fill="rgba(255,140,0,0.6)"/>
<rect x="598.6" y="123.3" width="4.4" height="4.4" fill="rgba(255,140,0,0.6)"/>
<rect x="609.8" y="123.1" width="4.4" height="4.4" fill="rgba(255,140,0,0.6)"/>
<rect x="605.9" y="125.4" width="4.4" height="4.4" fill="rgba(30,144,255,0.68)"/>
<rect x="580.8" y="128.6" width="4.4" height="4.4" fill="rgba(255,140,0,0.6)"/>
<rect x="614.0" y="133.6" width="4.4" height="4.4" fill="rgba(255,140,0,0.6)"/>
<rect x="613.3" y="144.1" width="4.4" height="4.4" fill="rgba(30,144,255,0.68)"/>
<rect x="578.3" y="146.1" width="4.4" height="4.4" fill="rgba(255,140,0,0.6)"/>
<rect x="593.9" y="149.0" width="4.4" height="4.4" fill="rgba(255,140,0,0.6)"/>
<rect x="600.5" y="152.6" width="4.4" height="4.4" fill="rgba(30,144,255,0.68)"/>
<rect x="610.1" y="155.5" width="4.4" height="4.4" fill="rgba(30,144,255,0.68)"/>
<rect x="602.6" y="157.6" width="4.4" height="4.4" fill="rgba(255,140,0,0.6)"/>
<rect x="615.1" y="158.9" width="4.4" height="4.4" fill="rgba(255,140,0,0.6)"/>
<rect x="560.4" y="151.3" width="4.4" height="4.4" fill="rgba(255,140,0,0.6)"/>
<rect x="559.5" y="161.6" width="4.4" height="4.4" fill="rgba(255,140,0,0.6)"/>
<rect x="539.1" y="162.5" width="4.4" height="4.4" fill="rgba(255,140,0,0.6)"/>
<rect x="555.1" y="165.8" width="4.4" height="4.4" fill="rgba(255,140,0,0.6)"/>
<rect x="583.5" y="166.4" width="4.4" height="4.4" fill="rgba(255,140,0,0.6)"/>
<rect x="561.7" y="179.6" width="4.4" height="4.4" fill="rgba(255,140,0,0.6)"/>
<rect x="538.0" y="200.6" width="4.4" height="4.4" fill="rgba(255,140,0,0.6)"/>
<rect x="545.9" y="207.0" width="4.4" height="4.4" fill="rgba(30,144,255,0.68)"/>
<rect x="577.2" y="210.1" width="4.4" height="4.4" fill="rgba(255,140,0,0.6)"/>
<rect x="588.9" y="210.5" width="4.4" height="4.4" fill="rgba(30,144,255,0.68)"/>
<rect x="588.2" y="214.0" width="4.4" height="4.4" fill="rgba(30,144,255,0.68)"/>
<rect x="582.3" y="215.3" width="4.4" height="4.4" fill="rgba(255,140,0,0.6)"/>
<rect x="546.3" y="214.4" width="4.4" height="4.4" fill="rgba(255,140,0,0.6)"/>
<rect x="544.9" y="217.3" width="4.4" height="4.4" fill="rgba(255,140,0,0.6)"/>
<rect x="524.9" y="215.7" width="4.4" height="4.4" fill="rgba(30,144,255,0.68)"/>
<circle cx="516.6" cy="221.2" r="2.4" fill="rgba(30,144,255,0.68)"/>
<rect x="533.7" y="219.3" width="4.4" height="4.4" fill="rgba(30,144,255,0.68)"/>
<rect x="550.2" y="222.5" width="4.4" height="4.4" fill="rgba(255,140,0,0.6)"/>
<circle cx="531.0" cy="228.0" r="2.4" fill="rgba(30,144,255,0.68)"/>
<rect x="616.3" y="170.4" width="4.4" height="4.4" fill="rgba(255,140,0,0.6)"/>
<rect x="619.3" y="179.8" width="4.4" height="4.4" fill="rgba(255,140,0,0.6)"/>
<rect x="631.0" y="179.2" width="4.4" height="4.4" fill="rgba(255,140,0,0.6)"/>
<rect x="627.5" y="183.1" width="4.4" height="4.4" fill="rgba(30,144,255,0.68)"/>
<rect x="612.0" y="183.4" width="4.4" height="4.4" fill="rgba(255,140,0,0.6)"/>
<rect x="605.0" y="185.5" width="4.4" height="4.4" fill="rgba(255,140,0,0.6)"/>
<rect x="632.7" y="190.6" width="4.4" height="4.4" fill="rgba(30,144,255,0.68)"/>
<rect x="617.2" y="199.6" width="4.4" height="4.4" fill="rgba(30,144,255,0.68)"/>
<rect x="604.7" y="201.5" width="4.4" height="4.4" fill="rgba(255,140,0,0.6)"/>
<rect x="616.6" y="203.5" width="4.4" height="4.4" fill="rgba(255,140,0,0.6)"/>
<rect x="626.7" y="205.5" width="4.4" height="4.4" fill="rgba(30,144,255,0.68)"/>
<rect x="602.8" y="210.5" width="4.4" height="4.4" fill="rgba(30,144,255,0.68)"/>
<rect x="646.1" y="210.1" width="4.4" height="4.4" fill="rgba(30,144,255,0.68)"/>
<rect x="626.7" y="210.7" width="4.4" height="4.4" fill="rgba(255,140,0,0.6)"/>
<rect x="606.0" y="213.3" width="4.4" height="4.4" fill="rgba(255,140,0,0.6)"/>
<rect x="604.1" y="214.0" width="4.4" height="4.4" fill="rgba(255,140,0,0.6)"/>
<rect x="597.2" y="216.4" width="4.4" height="4.4" fill="rgba(255,140,0,0.6)"/>
<rect x="647.4" y="218.6" width="4.4" height="4.4" fill="rgba(30,144,255,0.68)"/>
<rect x="657.9" y="219.9" width="4.4" height="4.4" fill="rgba(30,144,255,0.68)"/>
<rect x="649.8" y="223.2" width="4.4" height="4.4" fill="rgba(30,144,255,0.68)"/>
<rect x="600.8" y="225.9" width="4.4" height="4.4" fill="rgba(255,140,0,0.6)"/>
<rect x="615.9" y="229.9" width="4.4" height="4.4" fill="rgba(255,140,0,0.6)"/>
<rect x="640.6" y="224.2" width="4.4" height="4.4" fill="rgba(255,140,0,0.6)"/>
<rect x="644.2" y="235.4" width="4.4" height="4.4" fill="rgba(30,144,255,0.68)"/>
<rect x="633.0" y="238.3" width="4.4" height="4.4" fill="rgba(30,144,255,0.68)"/>
<rect x="594.2" y="235.4" width="4.4" height="4.4" fill="rgba(30,144,255,0.68)"/>
<rect x="587.9" y="235.7" width="4.4" height="4.4" fill="rgba(30,144,255,0.68)"/>
<rect x="580.2" y="236.4" width="4.4" height="4.4" fill="rgba(30,144,255,0.68)"/>
<rect x="592.6" y="241.7" width="4.4" height="4.4" fill="rgba(30,144,255,0.68)"/>
<rect x="598.8" y="242.2" width="4.4" height="4.4" fill="rgba(30,144,255,0.68)"/>
<rect x="604.1" y="242.2" width="4.4" height="4.4" fill="rgba(30,144,255,0.68)"/>
<rect x="602.1" y="245.9" width="4.4" height="4.4" fill="rgba(30,144,255,0.68)"/>
<rect x="616.6" y="243.5" width="4.4" height="4.4" fill="rgba(30,144,255,0.68)"/>
<rect x="618.5" y="245.9" width="4.4" height="4.4" fill="rgba(30,144,255,0.68)"/>
<rect x="617.2" y="249.2" width="4.4" height="4.4" fill="rgba(30,144,255,0.68)"/>
<rect x="628.4" y="244.6" width="4.4" height="4.4" fill="rgba(30,144,255,0.68)"/>
<rect x="630.1" y="244.9" width="4.4" height="4.4" fill="rgba(30,144,255,0.68)"/>
<rect x="625.1" y="244.6" width="4.4" height="4.4" fill="rgba(30,144,255,0.68)"/>
<rect x="644.8" y="248.3" width="4.4" height="4.4" fill="rgba(30,144,255,0.68)"/>
<rect x="609.7" y="250.5" width="4.4" height="4.4" fill="rgba(30,144,255,0.68)"/>
<rect x="615.2" y="252.5" width="4.4" height="4.4" fill="rgba(30,144,255,0.68)"/>
<rect x="617.0" y="253.1" width="4.4" height="4.4" fill="rgba(30,144,255,0.68)"/>
<rect x="628.0" y="255.4" width="4.4" height="4.4" fill="rgba(30,144,255,0.68)"/>
<rect x="621.8" y="257.7" width="4.4" height="4.4" fill="rgba(30,144,255,0.68)"/>
<rect x="623.5" y="258.4" width="4.4" height="4.4" fill="rgba(30,144,255,0.68)"/>
<rect x="614.9" y="259.0" width="4.4" height="4.4" fill="rgba(30,144,255,0.68)"/>
<rect x="608.9" y="260.6" width="4.4" height="4.4" fill="rgba(30,144,255,0.68)"/>
<rect x="618.3" y="265.6" width="4.4" height="4.4" fill="rgba(30,144,255,0.68)"/>
<rect x="643.1" y="266.9" width="4.4" height="4.4" fill="rgba(30,144,255,0.68)"/>
<rect x="633.9" y="280.3" width="4.4" height="4.4" fill="rgba(30,144,255,0.68)"/>
<rect x="615.2" y="283.3" width="4.4" height="4.4" fill="rgba(30,144,255,0.68)"/>
<rect x="603.2" y="286.0" width="4.4" height="4.4" fill="rgba(30,144,255,0.68)"/>
<rect x="578.5" y="251.2" width="4.4" height="4.4" fill="rgba(30,144,255,0.68)"/>
<rect x="558.5" y="216.0" width="4.4" height="4.4" fill="rgba(30,144,255,0.68)"/>
<rect x="563.6" y="216.0" width="4.4" height="4.4" fill="rgba(30,144,255,0.68)"/>
<rect x="568.7" y="215.6" width="4.4" height="4.4" fill="rgba(30,144,255,0.68)"/>
<rect x="564.3" y="221.2" width="4.4" height="4.4" fill="rgba(255,140,0,0.6)"/>
<rect x="557.0" y="221.6" width="4.4" height="4.4" fill="rgba(30,144,255,0.68)"/>
<rect x="561.4" y="222.6" width="4.4" height="4.4" fill="rgba(30,144,255,0.68)"/>
<rect x="573.8" y="219.7" width="4.4" height="4.4" fill="rgba(30,144,255,0.68)"/>
<rect x="577.5" y="219.7" width="4.4" height="4.4" fill="rgba(30,144,255,0.68)"/>
<rect x="572.4" y="226.3" width="4.4" height="4.4" fill="rgba(30,144,255,0.68)"/>
<rect x="552.7" y="227.0" width="4.4" height="4.4" fill="rgba(30,144,255,0.68)"/>
<rect x="555.6" y="228.5" width="4.4" height="4.4" fill="rgba(30,144,255,0.68)"/>
<rect x="560.0" y="232.8" width="4.4" height="4.4" fill="rgba(30,144,255,0.68)"/>
<rect x="543.9" y="229.2" width="4.4" height="4.4" fill="rgba(30,144,255,0.68)"/>
<rect x="543.6" y="231.1" width="4.4" height="4.4" fill="rgba(255,140,0,0.6)"/>
<rect x="562.6" y="236.5" width="4.4" height="4.4" fill="rgba(30,144,255,0.68)"/>
<rect x="567.3" y="238.7" width="4.4" height="4.4" fill="rgba(30,144,255,0.68)"/>
<rect x="571.6" y="236.0" width="4.4" height="4.4" fill="rgba(30,144,255,0.68)"/>
<rect x="546.1" y="237.5" width="4.4" height="4.4" fill="rgba(30,144,255,0.68)"/>
<rect x="586.2" y="223.3" width="4.4" height="4.4" fill="rgba(30,144,255,0.68)"/>
<rect x="588.4" y="228.5" width="4.4" height="4.4" fill="rgba(30,144,255,0.68)"/>
<rect x="576.7" y="232.1" width="4.4" height="4.4" fill="rgba(30,144,255,0.68)"/>
<rect x="578.9" y="227.7" width="4.4" height="4.4" fill="rgba(30,144,255,0.68)"/>
<rect x="530.0" y="245.2" width="4.4" height="4.4" fill="rgba(30,144,255,0.68)"/>
<rect x="524.9" y="248.2" width="4.4" height="4.4" fill="rgba(30,144,255,0.68)"/>
<rect x="576.7" y="251.5" width="4.4" height="4.4" fill="rgba(30,144,255,0.68)"/>
<rect x="544.2" y="261.0" width="4.4" height="4.4" fill="rgba(30,144,255,0.68)"/>
<circle cx="524.5" cy="283.9" r="2.4" fill="rgba(30,144,255,0.68)"/>
<rect x="612.0" y="226.7" width="4.4" height="4.4" fill="rgba(30,144,255,0.68)"/>
<rect x="628.7" y="211.8" width="4.4" height="4.4" fill="rgba(255,140,0,0.6)"/>
<rect x="613.0" y="217.1" width="4.4" height="4.4" fill="rgba(30,144,255,0.68)"/>
<rect x="637.8" y="224.6" width="4.4" height="4.4" fill="rgba(30,144,255,0.68)"/>
<rect x="624.3" y="232.8" width="4.4" height="4.4" fill="rgba(30,144,255,0.68)"/>
<rect x="634.4" y="228.1" width="4.4" height="4.4" fill="rgba(30,144,255,0.68)"/>
<rect x="639.0" y="224.5" width="4.4" height="4.4" fill="rgba(30,144,255,0.68)"/>
<rect x="618.8" y="234.6" width="4.4" height="4.4" fill="rgba(30,144,255,0.68)"/>
<rect x="607.6" y="216.5" width="4.4" height="4.4" fill="rgba(30,144,255,0.68)"/>
<rect x="628.7" y="219.1" width="4.4" height="4.4" fill="rgba(30,144,255,0.68)"/>
<rect x="616.9" y="227.9" width="4.4" height="4.4" fill="rgba(30,144,255,0.68)"/>
<rect x="630.7" y="214.9" width="4.4" height="4.4" fill="rgba(30,144,255,0.68)"/>
<rect x="640.7" y="227.4" width="4.4" height="4.4" fill="rgba(30,144,255,0.68)"/>
<rect x="637.6" y="227.6" width="4.4" height="4.4" fill="rgba(30,144,255,0.68)"/>
<rect x="619.4" y="214.5" width="4.4" height="4.4" fill="rgba(30,144,255,0.68)"/>
<rect x="628.2" y="211.2" width="4.4" height="4.4" fill="rgba(30,144,255,0.68)"/>
<rect x="615.1" y="212.2" width="4.4" height="4.4" fill="rgba(30,144,255,0.68)"/>
<rect x="610.3" y="222.4" width="4.4" height="4.4" fill="rgba(30,144,255,0.68)"/>
<rect x="640.4" y="221.5" width="4.4" height="4.4" fill="rgba(30,144,255,0.68)"/>
<rect x="629.5" y="228.3" width="4.4" height="4.4" fill="rgba(30,144,255,0.68)"/>
<rect x="642.2" y="225.5" width="4.4" height="4.4" fill="rgba(30,144,255,0.68)"/>
<rect x="612.0" y="219.1" width="4.4" height="4.4" fill="rgba(30,144,255,0.68)"/>
<rect x="625.4" y="210.2" width="4.4" height="4.4" fill="rgba(30,144,255,0.68)"/>
<rect x="629.0" y="211.7" width="4.4" height="4.4" fill="rgba(30,144,255,0.68)"/>
<rect x="631.0" y="220.7" width="4.4" height="4.4" fill="rgba(30,144,255,0.68)"/>
<rect x="612.6" y="223.9" width="4.4" height="4.4" fill="rgba(30,144,255,0.68)"/>
<rect x="617.5" y="219.5" width="4.4" height="4.4" fill="rgba(30,144,255,0.68)"/>
<rect x="614.7" y="221.5" width="4.4" height="4.4" fill="rgba(30,144,255,0.68)"/>
<rect x="626.3" y="232.6" width="4.4" height="4.4" fill="rgba(30,144,255,0.68)"/>
<rect x="636.4" y="217.2" width="4.4" height="4.4" fill="rgba(30,144,255,0.68)"/>
<rect x="631.8" y="213.0" width="4.4" height="4.4" fill="rgba(30,144,255,0.68)"/>
<rect x="637.6" y="223.4" width="4.4" height="4.4" fill="rgba(30,144,255,0.68)"/>
<rect x="616.3" y="230.0" width="4.4" height="4.4" fill="rgba(30,144,255,0.68)"/>
<rect x="611.5" y="213.5" width="4.4" height="4.4" fill="rgba(30,144,255,0.68)"/>
<rect x="609.7" y="218.4" width="4.4" height="4.4" fill="rgba(30,144,255,0.68)"/>
<rect x="636.5" y="220.5" width="4.4" height="4.4" fill="rgba(30,144,255,0.68)"/>
<rect x="635.9" y="218.2" width="4.4" height="4.4" fill="rgba(30,144,255,0.68)"/>
<rect x="619.9" y="222.5" width="4.4" height="4.4" fill="rgba(30,144,255,0.68)"/>
<rect x="620.5" y="239.3" width="4.4" height="4.4" fill="rgba(30,144,255,0.68)"/>
<rect x="630.3" y="225.9" width="4.4" height="4.4" fill="rgba(30,144,255,0.68)"/>
<rect x="611.6" y="211.9" width="4.4" height="4.4" fill="rgba(30,144,255,0.68)"/>
<rect x="640.5" y="227.7" width="4.4" height="4.4" fill="rgba(255,140,0,0.6)"/>
<rect x="609.2" y="219.1" width="4.4" height="4.4" fill="rgba(30,144,255,0.68)"/>
<rect x="619.6" y="238.9" width="4.4" height="4.4" fill="rgba(30,144,255,0.68)"/>
<rect x="622.3" y="234.1" width="4.4" height="4.4" fill="rgba(30,144,255,0.68)"/>
<rect x="624.8" y="235.1" width="4.4" height="4.4" fill="rgba(30,144,255,0.68)"/>
<rect x="628.8" y="236.5" width="4.4" height="4.4" fill="rgba(30,144,255,0.68)"/>
<rect x="613.3" y="226.1" width="4.4" height="4.4" fill="rgba(30,144,255,0.68)"/>
<rect x="605.5" y="225.4" width="4.4" height="4.4" fill="rgba(30,144,255,0.68)"/>
<rect x="616.9" y="229.9" width="4.4" height="4.4" fill="rgba(30,144,255,0.68)"/>
<rect x="610.0" y="220.0" width="4.4" height="4.4" fill="rgba(30,144,255,0.68)"/>
<rect x="632.6" y="221.6" width="4.4" height="4.4" fill="rgba(30,144,255,0.68)"/>
<rect x="617.9" y="228.5" width="4.4" height="4.4" fill="rgba(30,144,255,0.68)"/>
<rect x="636.2" y="229.1" width="4.4" height="4.4" fill="rgba(30,144,255,0.68)"/>
<rect x="623.1" y="231.6" width="4.4" height="4.4" fill="rgba(30,144,255,0.68)"/>
<rect x="621.6" y="217.4" width="4.4" height="4.4" fill="rgba(30,144,255,0.68)"/>
<rect x="604.9" y="223.0" width="4.4" height="4.4" fill="rgba(30,144,255,0.68)"/>
<rect x="642.1" y="221.4" width="4.4" height="4.4" fill="rgba(30,144,255,0.68)"/>
<rect x="613.1" y="224.2" width="4.4" height="4.4" fill="rgba(30,144,255,0.68)"/>
<rect x="635.9" y="230.5" width="4.4" height="4.4" fill="rgba(30,144,255,0.68)"/>
<rect x="606.2" y="228.0" width="4.4" height="4.4" fill="rgba(255,140,0,0.6)"/>
<rect x="639.7" y="215.4" width="4.4" height="4.4" fill="rgba(255,140,0,0.6)"/>
<rect x="634.8" y="225.7" width="4.4" height="4.4" fill="rgba(30,144,255,0.68)"/>
<rect x="604.4" y="219.9" width="4.4" height="4.4" fill="rgba(30,144,255,0.68)"/>
<rect x="612.2" y="215.4" width="4.4" height="4.4" fill="rgba(30,144,255,0.68)"/>
<rect x="634.2" y="222.0" width="4.4" height="4.4" fill="rgba(30,144,255,0.68)"/>
<rect x="616.9" y="222.8" width="4.4" height="4.4" fill="rgba(30,144,255,0.68)"/>
<rect x="643.6" y="222.6" width="4.4" height="4.4" fill="rgba(30,144,255,0.68)"/>
<rect x="631.5" y="233.2" width="4.4" height="4.4" fill="rgba(30,144,255,0.68)"/>
<rect x="622.6" y="229.7" width="4.4" height="4.4" fill="rgba(30,144,255,0.68)"/>
<rect x="641.2" y="225.8" width="4.4" height="4.4" fill="rgba(30,144,255,0.68)"/>
<rect x="609.8" y="218.1" width="4.4" height="4.4" fill="rgba(30,144,255,0.68)"/>
<rect x="615.3" y="217.0" width="4.4" height="4.4" fill="rgba(30,144,255,0.68)"/>
<rect x="614.5" y="231.7" width="4.4" height="4.4" fill="rgba(30,144,255,0.68)"/>
<rect x="626.9" y="218.1" width="4.4" height="4.4" fill="rgba(30,144,255,0.68)"/>
<rect x="622.4" y="221.7" width="4.4" height="4.4" fill="rgba(30,144,255,0.68)"/>
<rect x="615.6" y="233.8" width="4.4" height="4.4" fill="rgba(30,144,255,0.68)"/>
<rect x="622.4" y="228.4" width="4.4" height="4.4" fill="rgba(30,144,255,0.68)"/>
<rect x="637.1" y="227.1" width="4.4" height="4.4" fill="rgba(30,144,255,0.68)"/>
<rect x="638.6" y="222.2" width="4.4" height="4.4" fill="rgba(30,144,255,0.68)"/>
<rect x="621.9" y="216.9" width="4.4" height="4.4" fill="rgba(30,144,255,0.68)"/>
<rect x="638.5" y="217.3" width="4.4" height="4.4" fill="rgba(30,144,255,0.68)"/>
<rect x="609.8" y="231.6" width="4.4" height="4.4" fill="rgba(30,144,255,0.68)"/>
<rect x="615.3" y="222.9" width="4.4" height="4.4" fill="rgba(30,144,255,0.68)"/>
<rect x="614.3" y="220.9" width="4.4" height="4.4" fill="rgba(30,144,255,0.68)"/>
<rect x="620.6" y="224.9" width="4.4" height="4.4" fill="rgba(30,144,255,0.68)"/>
<rect x="642.9" y="221.9" width="4.4" height="4.4" fill="rgba(30,144,255,0.68)"/>
<rect x="613.6" y="230.4" width="4.4" height="4.4" fill="rgba(30,144,255,0.68)"/>
<rect x="642.3" y="221.4" width="4.4" height="4.4" fill="rgba(30,144,255,0.68)"/>
<rect x="614.5" y="230.8" width="4.4" height="4.4" fill="rgba(30,144,255,0.68)"/>
<rect x="613.2" y="233.2" width="4.4" height="4.4" fill="rgba(30,144,255,0.68)"/>
<rect x="624.9" y="213.3" width="4.4" height="4.4" fill="rgba(30,144,255,0.68)"/>
<rect x="632.7" y="230.8" width="4.4" height="4.4" fill="rgba(30,144,255,0.68)"/>
<rect x="629.6" y="229.4" width="4.4" height="4.4" fill="rgba(30,144,255,0.68)"/>
<rect x="630.0" y="213.6" width="4.4" height="4.4" fill="rgba(30,144,255,0.68)"/>
<rect x="616.1" y="232.1" width="4.4" height="4.4" fill="rgba(30,144,255,0.68)"/>
<rect x="629.6" y="224.0" width="4.4" height="4.4" fill="rgba(30,144,255,0.68)"/>
<rect x="634.2" y="226.6" width="4.4" height="4.4" fill="rgba(30,144,255,0.68)"/>
<rect x="613.2" y="221.7" width="4.4" height="4.4" fill="rgba(30,144,255,0.68)"/>
<rect x="623.5" y="217.5" width="4.4" height="4.4" fill="rgba(30,144,255,0.68)"/>
<rect x="616.1" y="222.3" width="4.4" height="4.4" fill="rgba(30,144,255,0.68)"/>
<rect x="617.0" y="236.1" width="4.4" height="4.4" fill="rgba(30,144,255,0.68)"/>
<rect x="635.3" y="232.3" width="4.4" height="4.4" fill="rgba(30,144,255,0.68)"/>
<rect x="619.7" y="232.8" width="4.4" height="4.4" fill="rgba(30,144,255,0.68)"/>
<rect x="627.3" y="214.3" width="4.4" height="4.4" fill="rgba(30,144,255,0.68)"/>
<rect x="624.5" y="227.4" width="4.4" height="4.4" fill="rgba(30,144,255,0.68)"/>
<rect x="642.6" y="221.7" width="4.4" height="4.4" fill="rgba(30,144,255,0.68)"/>
<rect x="631.3" y="219.1" width="4.4" height="4.4" fill="rgba(30,144,255,0.68)"/>
<rect x="627.7" y="232.3" width="4.4" height="4.4" fill="rgba(255,140,0,0.6)"/>
<rect x="630.3" y="225.0" width="4.4" height="4.4" fill="rgba(30,144,255,0.68)"/>
<rect x="610.1" y="226.2" width="4.4" height="4.4" fill="rgba(255,140,0,0.6)"/>
<rect x="629.6" y="223.6" width="4.4" height="4.4" fill="rgba(30,144,255,0.68)"/>
<rect x="640.2" y="214.0" width="4.4" height="4.4" fill="rgba(30,144,255,0.68)"/>
<rect x="604.0" y="221.0" width="4.4" height="4.4" fill="rgba(30,144,255,0.68)"/>
<rect x="625.0" y="238.6" width="4.4" height="4.4" fill="rgba(30,144,255,0.68)"/>
<rect x="631.7" y="214.0" width="4.4" height="4.4" fill="rgba(30,144,255,0.68)"/>
<rect x="633.6" y="220.5" width="4.4" height="4.4" fill="rgba(30,144,255,0.68)"/>
<rect x="638.8" y="223.3" width="4.4" height="4.4" fill="rgba(30,144,255,0.68)"/>
<rect x="605.2" y="216.0" width="4.4" height="4.4" fill="rgba(30,144,255,0.68)"/>
<rect x="631.9" y="226.5" width="4.4" height="4.4" fill="rgba(30,144,255,0.68)"/>
<rect x="615.6" y="229.8" width="4.4" height="4.4" fill="rgba(255,140,0,0.6)"/>
<rect x="600.4" y="226.0" width="4.4" height="4.4" fill="rgba(255,140,0,0.6)"/>
<rect x="623.2" y="223.2" width="4.4" height="4.4" fill="rgba(255,140,0,0.6)"/>
<rect x="627.9" y="220.3" width="4.4" height="4.4" fill="rgba(255,140,0,0.6)"/>
<rect x="608.8" y="217.5" width="4.4" height="4.4" fill="rgba(255,140,0,0.6)"/>
<rect x="605.1" y="212.7" width="4.4" height="4.4" fill="rgba(255,140,0,0.6)"/>
<rect x="627.0" y="211.8" width="4.4" height="4.4" fill="rgba(255,140,0,0.6)"/>
<circle cx="479.0" cy="158.2" r="2.4" fill="rgba(236,40,55,0.72)"/>
<circle cx="476.2" cy="166.2" r="2.4" fill="rgba(236,40,55,0.72)"/>
<circle cx="496.4" cy="176.3" r="2.4" fill="rgba(236,40,55,0.72)"/>
<circle cx="470.6" cy="207.9" r="2.4" fill="rgba(236,40,55,0.72)"/>
<rect x="619.3" y="132.9" width="4.4" height="4.4" fill="rgba(236,40,55,0.72)"/>
<text x="479.0" y="168.6" font-size="10.3" text-anchor="middle" fill="#971a20" stroke="#971a20" stroke-width="0.25">P4PM</text>
<text x="476.2" y="176.6" font-size="10.3" text-anchor="middle" fill="#971a20" stroke="#971a20" stroke-width="0.25">P2PM</text>
<text x="496.4" y="186.7" font-size="10.3" text-anchor="middle" fill="#971a20" stroke="#971a20" stroke-width="0.25">P4NS</text>
<text x="470.6" y="218.3" font-size="10.3" text-anchor="middle" fill="#971a20" stroke="#971a20" stroke-width="0.25">NHEM</text>
<text x="621.5" y="145.5" font-size="10.3" text-anchor="middle" fill="#971a20" stroke="#971a20" stroke-width="0.25">P6PM</text>
<rect x="81.9" y="539.0" width="4.4" height="4.4" fill="rgba(30,144,255,0.68)"/>
<rect x="85.0" y="536.8" width="4.4" height="4.4" fill="rgba(30,144,255,0.68)"/>
<circle cx="87.7" cy="548.9" r="2.4" fill="rgba(255,140,0,0.6)"/>
<circle cx="86.6" cy="550.4" r="2.4" fill="rgba(30,144,255,0.68)"/>
<circle cx="89.2" cy="554.5" r="2.4" fill="rgba(30,144,255,0.68)"/>
<circle cx="104.0" cy="570.4" r="2.4" fill="rgba(30,144,255,0.68)"/>
<rect x="134.2" y="641.3" width="4.4" height="4.4" fill="rgba(30,144,255,0.68)"/>
<circle cx="109.6" cy="599.0" r="2.4" fill="rgba(255,140,0,0.6)"/>
<rect x="95.3" y="570.0" width="4.4" height="4.4" fill="rgba(30,144,255,0.68)"/>
<rect x="93.0" y="558.7" width="4.4" height="4.4" fill="rgba(30,144,255,0.68)"/>
<circle cx="102.2" cy="579.2" r="2.4" fill="rgba(30,144,255,0.68)"/>
<circle cx="123.5" cy="626.7" r="2.4" fill="rgba(30,144,255,0.68)"/>
<rect x="116.5" y="618.3" width="4.4" height="4.4" fill="rgba(255,140,0,0.6)"/>
<circle cx="101.4" cy="569.3" r="2.4" fill="rgba(30,144,255,0.68)"/>
<rect x="93.6" y="557.4" width="4.4" height="4.4" fill="rgba(30,144,255,0.68)"/>
<rect x="102.4" y="571.6" width="4.4" height="4.4" fill="rgba(30,144,255,0.68)"/>
<rect x="104.2" y="585.4" width="4.4" height="4.4" fill="rgba(30,144,255,0.68)"/>
<circle cx="107.2" cy="577.8" r="2.4" fill="rgba(30,144,255,0.68)"/>
<circle cx="108.0" cy="581.4" r="2.4" fill="rgba(30,144,255,0.68)"/>
<rect x="115.7" y="605.9" width="4.4" height="4.4" fill="rgba(30,144,255,0.68)"/>
<rect x="115.5" y="605.6" width="4.4" height="4.4" fill="rgba(30,144,255,0.68)"/>
<rect x="111.2" y="597.3" width="4.4" height="4.4" fill="rgba(255,140,0,0.6)"/>
<rect x="122.9" y="625.5" width="4.4" height="4.4" fill="rgba(30,144,255,0.68)"/>
<circle cx="114.9" cy="610.0" r="2.4" fill="rgba(30,144,255,0.68)"/>
<circle cx="112.9" cy="610.0" r="2.4" fill="rgba(255,140,0,0.6)"/>
<circle cx="101.4" cy="569.6" r="2.4" fill="rgba(30,144,255,0.68)"/>
<rect x="104.6" y="582.3" width="4.4" height="4.4" fill="rgba(30,144,255,0.68)"/>
<rect x="109.3" y="596.1" width="4.4" height="4.4" fill="rgba(30,144,255,0.68)"/>
<circle cx="103.5" cy="588.4" r="2.4" fill="rgba(30,144,255,0.68)"/>
<circle cx="124.6" cy="624.5" r="2.4" fill="rgba(30,144,255,0.68)"/>
<circle cx="105.0" cy="579.9" r="2.4" fill="rgba(30,144,255,0.68)"/>
<rect x="103.8" y="575.8" width="4.4" height="4.4" fill="rgba(30,144,255,0.68)"/>
<circle cx="99.6" cy="567.6" r="2.4" fill="rgba(30,144,255,0.68)"/>
<rect x="109.7" y="589.4" width="4.4" height="4.4" fill="rgba(30,144,255,0.68)"/>
<rect x="107.0" y="579.0" width="4.4" height="4.4" fill="rgba(30,144,255,0.68)"/>
<rect x="104.5" y="580.9" width="4.4" height="4.4" fill="rgba(30,144,255,0.68)"/>
<rect x="113.3" y="601.2" width="4.4" height="4.4" fill="rgba(30,144,255,0.68)"/>
<circle cx="103.9" cy="585.4" r="2.4" fill="rgba(30,144,255,0.68)"/>
<circle cx="107.2" cy="597.2" r="2.4" fill="rgba(30,144,255,0.68)"/>
<rect x="116.3" y="603.6" width="4.4" height="4.4" fill="rgba(255,140,0,0.6)"/>
<rect x="90.4" y="558.1" width="4.4" height="4.4" fill="rgba(30,144,255,0.68)"/>
<circle cx="105.5" cy="579.6" r="2.4" fill="rgba(30,144,255,0.68)"/>
<rect x="107.8" y="600.4" width="4.4" height="4.4" fill="rgba(30,144,255,0.68)"/>
<rect x="113.5" y="602.9" width="4.4" height="4.4" fill="rgba(30,144,255,0.68)"/>
<circle cx="93.3" cy="565.4" r="2.4" fill="rgba(30,144,255,0.68)"/>
<rect x="95.8" y="562.5" width="4.4" height="4.4" fill="rgba(30,144,255,0.68)"/>
<circle cx="111.3" cy="599.0" r="2.4" fill="rgba(30,144,255,0.68)"/>
<circle cx="93.5" cy="558.5" r="2.4" fill="rgba(30,144,255,0.68)"/>
<circle cx="112.3" cy="588.1" r="2.4" fill="rgba(30,144,255,0.68)"/>
<circle cx="95.6" cy="567.9" r="2.4" fill="rgba(30,144,255,0.68)"/>
<circle cx="99.1" cy="576.8" r="2.4" fill="rgba(30,144,255,0.68)"/>
<rect x="112.6" y="604.3" width="4.4" height="4.4" fill="rgba(30,144,255,0.68)"/>
<circle cx="103.1" cy="579.4" r="2.4" fill="rgba(30,144,255,0.68)"/>
<circle cx="116.4" cy="609.8" r="2.4" fill="rgba(30,144,255,0.68)"/>
<circle cx="108.7" cy="582.3" r="2.4" fill="rgba(30,144,255,0.68)"/>
<rect x="105.3" y="596.7" width="4.4" height="4.4" fill="rgba(30,144,255,0.68)"/>
<circle cx="94.7" cy="562.1" r="2.4" fill="rgba(30,144,255,0.68)"/>
<rect x="102.9" y="577.3" width="4.4" height="4.4" fill="rgba(30,144,255,0.68)"/>
<rect x="114.0" y="606.4" width="4.4" height="4.4" fill="rgba(30,144,255,0.68)"/>
<circle cx="91.0" cy="559.8" r="2.4" fill="rgba(30,144,255,0.68)"/>
<circle cx="105.4" cy="583.2" r="2.4" fill="rgba(30,144,255,0.68)"/>
<circle cx="123.8" cy="615.6" r="2.4" fill="rgba(30,144,255,0.68)"/>
<rect x="103.4" y="586.9" width="4.4" height="4.4" fill="rgba(30,144,255,0.68)"/>
<circle cx="104.1" cy="572.2" r="2.4" fill="rgba(30,144,255,0.68)"/>
<rect x="100.5" y="572.4" width="4.4" height="4.4" fill="rgba(30,144,255,0.68)"/>
<circle cx="108.4" cy="600.0" r="2.4" fill="rgba(30,144,255,0.68)"/>
<rect x="99.0" y="582.5" width="4.4" height="4.4" fill="rgba(30,144,255,0.68)"/>
<rect x="112.7" y="604.1" width="4.4" height="4.4" fill="rgba(30,144,255,0.68)"/>
<circle cx="114.5" cy="595.2" r="2.4" fill="rgba(30,144,255,0.68)"/>
<rect x="114.9" y="604.0" width="4.4" height="4.4" fill="rgba(30,144,255,0.68)"/>
<rect x="114.4" y="599.6" width="4.4" height="4.4" fill="rgba(30,144,255,0.68)"/>
<circle cx="114.8" cy="597.5" r="2.4" fill="rgba(30,144,255,0.68)"/>
<rect x="98.8" y="573.9" width="4.4" height="4.4" fill="rgba(30,144,255,0.68)"/>
<circle cx="119.9" cy="621.9" r="2.4" fill="rgba(30,144,255,0.68)"/>
<circle cx="105.3" cy="595.7" r="2.4" fill="rgba(30,144,255,0.68)"/>
<circle cx="110.3" cy="601.3" r="2.4" fill="rgba(30,144,255,0.68)"/>
<rect x="109.2" y="602.3" width="4.4" height="4.4" fill="rgba(30,144,255,0.68)"/>
<rect x="93.4" y="560.8" width="4.4" height="4.4" fill="rgba(30,144,255,0.68)"/>
<rect x="114.3" y="615.0" width="4.4" height="4.4" fill="rgba(30,144,255,0.68)"/>
<rect x="121.1" y="625.6" width="4.4" height="4.4" fill="rgba(30,144,255,0.68)"/>
<circle cx="93.7" cy="563.7" r="2.4" fill="rgba(30,144,255,0.68)"/>
<rect x="101.3" y="588.2" width="4.4" height="4.4" fill="rgba(30,144,255,0.68)"/>
<rect x="107.4" y="581.9" width="4.4" height="4.4" fill="rgba(30,144,255,0.68)"/>
<circle cx="117.4" cy="610.1" r="2.4" fill="rgba(30,144,255,0.68)"/>
<rect x="105.0" y="580.4" width="4.4" height="4.4" fill="rgba(30,144,255,0.68)"/>
<rect x="101.6" y="575.6" width="4.4" height="4.4" fill="rgba(30,144,255,0.68)"/>
<rect x="98.5" y="579.1" width="4.4" height="4.4" fill="rgba(30,144,255,0.68)"/>
<circle cx="106.5" cy="584.7" r="2.4" fill="rgba(30,144,255,0.68)"/>
<circle cx="105.9" cy="591.4" r="2.4" fill="rgba(30,144,255,0.68)"/>
<circle cx="105.2" cy="576.3" r="2.4" fill="rgba(30,144,255,0.68)"/>
<circle cx="122.3" cy="622.4" r="2.4" fill="rgba(30,144,255,0.68)"/>
<circle cx="93.2" cy="564.3" r="2.4" fill="rgba(30,144,255,0.68)"/>
<rect x="102.9" y="591.6" width="4.4" height="4.4" fill="rgba(30,144,255,0.68)"/>
<circle cx="100.9" cy="568.5" r="2.4" fill="rgba(30,144,255,0.68)"/>
<circle cx="109.0" cy="585.2" r="2.4" fill="rgba(30,144,255,0.68)"/>
<circle cx="107.8" cy="598.4" r="2.4" fill="rgba(30,144,255,0.68)"/>
<circle cx="92.2" cy="562.6" r="2.4" fill="rgba(30,144,255,0.68)"/>
<circle cx="98.8" cy="575.8" r="2.4" fill="rgba(30,144,255,0.68)"/>
<rect x="92.7" y="557.7" width="4.4" height="4.4" fill="rgba(30,144,255,0.68)"/>
<circle cx="116.0" cy="601.8" r="2.4" fill="rgba(30,144,255,0.68)"/>
<rect x="91.1" y="558.8" width="4.4" height="4.4" fill="rgba(30,144,255,0.68)"/>
<rect x="93.4" y="570.0" width="4.4" height="4.4" fill="rgba(30,144,255,0.68)"/>
<circle cx="97.4" cy="562.6" r="2.4" fill="rgba(30,144,255,0.68)"/>
<rect x="105.6" y="594.0" width="4.4" height="4.4" fill="rgba(30,144,255,0.68)"/>
<circle cx="118.2" cy="618.7" r="2.4" fill="rgba(30,144,255,0.68)"/>
<circle cx="112.7" cy="604.0" r="2.4" fill="rgba(30,144,255,0.68)"/>
<circle cx="104.7" cy="580.7" r="2.4" fill="rgba(30,144,255,0.68)"/>
<rect x="98.7" y="567.3" width="4.4" height="4.4" fill="rgba(30,144,255,0.68)"/>
<circle cx="123.6" cy="626.9" r="2.4" fill="rgba(30,144,255,0.68)"/>
<rect x="103.5" y="574.2" width="4.4" height="4.4" fill="rgba(30,144,255,0.68)"/>
<circle cx="95.0" cy="560.0" r="2.4" fill="rgba(30,144,255,0.68)"/>
<rect x="108.5" y="591.3" width="4.4" height="4.4" fill="rgba(30,144,255,0.68)"/>
<circle cx="117.3" cy="601.4" r="2.4" fill="rgba(30,144,255,0.68)"/>
<rect x="112.8" y="608.5" width="4.4" height="4.4" fill="rgba(30,144,255,0.68)"/>
<circle cx="94.8" cy="568.6" r="2.4" fill="rgba(30,144,255,0.68)"/>
<rect x="110.8" y="590.5" width="4.4" height="4.4" fill="rgba(30,144,255,0.68)"/>
<circle cx="100.2" cy="581.0" r="2.4" fill="rgba(30,144,255,0.68)"/>
<circle cx="105.1" cy="587.1" r="2.4" fill="rgba(30,144,255,0.68)"/>
<circle cx="115.6" cy="602.1" r="2.4" fill="rgba(30,144,255,0.68)"/>
<circle cx="118.5" cy="613.9" r="2.4" fill="rgba(30,144,255,0.68)"/>
<circle cx="109.3" cy="591.9" r="2.4" fill="rgba(30,144,255,0.68)"/>
<rect x="111.4" y="597.4" width="4.4" height="4.4" fill="rgba(30,144,255,0.68)"/>
<circle cx="105.7" cy="579.0" r="2.4" fill="rgba(30,144,255,0.68)"/>
<circle cx="92.0" cy="557.1" r="2.4" fill="rgba(30,144,255,0.68)"/>
<circle cx="106.5" cy="588.9" r="2.4" fill="rgba(30,144,255,0.68)"/>
<rect x="116.4" y="611.4" width="4.4" height="4.4" fill="rgba(30,144,255,0.68)"/>
<rect x="109.9" y="607.5" width="4.4" height="4.4" fill="rgba(30,144,255,0.68)"/>
<circle cx="124.3" cy="623.1" r="2.4" fill="rgba(30,144,255,0.68)"/>
<circle cx="104.5" cy="589.8" r="2.4" fill="rgba(30,144,255,0.68)"/>
<rect x="112.4" y="611.0" width="4.4" height="4.4" fill="rgba(30,144,255,0.68)"/>
<rect x="111.6" y="603.2" width="4.4" height="4.4" fill="rgba(30,144,255,0.68)"/>
<rect x="99.6" y="572.6" width="4.4" height="4.4" fill="rgba(30,144,255,0.68)"/>
<circle cx="105.4" cy="589.0" r="2.4" fill="rgba(30,144,255,0.68)"/>
<circle cx="108.5" cy="591.2" r="2.4" fill="rgba(30,144,255,0.68)"/>
<circle cx="98.8" cy="577.8" r="2.4" fill="rgba(30,144,255,0.68)"/>
<circle cx="102.3" cy="571.7" r="2.4" fill="rgba(30,144,255,0.68)"/>
<rect x="98.1" y="573.6" width="4.4" height="4.4" fill="rgba(30,144,255,0.68)"/>
<rect x="98.8" y="581.2" width="4.4" height="4.4" fill="rgba(30,144,255,0.68)"/>
<rect x="118.5" y="616.9" width="4.4" height="4.4" fill="rgba(30,144,255,0.68)"/>
<rect x="121.7" y="624.3" width="4.4" height="4.4" fill="rgba(30,144,255,0.68)"/>
<circle cx="116.9" cy="610.5" r="2.4" fill="rgba(30,144,255,0.68)"/>
<rect x="104.2" y="575.3" width="4.4" height="4.4" fill="rgba(255,140,0,0.6)"/>
<rect x="105.8" y="597.4" width="4.4" height="4.4" fill="rgba(30,144,255,0.68)"/>
<circle cx="101.2" cy="574.6" r="2.4" fill="rgba(30,144,255,0.68)"/>
<circle cx="123.1" cy="618.7" r="2.4" fill="rgba(30,144,255,0.68)"/>
<rect x="118.4" y="617.6" width="4.4" height="4.4" fill="rgba(30,144,255,0.68)"/>
<circle cx="94.3" cy="562.0" r="2.4" fill="rgba(30,144,255,0.68)"/>
<circle cx="120.1" cy="611.8" r="2.4" fill="rgba(30,144,255,0.68)"/>
<rect x="101.9" y="577.6" width="4.4" height="4.4" fill="rgba(30,144,255,0.68)"/>
<rect x="96.0" y="569.2" width="4.4" height="4.4" fill="rgba(30,144,255,0.68)"/>
<rect x="113.2" y="608.7" width="4.4" height="4.4" fill="rgba(30,144,255,0.68)"/>
<circle cx="112.6" cy="607.8" r="2.4" fill="rgba(30,144,255,0.68)"/>
<rect x="104.6" y="594.7" width="4.4" height="4.4" fill="rgba(30,144,255,0.68)"/>
<circle cx="111.8" cy="605.2" r="2.4" fill="rgba(30,144,255,0.68)"/>
<circle cx="97.0" cy="563.7" r="2.4" fill="rgba(30,144,255,0.68)"/>
<circle cx="98.2" cy="577.1" r="2.4" fill="rgba(30,144,255,0.68)"/>
<rect x="111.8" y="607.9" width="4.4" height="4.4" fill="rgba(30,144,255,0.68)"/>
<rect x="109.9" y="604.1" width="4.4" height="4.4" fill="rgba(30,144,255,0.68)"/>
<rect x="113.3" y="606.6" width="4.4" height="4.4" fill="rgba(30,144,255,0.68)"/>
<rect x="105.5" y="593.1" width="4.4" height="4.4" fill="rgba(30,144,255,0.68)"/>
<rect x="111.3" y="594.3" width="4.4" height="4.4" fill="rgba(30,144,255,0.68)"/>
<rect x="110.0" y="606.2" width="4.4" height="4.4" fill="rgba(30,144,255,0.68)"/>
<rect x="105.6" y="590.8" width="4.4" height="4.4" fill="rgba(30,144,255,0.68)"/>
<circle cx="107.2" cy="580.6" r="2.4" fill="rgba(30,144,255,0.68)"/>
<rect x="100.6" y="572.5" width="4.4" height="4.4" fill="rgba(30,144,255,0.68)"/>
<circle cx="116.5" cy="616.8" r="2.4" fill="rgba(255,140,0,0.6)"/>
<circle cx="105.4" cy="595.0" r="2.4" fill="rgba(30,144,255,0.68)"/>
<circle cx="114.2" cy="595.1" r="2.4" fill="rgba(30,144,255,0.68)"/>
<circle cx="98.4" cy="579.5" r="2.4" fill="rgba(30,144,255,0.68)"/>
<rect x="90.3" y="560.2" width="4.4" height="4.4" fill="rgba(30,144,255,0.68)"/>
<rect x="95.3" y="571.4" width="4.4" height="4.4" fill="rgba(30,144,255,0.68)"/>
<rect x="120.0" y="621.4" width="4.4" height="4.4" fill="rgba(30,144,255,0.68)"/>
<rect x="121.1" y="616.6" width="4.4" height="4.4" fill="rgba(30,144,255,0.68)"/>
<circle cx="102.5" cy="581.9" r="2.4" fill="rgba(30,144,255,0.68)"/>
<circle cx="108.6" cy="584.0" r="2.4" fill="rgba(30,144,255,0.68)"/>
<circle cx="116.6" cy="612.5" r="2.4" fill="rgba(30,144,255,0.68)"/>
<circle cx="97.0" cy="572.5" r="2.4" fill="rgba(30,144,255,0.68)"/>
<circle cx="124.3" cy="627.3" r="2.4" fill="rgba(30,144,255,0.68)"/>
<circle cx="121.8" cy="625.7" r="2.4" fill="rgba(30,144,255,0.68)"/>
<rect x="100.7" y="576.1" width="4.4" height="4.4" fill="rgba(30,144,255,0.68)"/>
<circle cx="108.1" cy="592.6" r="2.4" fill="rgba(30,144,255,0.68)"/>
<rect x="110.2" y="598.0" width="4.4" height="4.4" fill="rgba(30,144,255,0.68)"/>
<rect x="100.7" y="586.5" width="4.4" height="4.4" fill="rgba(30,144,255,0.68)"/>
<rect x="108.7" y="602.1" width="4.4" height="4.4" fill="rgba(30,144,255,0.68)"/>
<rect x="109.8" y="607.0" width="4.4" height="4.4" fill="rgba(30,144,255,0.68)"/>
<rect x="97.3" y="578.6" width="4.4" height="4.4" fill="rgba(30,144,255,0.68)"/>
<circle cx="107.0" cy="598.1" r="2.4" fill="rgba(30,144,255,0.68)"/>
<rect x="90.5" y="562.0" width="4.4" height="4.4" fill="rgba(30,144,255,0.68)"/>
<circle cx="107.9" cy="587.6" r="2.4" fill="rgba(30,144,255,0.68)"/>
<circle cx="109.7" cy="600.1" r="2.4" fill="rgba(30,144,255,0.68)"/>
<circle cx="119.4" cy="612.1" r="2.4" fill="rgba(30,144,255,0.68)"/>
<rect x="109.5" y="591.3" width="4.4" height="4.4" fill="rgba(30,144,255,0.68)"/>
<circle cx="104.7" cy="576.0" r="2.4" fill="rgba(30,144,255,0.68)"/>
<circle cx="113.6" cy="592.8" r="2.4" fill="rgba(30,144,255,0.68)"/>
<circle cx="113.9" cy="604.1" r="2.4" fill="rgba(30,144,255,0.68)"/>
<rect x="100.2" y="572.0" width="4.4" height="4.4" fill="rgba(30,144,255,0.68)"/>
<circle cx="95.4" cy="571.2" r="2.4" fill="rgba(30,144,255,0.68)"/>
<rect x="108.7" y="593.3" width="4.4" height="4.4" fill="rgba(30,144,255,0.68)"/>
<circle cx="113.0" cy="598.3" r="2.4" fill="rgba(30,144,255,0.68)"/>
<circle cx="120.8" cy="608.6" r="2.4" fill="rgba(30,144,255,0.68)"/>
<circle cx="117.5" cy="609.3" r="2.4" fill="rgba(30,144,255,0.68)"/>
<circle cx="96.4" cy="570.8" r="2.4" fill="rgba(30,144,255,0.68)"/>
<circle cx="97.3" cy="572.6" r="2.4" fill="rgba(30,144,255,0.68)"/>
<rect x="99.9" y="566.2" width="4.4" height="4.4" fill="rgba(30,144,255,0.68)"/>
<circle cx="100.5" cy="575.1" r="2.4" fill="rgba(30,144,255,0.68)"/>
<rect x="119.9" y="625.3" width="4.4" height="4.4" fill="rgba(30,144,255,0.68)"/>
<rect x="107.7" y="598.7" width="4.4" height="4.4" fill="rgba(30,144,255,0.68)"/>
<circle cx="99.2" cy="563.5" r="2.4" fill="rgba(30,144,255,0.68)"/>
<circle cx="97.0" cy="568.5" r="2.4" fill="rgba(30,144,255,0.68)"/>
<circle cx="121.6" cy="610.4" r="2.4" fill="rgba(30,144,255,0.68)"/>
<rect x="103.0" y="582.3" width="4.4" height="4.4" fill="rgba(30,144,255,0.68)"/>
<rect x="104.3" y="585.3" width="4.4" height="4.4" fill="rgba(30,144,255,0.68)"/>
<circle cx="100.0" cy="581.8" r="2.4" fill="rgba(30,144,255,0.68)"/>
<circle cx="109.5" cy="593.3" r="2.4" fill="rgba(30,144,255,0.68)"/>
<rect x="99.6" y="571.7" width="4.4" height="4.4" fill="rgba(30,144,255,0.68)"/>
<circle cx="109.4" cy="598.1" r="2.4" fill="rgba(30,144,255,0.68)"/>
<circle cx="95.3" cy="563.9" r="2.4" fill="rgba(30,144,255,0.68)"/>
<circle cx="117.5" cy="614.6" r="2.4" fill="rgba(30,144,255,0.68)"/>
<circle cx="107.7" cy="585.7" r="2.4" fill="rgba(30,144,255,0.68)"/>
<rect x="104.6" y="594.9" width="4.4" height="4.4" fill="rgba(30,144,255,0.68)"/>
<rect x="112.4" y="600.0" width="4.4" height="4.4" fill="rgba(30,144,255,0.68)"/>
<circle cx="100.7" cy="568.9" r="2.4" fill="rgba(30,144,255,0.68)"/>
<rect x="102.8" y="571.8" width="4.4" height="4.4" fill="rgba(30,144,255,0.68)"/>
<circle cx="98.8" cy="578.9" r="2.4" fill="rgba(30,144,255,0.68)"/>
<circle cx="94.3" cy="566.8" r="2.4" fill="rgba(30,144,255,0.68)"/>
<circle cx="123.0" cy="628.1" r="2.4" fill="rgba(30,144,255,0.68)"/>
<rect x="112.7" y="610.1" width="4.4" height="4.4" fill="rgba(30,144,255,0.68)"/>
<rect x="91.6" y="555.1" width="4.4" height="4.4" fill="rgba(30,144,255,0.68)"/>
<circle cx="108.5" cy="583.0" r="2.4" fill="rgba(30,144,255,0.68)"/>
<rect x="114.8" y="610.2" width="4.4" height="4.4" fill="rgba(30,144,255,0.68)"/>
<rect x="95.0" y="564.2" width="4.4" height="4.4" fill="rgba(30,144,255,0.68)"/>
<circle cx="100.9" cy="584.9" r="2.4" fill="rgba(30,144,255,0.68)"/>
<circle cx="98.8" cy="570.9" r="2.4" fill="rgba(30,144,255,0.68)"/>
<rect x="115.6" y="599.6" width="4.4" height="4.4" fill="rgba(30,144,255,0.68)"/>
<rect x="105.5" y="588.0" width="4.4" height="4.4" fill="rgba(30,144,255,0.68)"/>
<rect x="119.7" y="612.5" width="4.4" height="4.4" fill="rgba(30,144,255,0.68)"/>
<circle cx="99.6" cy="571.4" r="2.4" fill="rgba(30,144,255,0.68)"/>
<circle cx="119.3" cy="618.5" r="2.4" fill="rgba(30,144,255,0.68)"/>
<rect x="90.4" y="559.3" width="4.4" height="4.4" fill="rgba(30,144,255,0.68)"/>
<rect x="103.2" y="583.2" width="4.4" height="4.4" fill="rgba(30,144,255,0.68)"/>
<circle cx="122.5" cy="627.7" r="2.4" fill="rgba(30,144,255,0.68)"/>
<circle cx="109.7" cy="581.9" r="2.4" fill="rgba(30,144,255,0.68)"/>
<circle cx="98.5" cy="569.1" r="2.4" fill="rgba(30,144,255,0.68)"/>
<rect x="103.2" y="591.8" width="4.4" height="4.4" fill="rgba(30,144,255,0.68)"/>
<rect x="105.1" y="578.2" width="4.4" height="4.4" fill="rgba(30,144,255,0.68)"/>
<rect x="106.2" y="581.4" width="4.4" height="4.4" fill="rgba(30,144,255,0.68)"/>
<circle cx="108.1" cy="586.4" r="2.4" fill="rgba(30,144,255,0.68)"/>
<circle cx="107.5" cy="592.9" r="2.4" fill="rgba(255,140,0,0.6)"/>
<rect x="117.0" y="617.1" width="4.4" height="4.4" fill="rgba(30,144,255,0.68)"/>
<rect x="94.8" y="565.1" width="4.4" height="4.4" fill="rgba(30,144,255,0.68)"/>
<rect x="95.3" y="571.5" width="4.4" height="4.4" fill="rgba(30,144,255,0.68)"/>
<rect x="106.9" y="595.4" width="4.4" height="4.4" fill="rgba(30,144,255,0.68)"/>
<circle cx="119.6" cy="620.6" r="2.4" fill="rgba(30,144,255,0.68)"/>
<rect x="110.7" y="589.8" width="4.4" height="4.4" fill="rgba(30,144,255,0.68)"/>
<rect x="114.2" y="605.8" width="4.4" height="4.4" fill="rgba(30,144,255,0.68)"/>
<circle cx="108.7" cy="599.9" r="2.4" fill="rgba(30,144,255,0.68)"/>
<circle cx="91.3" cy="558.5" r="2.4" fill="rgba(30,144,255,0.68)"/>
<rect x="124.6" y="617.3" width="4.4" height="4.4" fill="rgba(30,144,255,0.68)"/>
<rect x="131.2" y="627.0" width="4.4" height="4.4" fill="rgba(30,144,255,0.68)"/>
<circle cx="132.0" cy="635.0" r="2.4" fill="rgba(30,144,255,0.68)"/>
<rect x="120.9" y="629.1" width="4.4" height="4.4" fill="rgba(30,144,255,0.68)"/>
<circle cx="128.0" cy="627.0" r="2.4" fill="rgba(30,144,255,0.68)"/>
<rect x="127.8" y="630.8" width="4.4" height="4.4" fill="rgba(30,144,255,0.68)"/>
<circle cx="126.0" cy="633.5" r="2.4" fill="rgba(30,144,255,0.68)"/>
<rect x="133.3" y="625.8" width="4.4" height="4.4" fill="rgba(30,144,255,0.68)"/>
<circle cx="97.2" cy="564.8" r="2.4" fill="rgba(255,140,0,0.6)"/>
<rect x="100.2" y="572.2" width="4.4" height="4.4" fill="rgba(255,140,0,0.6)"/>
<circle cx="101.6" cy="584.7" r="2.4" fill="rgba(255,140,0,0.6)"/>
<rect x="108.3" y="597.3" width="4.4" height="4.4" fill="rgba(255,140,0,0.6)"/>
<circle cx="117.2" cy="605.5" r="2.4" fill="rgba(255,140,0,0.6)"/>
<rect x="117.2" y="604.8" width="4.4" height="4.4" fill="rgba(255,140,0,0.6)"/>
<circle cx="123.8" cy="618.8" r="2.4" fill="rgba(255,140,0,0.6)"/>
<rect x="114.2" y="615.8" width="4.4" height="4.4" fill="rgba(255,140,0,0.6)"/>
<circle cx="104.6" cy="592.1" r="2.4" fill="rgba(255,140,0,0.6)"/>
<circle cx="95.7" cy="577.4" r="2.4" fill="rgba(255,140,0,0.6)"/>
<circle cx="96.3" cy="447.2" r="2.4" fill="rgba(236,40,55,0.72)"/>
<circle cx="251.4" cy="439.9" r="2.4" fill="rgba(236,40,55,0.72)"/>
<circle cx="211.4" cy="469.9" r="2.4" fill="rgba(236,40,55,0.72)"/>
<rect x="231.5" y="477.5" width="4.4" height="4.4" fill="rgba(236,40,55,0.72)"/>
<circle cx="298.2" cy="477.8" r="2.4" fill="rgba(236,40,55,0.72)"/>
<text x="96.3" y="458.5" font-size="10.3" text-anchor="middle" fill="#971a20" stroke="#971a20" stroke-width="0.25">P4NS</text>
<text x="251.4" y="451.2" font-size="10.3" text-anchor="middle" fill="#971a20" stroke="#971a20" stroke-width="0.25">P2PM</text>
<text x="211.4" y="481.2" font-size="10.3" text-anchor="middle" fill="#971a20" stroke="#971a20" stroke-width="0.25">NHEM</text>
<text x="233.7" y="491.0" font-size="10.3" text-anchor="middle" fill="#971a20" stroke="#971a20" stroke-width="0.25">P6PM</text>
<text x="298.2" y="489.1" font-size="10.3" text-anchor="middle" fill="#971a20" stroke="#971a20" stroke-width="0.25">P4PM</text>
<rect x="459.3" y="438.2" width="4.4" height="4.4" fill="rgba(30,144,255,0.68)"/>
<circle cx="465.8" cy="457.5" r="2.4" fill="rgba(255,140,0,0.6)"/>
<rect x="493.0" y="470.3" width="4.4" height="4.4" fill="rgba(255,140,0,0.6)"/>
<circle cx="458.2" cy="477.0" r="2.4" fill="rgba(255,140,0,0.6)"/>
<rect x="469.7" y="475.3" width="4.4" height="4.4" fill="rgba(255,140,0,0.6)"/>
<circle cx="482.1" cy="485.4" r="2.4" fill="rgba(255,140,0,0.6)"/>
<rect x="487.5" y="483.5" width="4.4" height="4.4" fill="rgba(255,140,0,0.6)"/>
<circle cx="459.6" cy="489.6" r="2.4" fill="rgba(255,140,0,0.6)"/>
<circle cx="462.1" cy="490.0" r="2.4" fill="rgba(255,140,0,0.6)"/>
<rect x="462.1" y="492.0" width="4.4" height="4.4" fill="rgba(30,144,255,0.68)"/>
<circle cx="503.5" cy="496.2" r="2.4" fill="rgba(255,140,0,0.6)"/>
<rect x="463.0" y="496.6" width="4.4" height="4.4" fill="rgba(255,140,0,0.6)"/>
<circle cx="481.6" cy="500.9" r="2.4" fill="rgba(255,140,0,0.6)"/>
<circle cx="480.6" cy="505.6" r="2.4" fill="rgba(255,140,0,0.6)"/>
<rect x="497.2" y="502.0" width="4.4" height="4.4" fill="rgba(255,140,0,0.6)"/>
<rect x="447.6" y="500.5" width="4.4" height="4.4" fill="rgba(255,140,0,0.6)"/>
<circle cx="515.1" cy="448.7" r="2.4" fill="rgba(255,140,0,0.6)"/>
<circle cx="530.4" cy="465.9" r="2.4" fill="rgba(255,140,0,0.6)"/>
<circle cx="570.3" cy="462.9" r="2.4" fill="rgba(255,140,0,0.6)"/>
<circle cx="573.5" cy="461.2" r="2.4" fill="rgba(255,140,0,0.6)"/>
<rect x="574.8" y="469.5" width="4.4" height="4.4" fill="rgba(255,140,0,0.6)"/>
<rect x="587.1" y="463.6" width="4.4" height="4.4" fill="rgba(255,140,0,0.6)"/>
<rect x="557.6" y="485.5" width="4.4" height="4.4" fill="rgba(255,140,0,0.6)"/>
<circle cx="564.5" cy="493.9" r="2.4" fill="rgba(255,140,0,0.6)"/>
<rect x="538.3" y="505.9" width="4.4" height="4.4" fill="rgba(255,140,0,0.6)"/>
<rect x="573.6" y="507.1" width="4.4" height="4.4" fill="rgba(30,144,255,0.68)"/>
<rect x="586.6" y="508.3" width="4.4" height="4.4" fill="rgba(255,140,0,0.6)"/>
<circle cx="600.1" cy="485.7" r="2.4" fill="rgba(255,140,0,0.6)"/>
<rect x="602.9" y="482.1" width="4.4" height="4.4" fill="rgba(255,140,0,0.6)"/>
<rect x="608.6" y="504.0" width="4.4" height="4.4" fill="rgba(255,140,0,0.6)"/>
<rect x="609.0" y="509.2" width="4.4" height="4.4" fill="rgba(255,140,0,0.6)"/>
<rect x="440.5" y="515.3" width="4.4" height="4.4" fill="rgba(30,144,255,0.68)"/>
<circle cx="485.3" cy="514.6" r="2.4" fill="rgba(255,140,0,0.6)"/>
<circle cx="468.9" cy="518.2" r="2.4" fill="rgba(30,144,255,0.68)"/>
<rect x="469.1" y="514.8" width="4.4" height="4.4" fill="rgba(255,140,0,0.6)"/>
<rect x="459.7" y="518.6" width="4.4" height="4.4" fill="rgba(255,140,0,0.6)"/>
<circle cx="476.1" cy="521.9" r="2.4" fill="rgba(255,140,0,0.6)"/>
<rect x="488.3" y="520.0" width="4.4" height="4.4" fill="rgba(255,140,0,0.6)"/>
<rect x="460.7" y="525.6" width="4.4" height="4.4" fill="rgba(255,140,0,0.6)"/>
<rect x="465.7" y="525.9" width="4.4" height="4.4" fill="rgba(30,144,255,0.68)"/>
<circle cx="481.2" cy="528.0" r="2.4" fill="rgba(30,144,255,0.68)"/>
<circle cx="486.2" cy="528.9" r="2.4" fill="rgba(255,140,0,0.6)"/>
<rect x="465.1" y="530.8" width="4.4" height="4.4" fill="rgba(255,140,0,0.6)"/>
<rect x="443.5" y="534.3" width="4.4" height="4.4" fill="rgba(255,140,0,0.6)"/>
<rect x="454.5" y="535.9" width="4.4" height="4.4" fill="rgba(30,144,255,0.68)"/>
<rect x="451.7" y="538.8" width="4.4" height="4.4" fill="rgba(255,140,0,0.6)"/>
<circle cx="482.1" cy="536.3" r="2.4" fill="rgba(255,140,0,0.6)"/>
<rect x="477.4" y="536.7" width="4.4" height="4.4" fill="rgba(30,144,255,0.68)"/>
<circle cx="487.6" cy="538.9" r="2.4" fill="rgba(30,144,255,0.68)"/>
<circle cx="474.5" cy="542.1" r="2.4" fill="rgba(255,140,0,0.6)"/>
<circle cx="471.6" cy="545.3" r="2.4" fill="rgba(255,140,0,0.6)"/>
<rect x="465.3" y="542.5" width="4.4" height="4.4" fill="rgba(30,144,255,0.68)"/>
<rect x="439.4" y="547.8" width="4.4" height="4.4" fill="rgba(30,144,255,0.68)"/>
<rect x="505.6" y="546.8" width="4.4" height="4.4" fill="rgba(30,144,255,0.68)"/>
<rect x="466.2" y="549.5" width="4.4" height="4.4" fill="rgba(255,140,0,0.6)"/>
<rect x="467.7" y="550.7" width="4.4" height="4.4" fill="rgba(30,144,255,0.68)"/>
<rect x="474.1" y="549.2" width="4.4" height="4.4" fill="rgba(30,144,255,0.68)"/>
<rect x="456.0" y="550.7" width="4.4" height="4.4" fill="rgba(30,144,255,0.68)"/>
<circle cx="461.7" cy="556.4" r="2.4" fill="rgba(30,144,255,0.68)"/>
<rect x="475.9" y="554.2" width="4.4" height="4.4" fill="rgba(255,140,0,0.6)"/>
<rect x="468.3" y="554.2" width="4.4" height="4.4" fill="rgba(255,140,0,0.6)"/>
<rect x="480.2" y="557.1" width="4.4" height="4.4" fill="rgba(30,144,255,0.68)"/>
<circle cx="469.0" cy="560.8" r="2.4" fill="rgba(255,140,0,0.6)"/>
<circle cx="463.2" cy="561.6" r="2.4" fill="rgba(255,140,0,0.6)"/>
<circle cx="463.8" cy="565.1" r="2.4" fill="rgba(30,144,255,0.68)"/>
<rect x="489.9" y="562.6" width="4.4" height="4.4" fill="rgba(30,144,255,0.68)"/>
<circle cx="505.5" cy="563.4" r="2.4" fill="rgba(255,140,0,0.6)"/>
<rect x="501.9" y="564.5" width="4.4" height="4.4" fill="rgba(255,140,0,0.6)"/>
<rect x="460.3" y="567.0" width="4.4" height="4.4" fill="rgba(30,144,255,0.68)"/>
<circle cx="472.8" cy="567.8" r="2.4" fill="rgba(30,144,255,0.68)"/>
<circle cx="475.7" cy="569.2" r="2.4" fill="rgba(30,144,255,0.68)"/>
<rect x="477.6" y="567.0" width="4.4" height="4.4" fill="rgba(255,140,0,0.6)"/>
<rect x="468.6" y="568.8" width="4.4" height="4.4" fill="rgba(255,140,0,0.6)"/>
<rect x="484.8" y="568.6" width="4.4" height="4.4" fill="rgba(30,144,255,0.68)"/>
<circle cx="493.2" cy="573.1" r="2.4" fill="rgba(30,144,255,0.68)"/>
<circle cx="491.2" cy="574.8" r="2.4" fill="rgba(255,140,0,0.6)"/>
<rect x="453.7" y="574.3" width="4.4" height="4.4" fill="rgba(255,140,0,0.6)"/>
<circle cx="455.3" cy="579.4" r="2.4" fill="rgba(30,144,255,0.68)"/>
<rect x="458.3" y="578.7" width="4.4" height="4.4" fill="rgba(255,140,0,0.6)"/>
<circle cx="464.3" cy="578.6" r="2.4" fill="rgba(30,144,255,0.68)"/>
<rect x="471.2" y="575.8" width="4.4" height="4.4" fill="rgba(30,144,255,0.68)"/>
<circle cx="476.3" cy="578.0" r="2.4" fill="rgba(30,144,255,0.68)"/>
<rect x="470.6" y="578.5" width="4.4" height="4.4" fill="rgba(30,144,255,0.68)"/>
<circle cx="437.4" cy="637.7" r="2.4" fill="rgba(30,144,255,0.68)"/>
<circle cx="449.7" cy="644.4" r="2.4" fill="rgba(30,144,255,0.68)"/>
<circle cx="443.6" cy="619.1" r="2.4" fill="rgba(30,144,255,0.68)"/>
<circle cx="447.7" cy="608.5" r="2.4" fill="rgba(30,144,255,0.68)"/>
<rect x="450.5" y="603.4" width="4.4" height="4.4" fill="rgba(255,140,0,0.6)"/>
<circle cx="449.4" cy="596.6" r="2.4" fill="rgba(30,144,255,0.68)"/>
<circle cx="455.6" cy="586.4" r="2.4" fill="rgba(30,144,255,0.68)"/>
<circle cx="502.6" cy="605.0" r="2.4" fill="rgba(30,144,255,0.68)"/>
<rect x="502.7" y="612.8" width="4.4" height="4.4" fill="rgba(30,144,255,0.68)"/>
<rect x="505.6" y="609.3" width="4.4" height="4.4" fill="rgba(30,144,255,0.68)"/>
<circle cx="499.1" cy="599.8" r="2.4" fill="rgba(255,140,0,0.6)"/>
<circle cx="502.0" cy="596.3" r="2.4" fill="rgba(30,144,255,0.68)"/>
<rect x="502.7" y="597.6" width="4.4" height="4.4" fill="rgba(30,144,255,0.68)"/>
<rect x="489.9" y="584.2" width="4.4" height="4.4" fill="rgba(255,140,0,0.6)"/>
<rect x="498.0" y="586.5" width="4.4" height="4.4" fill="rgba(30,144,255,0.68)"/>
<rect x="494.5" y="606.3" width="4.4" height="4.4" fill="rgba(30,144,255,0.68)"/>
<rect x="488.7" y="608.7" width="4.4" height="4.4" fill="rgba(255,140,0,0.6)"/>
<rect x="501.5" y="627.9" width="4.4" height="4.4" fill="rgba(30,144,255,0.68)"/>
<circle cx="498.5" cy="633.1" r="2.4" fill="rgba(30,144,255,0.68)"/>
<rect x="496.3" y="623.9" width="4.4" height="4.4" fill="rgba(30,144,255,0.68)"/>
<rect x="488.7" y="627.4" width="4.4" height="4.4" fill="rgba(30,144,255,0.68)"/>
<circle cx="486.2" cy="631.9" r="2.4" fill="rgba(30,144,255,0.68)"/>
<rect x="485.8" y="633.8" width="4.4" height="4.4" fill="rgba(30,144,255,0.68)"/>
<circle cx="481.0" cy="633.7" r="2.4" fill="rgba(30,144,255,0.68)"/>
<rect x="474.1" y="633.6" width="4.4" height="4.4" fill="rgba(255,140,0,0.6)"/>
<rect x="471.8" y="636.7" width="4.4" height="4.4" fill="rgba(30,144,255,0.68)"/>
<rect x="461.3" y="635.5" width="4.4" height="4.4" fill="rgba(30,144,255,0.68)"/>
<rect x="464.8" y="635.0" width="4.4" height="4.4" fill="rgba(30,144,255,0.68)"/>
<rect x="468.8" y="629.1" width="4.4" height="4.4" fill="rgba(30,144,255,0.68)"/>
<circle cx="520.3" cy="570.9" r="2.4" fill="rgba(255,140,0,0.6)"/>
<rect x="511.2" y="572.8" width="4.4" height="4.4" fill="rgba(30,144,255,0.68)"/>
<circle cx="541.1" cy="574.7" r="2.4" fill="rgba(30,144,255,0.68)"/>
<rect x="532.7" y="577.7" width="4.4" height="4.4" fill="rgba(30,144,255,0.68)"/>
<circle cx="574.0" cy="574.7" r="2.4" fill="rgba(30,144,255,0.68)"/>
<rect x="525.1" y="589.2" width="4.4" height="4.4" fill="rgba(255,140,0,0.6)"/>
<rect x="546.5" y="587.7" width="4.4" height="4.4" fill="rgba(255,140,0,0.6)"/>
<circle cx="559.0" cy="596.9" r="2.4" fill="rgba(30,144,255,0.68)"/>
<rect x="561.7" y="597.6" width="4.4" height="4.4" fill="rgba(30,144,255,0.68)"/>
<circle cx="571.1" cy="599.0" r="2.4" fill="rgba(30,144,255,0.68)"/>
<rect x="572.9" y="594.4" width="4.4" height="4.4" fill="rgba(30,144,255,0.68)"/>
<circle cx="575.3" cy="598.4" r="2.4" fill="rgba(30,144,255,0.68)"/>
<circle cx="579.9" cy="601.5" r="2.4" fill="rgba(30,144,255,0.68)"/>
<rect x="579.8" y="601.3" width="4.4" height="4.4" fill="rgba(30,144,255,0.68)"/>
<rect x="586.0" y="603.4" width="4.4" height="4.4" fill="rgba(30,144,255,0.68)"/>
<rect x="515.2" y="603.1" width="4.4" height="4.4" fill="rgba(255,140,0,0.6)"/>
<rect x="519.9" y="606.3" width="4.4" height="4.4" fill="rgba(30,144,255,0.68)"/>
<rect x="507.4" y="609.3" width="4.4" height="4.4" fill="rgba(30,144,255,0.68)"/>
<rect x="513.8" y="610.4" width="4.4" height="4.4" fill="rgba(30,144,255,0.68)"/>
<rect x="545.6" y="605.5" width="4.4" height="4.4" fill="rgba(30,144,255,0.68)"/>
<circle cx="555.5" cy="608.3" r="2.4" fill="rgba(30,144,255,0.68)"/>
<circle cx="566.5" cy="609.7" r="2.4" fill="rgba(30,144,255,0.68)"/>
<rect x="571.6" y="609.8" width="4.4" height="4.4" fill="rgba(30,144,255,0.68)"/>
<rect x="575.7" y="608.4" width="4.4" height="4.4" fill="rgba(255,140,0,0.6)"/>
<rect x="579.8" y="614.2" width="4.4" height="4.4" fill="rgba(30,144,255,0.68)"/>
<circle cx="520.3" cy="621.4" r="2.4" fill="rgba(30,144,255,0.68)"/>
<rect x="517.0" y="622.5" width="4.4" height="4.4" fill="rgba(30,144,255,0.68)"/>
<rect x="531.6" y="623.3" width="4.4" height="4.4" fill="rgba(30,144,255,0.68)"/>
<circle cx="550.2" cy="626.4" r="2.4" fill="rgba(30,144,255,0.68)"/>
<rect x="528.1" y="630.9" width="4.4" height="4.4" fill="rgba(30,144,255,0.68)"/>
<rect x="571.0" y="629.1" width="4.4" height="4.4" fill="rgba(30,144,255,0.68)"/>
<rect x="586.0" y="627.9" width="4.4" height="4.4" fill="rgba(30,144,255,0.68)"/>
<rect x="586.0" y="633.2" width="4.4" height="4.4" fill="rgba(30,144,255,0.68)"/>
<circle cx="594.3" cy="570.4" r="2.4" fill="rgba(255,140,0,0.6)"/>
<rect x="607.8" y="570.4" width="4.4" height="4.4" fill="rgba(30,144,255,0.68)"/>
<circle cx="612.4" cy="576.7" r="2.4" fill="rgba(255,140,0,0.6)"/>
<circle cx="659.4" cy="579.9" r="2.4" fill="rgba(30,144,255,0.68)"/>
<circle cx="596.9" cy="581.1" r="2.4" fill="rgba(30,144,255,0.68)"/>
<rect x="591.5" y="582.0" width="4.4" height="4.4" fill="rgba(30,144,255,0.68)"/>
<rect x="598.1" y="581.8" width="4.4" height="4.4" fill="rgba(30,144,255,0.68)"/>
<rect x="598.1" y="584.2" width="4.4" height="4.4" fill="rgba(30,144,255,0.68)"/>
<rect x="602.9" y="581.6" width="4.4" height="4.4" fill="rgba(255,140,0,0.6)"/>
<circle cx="600.1" cy="590.1" r="2.4" fill="rgba(255,140,0,0.6)"/>
<rect x="599.6" y="590.6" width="4.4" height="4.4" fill="rgba(30,144,255,0.68)"/>
<rect x="612.5" y="580.1" width="4.4" height="4.4" fill="rgba(30,144,255,0.68)"/>
<circle cx="615.6" cy="584.2" r="2.4" fill="rgba(30,144,255,0.68)"/>
<circle cx="621.2" cy="581.9" r="2.4" fill="rgba(30,144,255,0.68)"/>
<rect x="619.2" y="582.4" width="4.4" height="4.4" fill="rgba(255,140,0,0.6)"/>
<circle cx="627.2" cy="592.4" r="2.4" fill="rgba(30,144,255,0.68)"/>
<circle cx="637.5" cy="593.0" r="2.4" fill="rgba(30,144,255,0.68)"/>
<circle cx="634.0" cy="596.6" r="2.4" fill="rgba(30,144,255,0.68)"/>
<rect x="645.8" y="596.2" width="4.4" height="4.4" fill="rgba(255,140,0,0.6)"/>
<circle cx="635.7" cy="602.5" r="2.4" fill="rgba(30,144,255,0.68)"/>
<rect x="637.0" y="599.1" width="4.4" height="4.4" fill="rgba(30,144,255,0.68)"/>
<circle cx="631.0" cy="607.1" r="2.4" fill="rgba(30,144,255,0.68)"/>
<rect x="649.9" y="607.5" width="4.4" height="4.4" fill="rgba(30,144,255,0.68)"/>
<rect x="643.7" y="615.7" width="4.4" height="4.4" fill="rgba(30,144,255,0.68)"/>
<circle cx="638.6" cy="626.6" r="2.4" fill="rgba(30,144,255,0.68)"/>
<rect x="641.1" y="627.9" width="4.4" height="4.4" fill="rgba(30,144,255,0.68)"/>
<rect x="632.0" y="627.9" width="4.4" height="4.4" fill="rgba(30,144,255,0.68)"/>
<circle cx="622.5" cy="630.5" r="2.4" fill="rgba(30,144,255,0.68)"/>
<rect x="601.8" y="628.5" width="4.4" height="4.4" fill="rgba(30,144,255,0.68)"/>
<rect x="612.5" y="631.4" width="4.4" height="4.4" fill="rgba(30,144,255,0.68)"/>
<rect x="615.8" y="633.6" width="4.4" height="4.4" fill="rgba(30,144,255,0.68)"/>
<rect x="602.6" y="637.9" width="4.4" height="4.4" fill="rgba(30,144,255,0.68)"/>
<rect x="606.1" y="636.7" width="4.4" height="4.4" fill="rgba(30,144,255,0.68)"/>
<rect x="610.7" y="637.9" width="4.4" height="4.4" fill="rgba(30,144,255,0.68)"/>
<circle cx="590.8" cy="595.1" r="2.4" fill="rgba(30,144,255,0.68)"/>
<circle cx="594.8" cy="595.7" r="2.4" fill="rgba(30,144,255,0.68)"/>
<circle cx="610.0" cy="597.4" r="2.4" fill="rgba(30,144,255,0.68)"/>
<circle cx="614.7" cy="595.7" r="2.4" fill="rgba(30,144,255,0.68)"/>
<rect x="614.8" y="595.2" width="4.4" height="4.4" fill="rgba(30,144,255,0.68)"/>
<circle cx="612.9" cy="599.8" r="2.4" fill="rgba(30,144,255,0.68)"/>
<rect x="624.8" y="611.6" width="4.4" height="4.4" fill="rgba(30,144,255,0.68)"/>
<circle cx="634.0" cy="613.8" r="2.4" fill="rgba(30,144,255,0.68)"/>
<rect x="630.9" y="617.4" width="4.4" height="4.4" fill="rgba(30,144,255,0.68)"/>
<rect x="621.8" y="619.8" width="4.4" height="4.4" fill="rgba(30,144,255,0.68)"/>
<circle cx="629.3" cy="623.7" r="2.4" fill="rgba(30,144,255,0.68)"/>
<rect x="626.5" y="623.8" width="4.4" height="4.4" fill="rgba(30,144,255,0.68)"/>
<rect x="618.1" y="602.8" width="4.4" height="4.4" fill="rgba(30,144,255,0.68)"/>
<rect x="620.1" y="606.3" width="4.4" height="4.4" fill="rgba(30,144,255,0.68)"/>
<rect x="596.7" y="622.1" width="4.4" height="4.4" fill="rgba(30,144,255,0.68)"/>
<rect x="589.7" y="623.3" width="4.4" height="4.4" fill="rgba(30,144,255,0.68)"/>
<circle cx="569.8" cy="520.0" r="2.4" fill="rgba(255,140,0,0.6)"/>
<rect x="565.9" y="523.6" width="4.4" height="4.4" fill="rgba(30,144,255,0.68)"/>
<rect x="509.8" y="546.9" width="4.4" height="4.4" fill="rgba(255,140,0,0.6)"/>
<rect x="575.2" y="565.9" width="4.4" height="4.4" fill="rgba(30,144,255,0.68)"/>
<circle cx="580.9" cy="568.3" r="2.4" fill="rgba(255,140,0,0.6)"/>
<rect x="582.2" y="557.7" width="4.4" height="4.4" fill="rgba(255,140,0,0.6)"/>
<rect x="582.2" y="562.9" width="4.4" height="4.4" fill="rgba(255,140,0,0.6)"/>
<rect x="622.5" y="513.2" width="4.4" height="4.4" fill="rgba(255,140,0,0.6)"/>
<circle cx="588.1" cy="525.7" r="2.4" fill="rgba(255,140,0,0.6)"/>
<rect x="597.1" y="529.7" width="4.4" height="4.4" fill="rgba(255,140,0,0.6)"/>
<rect x="636.9" y="527.6" width="4.4" height="4.4" fill="rgba(255,140,0,0.6)"/>
<circle cx="599.3" cy="538.9" r="2.4" fill="rgba(30,144,255,0.68)"/>
<circle cx="601.8" cy="541.4" r="2.4" fill="rgba(255,140,0,0.6)"/>
<circle cx="588.4" cy="559.7" r="2.4" fill="rgba(30,144,255,0.68)"/>
<circle cx="588.7" cy="569.4" r="2.4" fill="rgba(255,140,0,0.6)"/>
<circle cx="630.1" cy="565.1" r="2.4" fill="rgba(255,140,0,0.6)"/>
<circle cx="489.7" cy="598.5" r="2.4" fill="rgba(30,144,255,0.68)"/>
<rect x="471.3" y="594.8" width="4.4" height="4.4" fill="rgba(30,144,255,0.68)"/>
<rect x="484.3" y="586.2" width="4.4" height="4.4" fill="rgba(30,144,255,0.68)"/>
<circle cx="459.6" cy="591.8" r="2.4" fill="rgba(30,144,255,0.68)"/>
<circle cx="490.2" cy="595.1" r="2.4" fill="rgba(30,144,255,0.68)"/>
<circle cx="454.7" cy="598.0" r="2.4" fill="rgba(30,144,255,0.68)"/>
<rect x="479.5" y="583.1" width="4.4" height="4.4" fill="rgba(30,144,255,0.68)"/>
<rect x="457.8" y="592.2" width="4.4" height="4.4" fill="rgba(30,144,255,0.68)"/>
<rect x="493.3" y="588.7" width="4.4" height="4.4" fill="rgba(30,144,255,0.68)"/>
<circle cx="480.1" cy="585.6" r="2.4" fill="rgba(30,144,255,0.68)"/>
<rect x="491.8" y="588.9" width="4.4" height="4.4" fill="rgba(30,144,255,0.68)"/>
<circle cx="465.6" cy="582.9" r="2.4" fill="rgba(30,144,255,0.68)"/>
<circle cx="481.0" cy="585.7" r="2.4" fill="rgba(30,144,255,0.68)"/>
<circle cx="487.3" cy="587.9" r="2.4" fill="rgba(30,144,255,0.68)"/>
<rect x="487.6" y="588.7" width="4.4" height="4.4" fill="rgba(30,144,255,0.68)"/>
<circle cx="470.5" cy="580.1" r="2.4" fill="rgba(30,144,255,0.68)"/>
<circle cx="456.2" cy="592.7" r="2.4" fill="rgba(30,144,255,0.68)"/>
<rect x="460.5" y="586.1" width="4.4" height="4.4" fill="rgba(30,144,255,0.68)"/>
<circle cx="463.4" cy="589.9" r="2.4" fill="rgba(30,144,255,0.68)"/>
<circle cx="468.9" cy="585.6" r="2.4" fill="rgba(30,144,255,0.68)"/>
<circle cx="496.2" cy="587.4" r="2.4" fill="rgba(30,144,255,0.68)"/>
<rect x="467.7" y="588.0" width="4.4" height="4.4" fill="rgba(30,144,255,0.68)"/>
<rect x="470.3" y="577.2" width="4.4" height="4.4" fill="rgba(255,140,0,0.6)"/>
<rect x="453.4" y="593.8" width="4.4" height="4.4" fill="rgba(30,144,255,0.68)"/>
<rect x="478.5" y="586.4" width="4.4" height="4.4" fill="rgba(30,144,255,0.68)"/>
<circle cx="474.6" cy="589.7" r="2.4" fill="rgba(30,144,255,0.68)"/>
<circle cx="457.2" cy="593.6" r="2.4" fill="rgba(30,144,255,0.68)"/>
<rect x="479.2" y="578.2" width="4.4" height="4.4" fill="rgba(30,144,255,0.68)"/>
<rect x="479.3" y="593.3" width="4.4" height="4.4" fill="rgba(30,144,255,0.68)"/>
<rect x="452.0" y="591.3" width="4.4" height="4.4" fill="rgba(30,144,255,0.68)"/>
<rect x="492.5" y="587.1" width="4.4" height="4.4" fill="rgba(30,144,255,0.68)"/>
<circle cx="495.4" cy="589.0" r="2.4" fill="rgba(30,144,255,0.68)"/>
<rect x="461.6" y="593.6" width="4.4" height="4.4" fill="rgba(255,140,0,0.6)"/>
<circle cx="492.9" cy="585.0" r="2.4" fill="rgba(30,144,255,0.68)"/>
<rect x="452.1" y="596.2" width="4.4" height="4.4" fill="rgba(30,144,255,0.68)"/>
<circle cx="461.9" cy="620.9" r="2.4" fill="rgba(30,144,255,0.68)"/>
<rect x="454.2" y="617.9" width="4.4" height="4.4" fill="rgba(30,144,255,0.68)"/>
<circle cx="479.3" cy="613.5" r="2.4" fill="rgba(30,144,255,0.68)"/>
<rect x="467.4" y="603.1" width="4.4" height="4.4" fill="rgba(30,144,255,0.68)"/>
<rect x="467.3" y="629.8" width="4.4" height="4.4" fill="rgba(30,144,255,0.68)"/>
<circle cx="482.0" cy="614.7" r="2.4" fill="rgba(30,144,255,0.68)"/>
<rect x="469.3" y="618.4" width="4.4" height="4.4" fill="rgba(30,144,255,0.68)"/>
<rect x="461.1" y="618.5" width="4.4" height="4.4" fill="rgba(30,144,255,0.68)"/>
<rect x="466.9" y="613.4" width="4.4" height="4.4" fill="rgba(30,144,255,0.68)"/>
<circle cx="473.4" cy="602.4" r="2.4" fill="rgba(30,144,255,0.68)"/>
<rect x="463.7" y="620.2" width="4.4" height="4.4" fill="rgba(30,144,255,0.68)"/>
<circle cx="469.8" cy="611.6" r="2.4" fill="rgba(30,144,255,0.68)"/>
<circle cx="480.9" cy="608.0" r="2.4" fill="rgba(30,144,255,0.68)"/>
<circle cx="460.2" cy="606.1" r="2.4" fill="rgba(255,140,0,0.6)"/>
<rect x="469.0" y="619.9" width="4.4" height="4.4" fill="rgba(30,144,255,0.68)"/>
<rect x="461.8" y="603.1" width="4.4" height="4.4" fill="rgba(30,144,255,0.68)"/>
<rect x="486.2" y="606.2" width="4.4" height="4.4" fill="rgba(30,144,255,0.68)"/>
<circle cx="470.7" cy="617.1" r="2.4" fill="rgba(30,144,255,0.68)"/>
<circle cx="485.4" cy="613.7" r="2.4" fill="rgba(30,144,255,0.68)"/>
<circle cx="459.9" cy="593.3" r="2.4" fill="rgba(30,144,255,0.68)"/>
<circle cx="464.5" cy="607.7" r="2.4" fill="rgba(30,144,255,0.68)"/>
<circle cx="445.7" cy="609.8" r="2.4" fill="rgba(30,144,255,0.68)"/>
<rect x="465.4" y="612.4" width="4.4" height="4.4" fill="rgba(30,144,255,0.68)"/>
<circle cx="467.0" cy="613.6" r="2.4" fill="rgba(255,140,0,0.6)"/>
<circle cx="457.6" cy="595.2" r="2.4" fill="rgba(30,144,255,0.68)"/>
<circle cx="472.4" cy="622.1" r="2.4" fill="rgba(30,144,255,0.68)"/>
<rect x="448.5" y="617.7" width="4.4" height="4.4" fill="rgba(30,144,255,0.68)"/>
<circle cx="478.3" cy="606.3" r="2.4" fill="rgba(30,144,255,0.68)"/>
<circle cx="459.8" cy="598.4" r="2.4" fill="rgba(30,144,255,0.68)"/>
<circle cx="467.9" cy="613.8" r="2.4" fill="rgba(30,144,255,0.68)"/>
<circle cx="473.1" cy="615.5" r="2.4" fill="rgba(30,144,255,0.68)"/>
<rect x="454.2" y="610.9" width="4.4" height="4.4" fill="rgba(30,144,255,0.68)"/>
<rect x="455.0" y="610.6" width="4.4" height="4.4" fill="rgba(30,144,255,0.68)"/>
<circle cx="461.4" cy="600.4" r="2.4" fill="rgba(30,144,255,0.68)"/>
<circle cx="476.1" cy="599.4" r="2.4" fill="rgba(255,140,0,0.6)"/>
<circle cx="478.2" cy="625.5" r="2.4" fill="rgba(30,144,255,0.68)"/>
<rect x="469.8" y="620.6" width="4.4" height="4.4" fill="rgba(30,144,255,0.68)"/>
<circle cx="472.0" cy="621.9" r="2.4" fill="rgba(30,144,255,0.68)"/>
<circle cx="471.9" cy="611.9" r="2.4" fill="rgba(30,144,255,0.68)"/>
<rect x="484.0" y="607.1" width="4.4" height="4.4" fill="rgba(30,144,255,0.68)"/>
<rect x="480.0" y="596.2" width="4.4" height="4.4" fill="rgba(30,144,255,0.68)"/>
<rect x="466.6" y="590.8" width="4.4" height="4.4" fill="rgba(30,144,255,0.68)"/>
<rect x="471.7" y="600.5" width="4.4" height="4.4" fill="rgba(30,144,255,0.68)"/>
<rect x="457.6" y="622.4" width="4.4" height="4.4" fill="rgba(30,144,255,0.68)"/>
<rect x="469.6" y="612.0" width="4.4" height="4.4" fill="rgba(30,144,255,0.68)"/>
<circle cx="490.2" cy="612.7" r="2.4" fill="rgba(30,144,255,0.68)"/>
<circle cx="475.9" cy="624.4" r="2.4" fill="rgba(30,144,255,0.68)"/>
<circle cx="477.5" cy="610.9" r="2.4" fill="rgba(30,144,255,0.68)"/>
<circle cx="472.0" cy="616.6" r="2.4" fill="rgba(30,144,255,0.68)"/>
<rect x="477.5" y="621.8" width="4.4" height="4.4" fill="rgba(30,144,255,0.68)"/>
<rect x="451.8" y="618.3" width="4.4" height="4.4" fill="rgba(30,144,255,0.68)"/>
<circle cx="465.2" cy="615.5" r="2.4" fill="rgba(30,144,255,0.68)"/>
<circle cx="469.5" cy="604.3" r="2.4" fill="rgba(255,140,0,0.6)"/>
<rect x="491.5" y="621.5" width="4.4" height="4.4" fill="rgba(30,144,255,0.68)"/>
<rect x="458.4" y="605.7" width="4.4" height="4.4" fill="rgba(30,144,255,0.68)"/>
<rect x="501.7" y="618.6" width="4.4" height="4.4" fill="rgba(30,144,255,0.68)"/>
<circle cx="445.6" cy="624.5" r="2.4" fill="rgba(30,144,255,0.68)"/>
<circle cx="480.7" cy="615.4" r="2.4" fill="rgba(30,144,255,0.68)"/>
<circle cx="475.6" cy="610.9" r="2.4" fill="rgba(30,144,255,0.68)"/>
<rect x="473.2" y="606.9" width="4.4" height="4.4" fill="rgba(30,144,255,0.68)"/>
<circle cx="481.2" cy="611.3" r="2.4" fill="rgba(30,144,255,0.68)"/>
<rect x="478.5" y="604.4" width="4.4" height="4.4" fill="rgba(30,144,255,0.68)"/>
<circle cx="464.1" cy="624.4" r="2.4" fill="rgba(30,144,255,0.68)"/>
<rect x="474.8" y="618.4" width="4.4" height="4.4" fill="rgba(30,144,255,0.68)"/>
<rect x="464.0" y="612.8" width="4.4" height="4.4" fill="rgba(30,144,255,0.68)"/>
<rect x="460.9" y="605.7" width="4.4" height="4.4" fill="rgba(30,144,255,0.68)"/>
<rect x="451.2" y="615.8" width="4.4" height="4.4" fill="rgba(30,144,255,0.68)"/>
<rect x="474.5" y="606.5" width="4.4" height="4.4" fill="rgba(30,144,255,0.68)"/>
<circle cx="488.5" cy="608.4" r="2.4" fill="rgba(255,140,0,0.6)"/>
<circle cx="478.5" cy="607.1" r="2.4" fill="rgba(30,144,255,0.68)"/>
<circle cx="473.9" cy="607.6" r="2.4" fill="rgba(30,144,255,0.68)"/>
<circle cx="477.3" cy="613.2" r="2.4" fill="rgba(30,144,255,0.68)"/>
<circle cx="498.2" cy="606.7" r="2.4" fill="rgba(30,144,255,0.68)"/>
<rect x="470.0" y="596.1" width="4.4" height="4.4" fill="rgba(30,144,255,0.68)"/>
<circle cx="479.3" cy="599.7" r="2.4" fill="rgba(30,144,255,0.68)"/>
<circle cx="462.1" cy="616.7" r="2.4" fill="rgba(30,144,255,0.68)"/>
<circle cx="475.2" cy="626.9" r="2.4" fill="rgba(255,140,0,0.6)"/>
<rect x="470.0" y="610.8" width="4.4" height="4.4" fill="rgba(30,144,255,0.68)"/>
<circle cx="469.4" cy="617.2" r="2.4" fill="rgba(30,144,255,0.68)"/>
<circle cx="474.1" cy="613.1" r="2.4" fill="rgba(30,144,255,0.68)"/>
<rect x="476.3" y="617.1" width="4.4" height="4.4" fill="rgba(30,144,255,0.68)"/>
<circle cx="462.7" cy="608.1" r="2.4" fill="rgba(30,144,255,0.68)"/>
<circle cx="449.3" cy="627.5" r="2.4" fill="rgba(30,144,255,0.68)"/>
<rect x="456.3" y="598.7" width="4.4" height="4.4" fill="rgba(30,144,255,0.68)"/>
<rect x="464.6" y="607.9" width="4.4" height="4.4" fill="rgba(30,144,255,0.68)"/>
<rect x="487.2" y="600.8" width="4.4" height="4.4" fill="rgba(30,144,255,0.68)"/>
<circle cx="472.6" cy="604.2" r="2.4" fill="rgba(30,144,255,0.68)"/>
<rect x="465.7" y="610.4" width="4.4" height="4.4" fill="rgba(255,140,0,0.6)"/>
<rect x="458.4" y="615.9" width="4.4" height="4.4" fill="rgba(30,144,255,0.68)"/>
<circle cx="465.6" cy="602.5" r="2.4" fill="rgba(255,140,0,0.6)"/>
<circle cx="469.1" cy="621.5" r="2.4" fill="rgba(30,144,255,0.68)"/>
<circle cx="484.2" cy="625.5" r="2.4" fill="rgba(30,144,255,0.68)"/>
<circle cx="458.2" cy="602.4" r="2.4" fill="rgba(30,144,255,0.68)"/>
<rect x="493.5" y="612.1" width="4.4" height="4.4" fill="rgba(30,144,255,0.68)"/>
<circle cx="474.3" cy="625.1" r="2.4" fill="rgba(30,144,255,0.68)"/>
<rect x="472.9" y="628.6" width="4.4" height="4.4" fill="rgba(30,144,255,0.68)"/>
<circle cx="479.6" cy="622.0" r="2.4" fill="rgba(30,144,255,0.68)"/>
<circle cx="472.4" cy="633.9" r="2.4" fill="rgba(30,144,255,0.68)"/>
<circle cx="485.6" cy="605.7" r="2.4" fill="rgba(30,144,255,0.68)"/>
<circle cx="470.1" cy="615.6" r="2.4" fill="rgba(30,144,255,0.68)"/>
<circle cx="469.1" cy="629.9" r="2.4" fill="rgba(30,144,255,0.68)"/>
<circle cx="484.7" cy="617.1" r="2.4" fill="rgba(30,144,255,0.68)"/>
<circle cx="452.3" cy="611.1" r="2.4" fill="rgba(30,144,255,0.68)"/>
<rect x="466.7" y="612.1" width="4.4" height="4.4" fill="rgba(30,144,255,0.68)"/>
<rect x="461.7" y="618.9" width="4.4" height="4.4" fill="rgba(30,144,255,0.68)"/>
<rect x="476.3" y="593.3" width="4.4" height="4.4" fill="rgba(30,144,255,0.68)"/>
<rect x="464.8" y="607.7" width="4.4" height="4.4" fill="rgba(30,144,255,0.68)"/>
<rect x="450.8" y="606.0" width="4.4" height="4.4" fill="rgba(30,144,255,0.68)"/>
<rect x="469.8" y="615.8" width="4.4" height="4.4" fill="rgba(30,144,255,0.68)"/>
<circle cx="458.9" cy="606.7" r="2.4" fill="rgba(30,144,255,0.68)"/>
<rect x="466.6" y="614.7" width="4.4" height="4.4" fill="rgba(30,144,255,0.68)"/>
<rect x="470.6" y="602.4" width="4.4" height="4.4" fill="rgba(30,144,255,0.68)"/>
<circle cx="472.8" cy="635.3" r="2.4" fill="rgba(30,144,255,0.68)"/>
<circle cx="473.7" cy="615.3" r="2.4" fill="rgba(30,144,255,0.68)"/>
<circle cx="471.7" cy="614.9" r="2.4" fill="rgba(30,144,255,0.68)"/>
<rect x="461.4" y="608.6" width="4.4" height="4.4" fill="rgba(30,144,255,0.68)"/>
<rect x="445.2" y="625.1" width="4.4" height="4.4" fill="rgba(30,144,255,0.68)"/>
<circle cx="470.7" cy="620.6" r="2.4" fill="rgba(30,144,255,0.68)"/>
<circle cx="478.9" cy="618.9" r="2.4" fill="rgba(30,144,255,0.68)"/>
<circle cx="471.0" cy="633.5" r="2.4" fill="rgba(30,144,255,0.68)"/>
<rect x="468.6" y="597.9" width="4.4" height="4.4" fill="rgba(30,144,255,0.68)"/>
<circle cx="483.7" cy="617.9" r="2.4" fill="rgba(30,144,255,0.68)"/>
<rect x="459.6" y="610.1" width="4.4" height="4.4" fill="rgba(30,144,255,0.68)"/>
<rect x="469.2" y="607.7" width="4.4" height="4.4" fill="rgba(30,144,255,0.68)"/>
<circle cx="477.8" cy="609.3" r="2.4" fill="rgba(30,144,255,0.68)"/>
<rect x="456.5" y="625.4" width="4.4" height="4.4" fill="rgba(30,144,255,0.68)"/>
<circle cx="470.8" cy="603.4" r="2.4" fill="rgba(30,144,255,0.68)"/>
<circle cx="465.9" cy="605.8" r="2.4" fill="rgba(30,144,255,0.68)"/>
<circle cx="470.6" cy="623.7" r="2.4" fill="rgba(30,144,255,0.68)"/>
<rect x="462.5" y="620.7" width="4.4" height="4.4" fill="rgba(30,144,255,0.68)"/>
<rect x="466.2" y="604.1" width="4.4" height="4.4" fill="rgba(30,144,255,0.68)"/>
<rect x="463.7" y="621.3" width="4.4" height="4.4" fill="rgba(30,144,255,0.68)"/>
<rect x="460.0" y="599.4" width="4.4" height="4.4" fill="rgba(30,144,255,0.68)"/>
<rect x="459.4" y="621.1" width="4.4" height="4.4" fill="rgba(30,144,255,0.68)"/>
<circle cx="460.6" cy="620.9" r="2.4" fill="rgba(30,144,255,0.68)"/>
<rect x="475.2" y="625.7" width="4.4" height="4.4" fill="rgba(30,144,255,0.68)"/>
<rect x="473.7" y="608.6" width="4.4" height="4.4" fill="rgba(30,144,255,0.68)"/>
<circle cx="460.8" cy="602.5" r="2.4" fill="rgba(30,144,255,0.68)"/>
<circle cx="470.2" cy="612.6" r="2.4" fill="rgba(30,144,255,0.68)"/>
<circle cx="465.5" cy="629.7" r="2.4" fill="rgba(30,144,255,0.68)"/>
<circle cx="479.3" cy="612.9" r="2.4" fill="rgba(30,144,255,0.68)"/>
<circle cx="466.9" cy="611.4" r="2.4" fill="rgba(30,144,255,0.68)"/>
<circle cx="441.9" cy="613.6" r="2.4" fill="rgba(30,144,255,0.68)"/>
<rect x="466.6" y="612.5" width="4.4" height="4.4" fill="rgba(255,140,0,0.6)"/>
<circle cx="473.9" cy="599.0" r="2.4" fill="rgba(30,144,255,0.68)"/>
<rect x="459.4" y="607.6" width="4.4" height="4.4" fill="rgba(30,144,255,0.68)"/>
<circle cx="463.6" cy="617.9" r="2.4" fill="rgba(30,144,255,0.68)"/>
<circle cx="488.3" cy="604.9" r="2.4" fill="rgba(30,144,255,0.68)"/>
<rect x="449.3" y="610.6" width="4.4" height="4.4" fill="rgba(30,144,255,0.68)"/>
<rect x="462.7" y="615.0" width="4.4" height="4.4" fill="rgba(30,144,255,0.68)"/>
<circle cx="585.2" cy="610.1" r="2.4" fill="rgba(30,144,255,0.68)"/>
<circle cx="606.7" cy="600.4" r="2.4" fill="rgba(30,144,255,0.68)"/>
<circle cx="615.7" cy="613.2" r="2.4" fill="rgba(30,144,255,0.68)"/>
<rect x="593.2" y="609.7" width="4.4" height="4.4" fill="rgba(30,144,255,0.68)"/>
<rect x="570.6" y="625.4" width="4.4" height="4.4" fill="rgba(30,144,255,0.68)"/>
<rect x="607.3" y="606.8" width="4.4" height="4.4" fill="rgba(30,144,255,0.68)"/>
<rect x="610.1" y="608.4" width="4.4" height="4.4" fill="rgba(30,144,255,0.68)"/>
<rect x="596.7" y="604.9" width="4.4" height="4.4" fill="rgba(30,144,255,0.68)"/>
<rect x="566.5" y="613.9" width="4.4" height="4.4" fill="rgba(30,144,255,0.68)"/>
<circle cx="614.6" cy="596.5" r="2.4" fill="rgba(255,140,0,0.6)"/>
<rect x="620.2" y="613.8" width="4.4" height="4.4" fill="rgba(30,144,255,0.68)"/>
<circle cx="591.6" cy="621.2" r="2.4" fill="rgba(30,144,255,0.68)"/>
<circle cx="579.1" cy="605.4" r="2.4" fill="rgba(30,144,255,0.68)"/>
<rect x="600.7" y="622.9" width="4.4" height="4.4" fill="rgba(30,144,255,0.68)"/>
<rect x="589.7" y="606.5" width="4.4" height="4.4" fill="rgba(30,144,255,0.68)"/>
<rect x="611.1" y="606.5" width="4.4" height="4.4" fill="rgba(30,144,255,0.68)"/>
<rect x="595.1" y="607.0" width="4.4" height="4.4" fill="rgba(255,140,0,0.6)"/>
<rect x="595.7" y="616.7" width="4.4" height="4.4" fill="rgba(30,144,255,0.68)"/>
<rect x="601.6" y="603.4" width="4.4" height="4.4" fill="rgba(30,144,255,0.68)"/>
<rect x="604.7" y="609.0" width="4.4" height="4.4" fill="rgba(30,144,255,0.68)"/>
<rect x="588.2" y="616.8" width="4.4" height="4.4" fill="rgba(30,144,255,0.68)"/>
<circle cx="599.4" cy="615.1" r="2.4" fill="rgba(30,144,255,0.68)"/>
<rect x="608.6" y="613.1" width="4.4" height="4.4" fill="rgba(30,144,255,0.68)"/>
<circle cx="613.4" cy="596.1" r="2.4" fill="rgba(30,144,255,0.68)"/>
<rect x="607.1" y="608.3" width="4.4" height="4.4" fill="rgba(30,144,255,0.68)"/>
<circle cx="598.9" cy="605.6" r="2.4" fill="rgba(30,144,255,0.68)"/>
<circle cx="599.6" cy="607.8" r="2.4" fill="rgba(30,144,255,0.68)"/>
<circle cx="609.8" cy="617.4" r="2.4" fill="rgba(30,144,255,0.68)"/>
<rect x="592.9" y="615.2" width="4.4" height="4.4" fill="rgba(30,144,255,0.68)"/>
<circle cx="577.9" cy="618.6" r="2.4" fill="rgba(30,144,255,0.68)"/>
<circle cx="602.0" cy="616.4" r="2.4" fill="rgba(30,144,255,0.68)"/>
<rect x="602.3" y="600.1" width="4.4" height="4.4" fill="rgba(30,144,255,0.68)"/>
<rect x="595.9" y="618.5" width="4.4" height="4.4" fill="rgba(30,144,255,0.68)"/>
<rect x="594.8" y="605.1" width="4.4" height="4.4" fill="rgba(30,144,255,0.68)"/>
<rect x="599.4" y="616.4" width="4.4" height="4.4" fill="rgba(30,144,255,0.68)"/>
<rect x="595.7" y="609.1" width="4.4" height="4.4" fill="rgba(30,144,255,0.68)"/>
<rect x="603.9" y="601.6" width="4.4" height="4.4" fill="rgba(30,144,255,0.68)"/>
<circle cx="592.8" cy="610.1" r="2.4" fill="rgba(255,140,0,0.6)"/>
<rect x="623.3" y="608.7" width="4.4" height="4.4" fill="rgba(30,144,255,0.68)"/>
<rect x="604.9" y="615.5" width="4.4" height="4.4" fill="rgba(30,144,255,0.68)"/>
<rect x="615.0" y="611.3" width="4.4" height="4.4" fill="rgba(30,144,255,0.68)"/>
<rect x="607.8" y="609.7" width="4.4" height="4.4" fill="rgba(30,144,255,0.68)"/>
<circle cx="618.5" cy="613.5" r="2.4" fill="rgba(30,144,255,0.68)"/>
<circle cx="592.3" cy="600.2" r="2.4" fill="rgba(30,144,255,0.68)"/>
<rect x="615.6" y="613.1" width="4.4" height="4.4" fill="rgba(30,144,255,0.68)"/>
<rect x="601.6" y="616.7" width="4.4" height="4.4" fill="rgba(30,144,255,0.68)"/>
<rect x="613.9" y="608.6" width="4.4" height="4.4" fill="rgba(255,140,0,0.6)"/>
<circle cx="595.1" cy="622.7" r="2.4" fill="rgba(30,144,255,0.68)"/>
<circle cx="603.9" cy="605.9" r="2.4" fill="rgba(30,144,255,0.68)"/>
<circle cx="597.0" cy="610.7" r="2.4" fill="rgba(30,144,255,0.68)"/>
<circle cx="610.9" cy="616.0" r="2.4" fill="rgba(30,144,255,0.68)"/>
<rect x="606.0" y="616.6" width="4.4" height="4.4" fill="rgba(30,144,255,0.68)"/>
<circle cx="606.5" cy="607.8" r="2.4" fill="rgba(30,144,255,0.68)"/>
<rect x="592.1" y="608.5" width="4.4" height="4.4" fill="rgba(30,144,255,0.68)"/>
<rect x="610.8" y="617.7" width="4.4" height="4.4" fill="rgba(30,144,255,0.68)"/>
<rect x="594.7" y="622.1" width="4.4" height="4.4" fill="rgba(30,144,255,0.68)"/>
<rect x="590.1" y="615.5" width="4.4" height="4.4" fill="rgba(30,144,255,0.68)"/>
<rect x="604.8" y="602.0" width="4.4" height="4.4" fill="rgba(30,144,255,0.68)"/>
<circle cx="605.0" cy="598.6" r="2.4" fill="rgba(30,144,255,0.68)"/>
<circle cx="605.0" cy="616.9" r="2.4" fill="rgba(255,140,0,0.6)"/>
<circle cx="454.5" cy="500.3" r="2.4" fill="rgba(236,40,55,0.72)"/>
<circle cx="499.4" cy="524.9" r="2.4" fill="rgba(236,40,55,0.72)"/>
<circle cx="554.6" cy="537.1" r="2.4" fill="rgba(236,40,55,0.72)"/>
<rect x="566.8" y="539.9" width="4.4" height="4.4" fill="rgba(236,40,55,0.72)"/>
<circle cx="559.9" cy="561.9" r="2.4" fill="rgba(236,40,55,0.72)"/>
<text x="454.5" y="509.9" font-size="10.3" text-anchor="middle" fill="#971a20" stroke="#971a20" stroke-width="0.25">P2PM</text>
<text x="499.4" y="534.5" font-size="10.3" text-anchor="middle" fill="#971a20" stroke="#971a20" stroke-width="0.25">P4NS</text>
<text x="554.6" y="546.7" font-size="10.3" text-anchor="middle" fill="#971a20" stroke="#971a20" stroke-width="0.25">P4PM</text>
<text x="569.0" y="551.7" font-size="10.3" text-anchor="middle" fill="#971a20" stroke="#971a20" stroke-width="0.25">P6PM</text>
<text x="559.9" y="571.5" font-size="10.3" text-anchor="middle" fill="#971a20" stroke="#971a20" stroke-width="0.25">NHEM</text></svg>
</body></html>
